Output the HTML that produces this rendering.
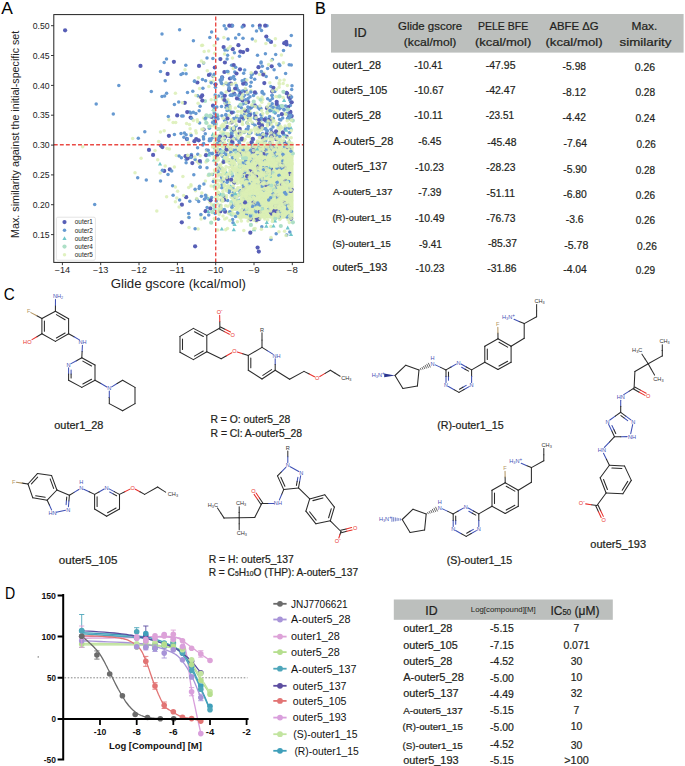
<!DOCTYPE html>
<html><head><meta charset="utf-8"><style>
html,body{margin:0;padding:0;background:#fff;}
body{width:685px;height:766px;overflow:hidden;}
svg{display:block;font-family:"Liberation Sans", sans-serif;}
.tb text{stroke:#231f20;stroke-width:0.22px;}
</style></head><body>
<svg width="685" height="766" viewBox="0 0 685 766">
<rect width="685" height="766" fill="#fff"/>
<defs><circle id="m1" r="2.1" fill="#575eb6"/><circle id="m2" r="1.75" fill="#6699d1"/><path id="m3" d="M0 -2.1L2.1 1.7L-2.1 1.7Z" fill="#70c6ca"/><circle id="m4" r="2.1" fill="#addfc6"/><circle id="m5" r="1.75" fill="#dbefb5" fill-opacity="0.85"/></defs>
<text x="1.2" y="14.0" font-size="17" textLength="11.6" lengthAdjust="spacingAndGlyphs">A</text>
<rect x="241" y="146.5" width="52.5" height="72" fill="#dbefb5"/>
<g>
<use href="#m1" x="289.3" y="116.2"/>
<use href="#m1" x="194.4" y="141.2"/>
<use href="#m1" x="216.1" y="137.1"/>
<use href="#m1" x="225.1" y="211.7"/>
<use href="#m1" x="266.3" y="36.6"/>
<use href="#m1" x="181.8" y="222.3"/>
<use href="#m1" x="225.4" y="136.5"/>
<use href="#m1" x="224.4" y="72.0"/>
<use href="#m1" x="280.3" y="168.3"/>
<use href="#m1" x="160.9" y="145.6"/>
<use href="#m1" x="245.4" y="83.2"/>
<use href="#m1" x="286.6" y="136.6"/>
<use href="#m1" x="291.2" y="218.8"/>
<use href="#m1" x="232.8" y="49.2"/>
<use href="#m2" x="227.6" y="200.6"/>
<use href="#m2" x="113.3" y="114.1"/>
<use href="#m2" x="269.0" y="145.8"/>
<use href="#m1" x="285.2" y="191.8"/>
<use href="#m2" x="289.8" y="188.1"/>
<use href="#m2" x="237.3" y="89.2"/>
<use href="#m1" x="226.8" y="105.4"/>
<use href="#m2" x="262.3" y="66.2"/>
<use href="#m1" x="239.4" y="120.9"/>
<use href="#m2" x="252.2" y="141.7"/>
<use href="#m2" x="189.6" y="112.1"/>
<use href="#m2" x="201.4" y="196.2"/>
<use href="#m2" x="289.8" y="232.0"/>
<use href="#m1" x="286.6" y="44.4"/>
<use href="#m2" x="243.2" y="96.9"/>
<use href="#m1" x="241.9" y="138.6"/>
<use href="#m1" x="223.6" y="47.1"/>
<use href="#m2" x="233.7" y="138.3"/>
<use href="#m2" x="213.1" y="76.4"/>
<use href="#m2" x="264.9" y="135.7"/>
<use href="#m2" x="252.4" y="74.2"/>
<use href="#m1" x="215.5" y="84.3"/>
<use href="#m2" x="225.9" y="28.7"/>
<use href="#m2" x="274.2" y="158.0"/>
<use href="#m2" x="231.7" y="204.8"/>
<use href="#m2" x="257.5" y="107.1"/>
<use href="#m2" x="228.9" y="140.6"/>
<use href="#m2" x="199.6" y="123.0"/>
<use href="#m2" x="238.5" y="134.7"/>
<use href="#m2" x="259.1" y="108.6"/>
<use href="#m2" x="228.5" y="160.1"/>
<use href="#m1" x="236.4" y="202.9"/>
<use href="#m2" x="215.1" y="136.2"/>
<use href="#m2" x="237.8" y="135.6"/>
<use href="#m2" x="245.7" y="103.5"/>
<use href="#m2" x="212.2" y="153.8"/>
<use href="#m2" x="291.3" y="64.9"/>
<use href="#m2" x="239.0" y="90.8"/>
<use href="#m2" x="251.2" y="77.4"/>
<use href="#m2" x="239.6" y="130.6"/>
<use href="#m1" x="258.5" y="67.2"/>
<use href="#m2" x="256.5" y="31.0"/>
<use href="#m2" x="231.2" y="25.7"/>
<use href="#m2" x="225.2" y="103.0"/>
<use href="#m1" x="234.1" y="93.6"/>
<use href="#m2" x="238.9" y="34.6"/>
<use href="#m2" x="218.9" y="167.7"/>
<use href="#m1" x="231.9" y="25.7"/>
<use href="#m2" x="216.3" y="164.6"/>
<use href="#m2" x="239.5" y="94.1"/>
<use href="#m2" x="235.1" y="94.7"/>
<use href="#m3" x="229.4" y="110.0"/>
<use href="#m2" x="279.0" y="123.8"/>
<use href="#m2" x="244.4" y="95.2"/>
<use href="#m2" x="272.0" y="172.9"/>
<use href="#m2" x="248.6" y="198.6"/>
<use href="#m2" x="280.6" y="215.4"/>
<use href="#m2" x="248.7" y="134.0"/>
<use href="#m2" x="207.2" y="116.0"/>
<use href="#m2" x="209.8" y="153.3"/>
<use href="#m1" x="248.2" y="102.1"/>
<use href="#m1" x="231.6" y="122.4"/>
<use href="#m2" x="236.0" y="205.6"/>
<use href="#m2" x="216.8" y="149.1"/>
<use href="#m2" x="267.8" y="149.9"/>
<use href="#m2" x="284.8" y="195.3"/>
<use href="#m2" x="290.7" y="102.1"/>
<use href="#m3" x="229.4" y="109.0"/>
<use href="#m1" x="169.8" y="169.4"/>
<use href="#m1" x="291.6" y="189.5"/>
<use href="#m2" x="265.8" y="118.1"/>
<use href="#m2" x="232.0" y="144.3"/>
<use href="#m2" x="244.7" y="70.1"/>
<use href="#m4" x="250.6" y="195.0"/>
<use href="#m2" x="285.4" y="128.1"/>
<use href="#m2" x="246.1" y="84.2"/>
<use href="#m2" x="241.0" y="190.4"/>
<use href="#m2" x="220.5" y="154.1"/>
<use href="#m2" x="266.7" y="119.2"/>
<use href="#m2" x="243.2" y="181.1"/>
<use href="#m1" x="192.3" y="163.1"/>
<use href="#m3" x="212.8" y="134.2"/>
<use href="#m2" x="221.6" y="177.4"/>
<use href="#m2" x="291.1" y="119.8"/>
<use href="#m2" x="277.3" y="201.2"/>
<use href="#m1" x="244.6" y="172.7"/>
<use href="#m4" x="209.8" y="116.4"/>
<use href="#m2" x="236.3" y="190.3"/>
<use href="#m2" x="250.4" y="154.3"/>
<use href="#m2" x="290.3" y="105.4"/>
<use href="#m1" x="286.4" y="92.8"/>
<use href="#m4" x="269.8" y="110.8"/>
<use href="#m2" x="228.6" y="136.3"/>
<use href="#m2" x="246.4" y="129.2"/>
<use href="#m2" x="260.0" y="109.2"/>
<use href="#m2" x="230.3" y="95.3"/>
<use href="#m2" x="277.6" y="189.3"/>
<use href="#m1" x="190.6" y="117.6"/>
<use href="#m2" x="281.8" y="204.5"/>
<use href="#m2" x="281.8" y="191.8"/>
<use href="#m2" x="254.3" y="161.4"/>
<use href="#m2" x="277.1" y="215.8"/>
<use href="#m4" x="215.5" y="100.0"/>
<use href="#m2" x="168.3" y="116.5"/>
<use href="#m2" x="240.4" y="204.1"/>
<use href="#m1" x="214.8" y="67.5"/>
<use href="#m2" x="214.8" y="136.1"/>
<use href="#m2" x="272.3" y="59.6"/>
<use href="#m1" x="255.3" y="116.0"/>
<use href="#m1" x="238.4" y="45.2"/>
<use href="#m1" x="249.7" y="113.7"/>
<use href="#m5" x="247.6" y="183.3"/>
<use href="#m4" x="267.4" y="112.1"/>
<use href="#m5" x="223.2" y="84.7"/>
<use href="#m5" x="224.0" y="156.6"/>
<use href="#m5" x="261.8" y="182.8"/>
<use href="#m5" x="199.1" y="97.0"/>
<use href="#m5" x="278.2" y="143.8"/>
<use href="#m5" x="258.9" y="202.1"/>
<use href="#m5" x="249.6" y="214.1"/>
<use href="#m2" x="276.1" y="162.0"/>
<use href="#m2" x="243.1" y="178.6"/>
<use href="#m5" x="226.7" y="217.9"/>
<use href="#m2" x="224.6" y="120.6"/>
<use href="#m2" x="287.9" y="118.4"/>
<use href="#m2" x="285.1" y="144.8"/>
<use href="#m5" x="264.4" y="210.2"/>
<use href="#m2" x="233.5" y="112.2"/>
<use href="#m5" x="243.5" y="192.8"/>
<use href="#m2" x="195.9" y="113.4"/>
<use href="#m2" x="255.9" y="93.3"/>
<use href="#m5" x="232.8" y="90.9"/>
<use href="#m5" x="252.0" y="104.8"/>
<use href="#m5" x="234.2" y="150.5"/>
<use href="#m5" x="231.7" y="211.6"/>
<use href="#m5" x="278.0" y="193.9"/>
<use href="#m5" x="261.7" y="202.0"/>
<use href="#m5" x="242.5" y="189.1"/>
<use href="#m2" x="186.1" y="73.8"/>
<use href="#m1" x="187.2" y="112.1"/>
<use href="#m5" x="186.6" y="123.6"/>
<use href="#m1" x="282.3" y="184.4"/>
<use href="#m5" x="225.7" y="205.8"/>
<use href="#m5" x="251.9" y="174.9"/>
<use href="#m3" x="291.0" y="234.3"/>
<use href="#m5" x="241.0" y="131.5"/>
<use href="#m1" x="240.9" y="92.9"/>
<use href="#m2" x="221.2" y="180.4"/>
<use href="#m5" x="226.0" y="153.9"/>
<use href="#m5" x="280.5" y="162.3"/>
<use href="#m1" x="211.8" y="116.9"/>
<use href="#m1" x="273.4" y="186.2"/>
<use href="#m2" x="242.4" y="211.9"/>
<use href="#m2" x="251.2" y="82.2"/>
<use href="#m5" x="273.3" y="203.4"/>
<use href="#m2" x="248.1" y="129.1"/>
<use href="#m4" x="264.3" y="141.7"/>
<use href="#m5" x="228.7" y="185.7"/>
<use href="#m5" x="245.8" y="155.6"/>
<use href="#m5" x="244.6" y="171.8"/>
<use href="#m5" x="255.5" y="208.4"/>
<use href="#m2" x="222.4" y="97.4"/>
<use href="#m1" x="276.3" y="139.2"/>
<use href="#m2" x="218.7" y="96.1"/>
<use href="#m2" x="215.2" y="94.9"/>
<use href="#m5" x="277.2" y="188.8"/>
<use href="#m5" x="253.1" y="217.7"/>
<use href="#m2" x="227.1" y="59.1"/>
<use href="#m5" x="279.0" y="83.1"/>
<use href="#m5" x="227.7" y="160.5"/>
<use href="#m5" x="283.2" y="188.9"/>
<use href="#m5" x="254.6" y="218.1"/>
<use href="#m5" x="229.2" y="140.9"/>
<use href="#m5" x="261.7" y="150.3"/>
<use href="#m5" x="282.3" y="198.7"/>
<use href="#m5" x="215.2" y="218.9"/>
<use href="#m2" x="225.5" y="152.9"/>
<use href="#m5" x="285.1" y="186.3"/>
<use href="#m1" x="236.3" y="200.7"/>
<use href="#m2" x="138.3" y="138.2"/>
<use href="#m5" x="283.9" y="193.6"/>
<use href="#m5" x="251.8" y="169.4"/>
<use href="#m2" x="118.8" y="85.4"/>
<use href="#m2" x="207.1" y="207.5"/>
<use href="#m2" x="261.0" y="63.0"/>
<use href="#m1" x="227.4" y="106.0"/>
<use href="#m5" x="254.9" y="158.4"/>
<use href="#m5" x="246.2" y="157.1"/>
<use href="#m5" x="264.6" y="200.0"/>
<use href="#m5" x="288.6" y="177.6"/>
<use href="#m1" x="288.7" y="96.9"/>
<use href="#m5" x="274.2" y="183.3"/>
<use href="#m5" x="280.1" y="128.3"/>
<use href="#m5" x="239.6" y="204.9"/>
<use href="#m5" x="284.8" y="143.1"/>
<use href="#m5" x="236.8" y="205.1"/>
<use href="#m5" x="283.5" y="143.2"/>
<use href="#m5" x="238.1" y="167.3"/>
<use href="#m4" x="206.4" y="115.3"/>
<use href="#m5" x="244.0" y="160.9"/>
<use href="#m5" x="254.3" y="169.7"/>
<use href="#m5" x="272.3" y="198.3"/>
<use href="#m2" x="216.8" y="107.1"/>
<use href="#m5" x="259.2" y="122.5"/>
<use href="#m5" x="290.7" y="203.4"/>
<use href="#m2" x="226.0" y="107.5"/>
<use href="#m5" x="280.5" y="188.5"/>
<use href="#m5" x="270.7" y="149.3"/>
<use href="#m2" x="217.9" y="171.1"/>
<use href="#m5" x="253.6" y="151.6"/>
<use href="#m2" x="278.9" y="201.5"/>
<use href="#m2" x="231.1" y="154.7"/>
<use href="#m5" x="188.7" y="187.5"/>
<use href="#m4" x="281.6" y="153.2"/>
<use href="#m5" x="232.4" y="209.3"/>
<use href="#m5" x="272.3" y="212.9"/>
<use href="#m2" x="209.3" y="140.7"/>
<use href="#m5" x="235.4" y="198.1"/>
<use href="#m5" x="280.4" y="194.0"/>
<use href="#m2" x="229.3" y="105.5"/>
<use href="#m2" x="191.7" y="118.6"/>
<use href="#m5" x="249.2" y="165.9"/>
<use href="#m5" x="225.4" y="169.6"/>
<use href="#m5" x="189.5" y="124.4"/>
<use href="#m1" x="288.1" y="107.1"/>
<use href="#m5" x="266.4" y="145.1"/>
<use href="#m5" x="249.1" y="211.2"/>
<use href="#m2" x="277.2" y="198.6"/>
<use href="#m5" x="244.1" y="184.6"/>
<use href="#m5" x="240.9" y="187.0"/>
<use href="#m5" x="240.4" y="194.7"/>
<use href="#m5" x="252.1" y="187.8"/>
<use href="#m5" x="253.0" y="179.1"/>
<use href="#m1" x="227.2" y="127.2"/>
<use href="#m2" x="229.3" y="106.4"/>
<use href="#m5" x="261.9" y="182.6"/>
<use href="#m3" x="291.1" y="128.1"/>
<use href="#m2" x="215.2" y="117.5"/>
<use href="#m2" x="230.5" y="172.7"/>
<use href="#m5" x="248.0" y="160.8"/>
<use href="#m5" x="214.1" y="146.7"/>
<use href="#m5" x="250.7" y="197.7"/>
<use href="#m2" x="232.3" y="132.6"/>
<use href="#m2" x="234.5" y="205.0"/>
<use href="#m5" x="182.9" y="176.6"/>
<use href="#m5" x="291.1" y="202.0"/>
<use href="#m5" x="220.1" y="180.6"/>
<use href="#m4" x="227.2" y="189.7"/>
<use href="#m5" x="288.0" y="152.7"/>
<use href="#m5" x="218.9" y="207.8"/>
<use href="#m1" x="203.6" y="129.5"/>
<use href="#m2" x="272.5" y="135.4"/>
<use href="#m5" x="277.6" y="189.0"/>
<use href="#m5" x="277.4" y="193.4"/>
<use href="#m5" x="279.7" y="171.7"/>
<use href="#m5" x="226.5" y="151.2"/>
<use href="#m2" x="249.8" y="161.3"/>
<use href="#m5" x="286.2" y="164.3"/>
<use href="#m2" x="260.8" y="108.2"/>
<use href="#m5" x="237.6" y="170.8"/>
<use href="#m5" x="291.2" y="137.8"/>
<use href="#m5" x="234.9" y="151.2"/>
<use href="#m2" x="252.6" y="180.9"/>
<use href="#m1" x="199.0" y="65.9"/>
<use href="#m5" x="132.7" y="138.6"/>
<use href="#m5" x="245.4" y="200.3"/>
<use href="#m5" x="227.9" y="146.7"/>
<use href="#m5" x="283.2" y="216.8"/>
<use href="#m5" x="214.0" y="179.2"/>
<use href="#m5" x="270.3" y="166.5"/>
<use href="#m5" x="252.5" y="205.7"/>
<use href="#m5" x="195.7" y="130.8"/>
<use href="#m5" x="214.5" y="169.9"/>
<use href="#m5" x="247.4" y="145.6"/>
<use href="#m5" x="267.4" y="187.5"/>
<use href="#m5" x="239.7" y="214.7"/>
<use href="#m5" x="242.6" y="121.0"/>
<use href="#m1" x="197.4" y="82.5"/>
<use href="#m2" x="270.6" y="152.3"/>
<use href="#m5" x="226.5" y="191.1"/>
<use href="#m1" x="184.8" y="102.8"/>
<use href="#m2" x="220.2" y="149.7"/>
<use href="#m5" x="198.4" y="77.8"/>
<use href="#m2" x="239.4" y="143.3"/>
<use href="#m5" x="236.7" y="203.4"/>
<use href="#m5" x="250.2" y="178.5"/>
<use href="#m5" x="288.0" y="164.5"/>
<use href="#m1" x="283.0" y="154.6"/>
<use href="#m5" x="197.2" y="161.6"/>
<use href="#m5" x="286.5" y="188.3"/>
<use href="#m5" x="288.9" y="209.2"/>
<use href="#m5" x="260.6" y="162.8"/>
<use href="#m5" x="268.0" y="212.7"/>
<use href="#m5" x="277.9" y="178.5"/>
<use href="#m5" x="232.1" y="167.3"/>
<use href="#m5" x="237.7" y="111.4"/>
<use href="#m5" x="288.0" y="179.9"/>
<use href="#m2" x="279.8" y="65.6"/>
<use href="#m2" x="263.9" y="93.9"/>
<use href="#m5" x="278.5" y="146.4"/>
<use href="#m5" x="267.9" y="146.1"/>
<use href="#m3" x="269.8" y="136.5"/>
<use href="#m5" x="255.1" y="149.2"/>
<use href="#m5" x="260.9" y="190.0"/>
<use href="#m4" x="231.6" y="130.3"/>
<use href="#m5" x="279.8" y="147.8"/>
<use href="#m5" x="268.7" y="176.8"/>
<use href="#m2" x="274.7" y="155.6"/>
<use href="#m5" x="263.9" y="173.8"/>
<use href="#m5" x="257.8" y="162.7"/>
<use href="#m1" x="286.2" y="41.9"/>
<use href="#m5" x="288.6" y="144.0"/>
<use href="#m2" x="279.0" y="64.3"/>
<use href="#m5" x="241.4" y="221.1"/>
<use href="#m5" x="203.4" y="136.8"/>
<use href="#m5" x="244.1" y="163.1"/>
<use href="#m5" x="233.2" y="145.5"/>
<use href="#m5" x="285.5" y="145.4"/>
<use href="#m5" x="241.5" y="166.3"/>
<use href="#m2" x="277.0" y="187.5"/>
<use href="#m5" x="287.8" y="165.0"/>
<use href="#m5" x="237.5" y="204.0"/>
<use href="#m5" x="288.7" y="170.6"/>
<use href="#m5" x="232.5" y="201.5"/>
<use href="#m5" x="251.8" y="147.6"/>
<use href="#m5" x="266.5" y="177.0"/>
<use href="#m5" x="219.5" y="165.3"/>
<use href="#m2" x="204.6" y="217.9"/>
<use href="#m5" x="249.4" y="109.8"/>
<use href="#m5" x="252.7" y="183.6"/>
<use href="#m2" x="260.9" y="120.6"/>
<use href="#m1" x="240.1" y="152.3"/>
<use href="#m2" x="245.0" y="110.7"/>
<use href="#m1" x="290.4" y="111.9"/>
<use href="#m5" x="158.7" y="141.6"/>
<use href="#m5" x="236.2" y="146.7"/>
<use href="#m5" x="270.8" y="165.8"/>
<use href="#m5" x="203.3" y="129.2"/>
<use href="#m2" x="232.1" y="135.5"/>
<use href="#m2" x="257.7" y="163.4"/>
<use href="#m5" x="228.7" y="213.1"/>
<use href="#m5" x="222.2" y="163.3"/>
<use href="#m2" x="227.2" y="145.0"/>
<use href="#m5" x="235.1" y="121.4"/>
<use href="#m5" x="195.5" y="190.7"/>
<use href="#m2" x="283.5" y="50.6"/>
<use href="#m5" x="285.2" y="213.5"/>
<use href="#m3" x="289.4" y="140.7"/>
<use href="#m5" x="233.7" y="182.8"/>
<use href="#m5" x="230.9" y="197.1"/>
<use href="#m5" x="253.8" y="160.1"/>
<use href="#m5" x="246.0" y="102.7"/>
<use href="#m5" x="215.2" y="162.1"/>
<use href="#m5" x="236.9" y="134.1"/>
<use href="#m4" x="248.5" y="161.3"/>
<use href="#m2" x="270.1" y="100.5"/>
<use href="#m5" x="260.2" y="197.3"/>
<use href="#m1" x="258.8" y="251.6"/>
<use href="#m5" x="273.4" y="215.7"/>
<use href="#m5" x="238.0" y="154.9"/>
<use href="#m4" x="213.6" y="120.8"/>
<use href="#m5" x="226.3" y="197.6"/>
<use href="#m2" x="271.3" y="110.5"/>
<use href="#m5" x="267.1" y="151.6"/>
<use href="#m1" x="266.7" y="133.8"/>
<use href="#m2" x="242.6" y="91.0"/>
<use href="#m5" x="245.6" y="154.1"/>
<use href="#m5" x="220.5" y="145.6"/>
<use href="#m5" x="218.8" y="152.2"/>
<use href="#m5" x="215.3" y="140.7"/>
<use href="#m2" x="257.7" y="149.6"/>
<use href="#m5" x="251.6" y="164.0"/>
<use href="#m5" x="215.6" y="197.4"/>
<use href="#m5" x="271.7" y="202.3"/>
<use href="#m5" x="233.3" y="68.5"/>
<use href="#m5" x="248.8" y="200.3"/>
<use href="#m5" x="221.3" y="170.0"/>
<use href="#m5" x="268.4" y="184.1"/>
<use href="#m5" x="227.9" y="155.7"/>
<use href="#m5" x="263.6" y="155.7"/>
<use href="#m2" x="213.3" y="181.5"/>
<use href="#m5" x="212.6" y="212.6"/>
<use href="#m5" x="217.2" y="136.6"/>
<use href="#m5" x="283.6" y="200.4"/>
<use href="#m5" x="235.1" y="200.9"/>
<use href="#m5" x="257.5" y="161.1"/>
<use href="#m5" x="241.0" y="214.1"/>
<use href="#m2" x="225.4" y="119.4"/>
<use href="#m5" x="193.4" y="120.4"/>
<use href="#m5" x="239.1" y="145.5"/>
<use href="#m2" x="241.5" y="179.1"/>
<use href="#m2" x="271.7" y="151.3"/>
<use href="#m5" x="253.4" y="170.0"/>
<use href="#m5" x="284.2" y="181.2"/>
<use href="#m2" x="137.7" y="177.7"/>
<use href="#m5" x="260.8" y="215.5"/>
<use href="#m5" x="260.4" y="201.1"/>
<use href="#m5" x="262.9" y="173.0"/>
<use href="#m4" x="217.3" y="145.4"/>
<use href="#m5" x="256.1" y="184.3"/>
<use href="#m5" x="218.3" y="158.3"/>
<use href="#m5" x="277.4" y="172.0"/>
<use href="#m5" x="215.6" y="135.9"/>
<use href="#m2" x="277.4" y="171.2"/>
<use href="#m5" x="189.0" y="227.4"/>
<use href="#m5" x="247.3" y="193.7"/>
<use href="#m2" x="210.4" y="199.7"/>
<use href="#m5" x="278.9" y="202.6"/>
<use href="#m2" x="233.0" y="143.0"/>
<use href="#m2" x="251.3" y="107.8"/>
<use href="#m5" x="242.2" y="204.1"/>
<use href="#m5" x="273.8" y="167.2"/>
<use href="#m5" x="223.9" y="173.7"/>
<use href="#m5" x="249.1" y="181.6"/>
<use href="#m5" x="243.1" y="165.0"/>
<use href="#m5" x="198.1" y="229.1"/>
<use href="#m5" x="277.6" y="190.1"/>
<use href="#m5" x="288.1" y="219.8"/>
<use href="#m5" x="250.0" y="172.0"/>
<use href="#m2" x="221.5" y="106.4"/>
<use href="#m5" x="238.5" y="207.4"/>
<use href="#m5" x="220.7" y="186.3"/>
<use href="#m1" x="258.3" y="152.8"/>
<use href="#m2" x="224.2" y="199.4"/>
<use href="#m5" x="256.3" y="181.0"/>
<use href="#m2" x="229.3" y="192.4"/>
<use href="#m5" x="233.5" y="197.8"/>
<use href="#m5" x="279.4" y="187.5"/>
<use href="#m5" x="289.3" y="179.4"/>
<use href="#m5" x="260.6" y="160.9"/>
<use href="#m5" x="274.5" y="165.0"/>
<use href="#m2" x="291.7" y="89.6"/>
<use href="#m5" x="271.8" y="161.3"/>
<use href="#m2" x="222.1" y="184.8"/>
<use href="#m5" x="282.4" y="160.0"/>
<use href="#m2" x="268.5" y="110.1"/>
<use href="#m5" x="267.4" y="154.2"/>
<use href="#m2" x="232.6" y="219.6"/>
<use href="#m5" x="222.0" y="210.1"/>
<use href="#m1" x="290.7" y="147.1"/>
<use href="#m5" x="256.1" y="187.2"/>
<use href="#m2" x="257.3" y="184.8"/>
<use href="#m4" x="281.3" y="106.0"/>
<use href="#m1" x="186.9" y="139.1"/>
<use href="#m5" x="276.6" y="148.0"/>
<use href="#m5" x="287.6" y="157.3"/>
<use href="#m5" x="240.6" y="155.9"/>
<use href="#m5" x="267.3" y="162.4"/>
<use href="#m5" x="258.2" y="184.5"/>
<use href="#m1" x="260.5" y="161.6"/>
<use href="#m2" x="239.5" y="56.2"/>
<use href="#m5" x="268.4" y="162.0"/>
<use href="#m5" x="237.8" y="187.8"/>
<use href="#m5" x="258.8" y="195.7"/>
<use href="#m5" x="273.9" y="166.1"/>
<use href="#m5" x="286.6" y="182.0"/>
<use href="#m2" x="244.9" y="79.6"/>
<use href="#m5" x="221.0" y="205.0"/>
<use href="#m2" x="244.9" y="90.6"/>
<use href="#m5" x="287.9" y="171.1"/>
<use href="#m2" x="192.8" y="91.3"/>
<use href="#m5" x="222.8" y="162.1"/>
<use href="#m5" x="246.0" y="149.3"/>
<use href="#m5" x="250.6" y="232.7"/>
<use href="#m5" x="285.5" y="204.1"/>
<use href="#m5" x="220.9" y="140.2"/>
<use href="#m5" x="270.7" y="206.1"/>
<use href="#m2" x="256.7" y="202.7"/>
<use href="#m5" x="182.4" y="102.8"/>
<use href="#m5" x="175.4" y="93.3"/>
<use href="#m5" x="275.0" y="106.6"/>
<use href="#m2" x="252.7" y="25.7"/>
<use href="#m5" x="280.1" y="179.9"/>
<use href="#m5" x="257.4" y="144.9"/>
<use href="#m5" x="284.7" y="179.5"/>
<use href="#m5" x="281.3" y="173.1"/>
<use href="#m5" x="205.4" y="180.9"/>
<use href="#m1" x="201.0" y="97.0"/>
<use href="#m5" x="217.8" y="204.1"/>
<use href="#m2" x="200.3" y="162.4"/>
<use href="#m1" x="254.9" y="92.4"/>
<use href="#m2" x="229.8" y="160.2"/>
<use href="#m5" x="287.2" y="186.8"/>
<use href="#m2" x="221.6" y="83.4"/>
<use href="#m3" x="274.2" y="148.5"/>
<use href="#m5" x="263.9" y="174.0"/>
<use href="#m5" x="268.0" y="152.3"/>
<use href="#m2" x="239.4" y="99.2"/>
<use href="#m5" x="264.0" y="153.2"/>
<use href="#m5" x="266.7" y="158.3"/>
<use href="#m3" x="160.0" y="163.8"/>
<use href="#m5" x="155.0" y="150.5"/>
<use href="#m1" x="264.3" y="83.1"/>
<use href="#m5" x="229.2" y="213.8"/>
<use href="#m5" x="248.3" y="197.8"/>
<use href="#m5" x="272.9" y="167.8"/>
<use href="#m1" x="248.9" y="118.8"/>
<use href="#m5" x="210.6" y="197.8"/>
<use href="#m5" x="270.2" y="179.3"/>
<use href="#m5" x="270.0" y="139.1"/>
<use href="#m5" x="274.8" y="45.4"/>
<use href="#m5" x="260.2" y="163.3"/>
<use href="#m5" x="248.4" y="124.3"/>
<use href="#m4" x="215.9" y="123.9"/>
<use href="#m2" x="195.1" y="228.8"/>
<use href="#m5" x="252.1" y="169.5"/>
<use href="#m5" x="227.4" y="148.5"/>
<use href="#m5" x="269.0" y="183.2"/>
<use href="#m1" x="210.4" y="208.4"/>
<use href="#m5" x="247.5" y="185.7"/>
<use href="#m5" x="229.8" y="220.4"/>
<use href="#m5" x="260.6" y="179.9"/>
<use href="#m5" x="246.9" y="180.6"/>
<use href="#m5" x="250.9" y="130.6"/>
<use href="#m5" x="243.7" y="184.2"/>
<use href="#m2" x="249.1" y="172.5"/>
<use href="#m5" x="232.2" y="146.3"/>
<use href="#m2" x="220.1" y="79.9"/>
<use href="#m5" x="282.5" y="174.9"/>
<use href="#m5" x="232.4" y="215.1"/>
<use href="#m1" x="216.7" y="116.4"/>
<use href="#m5" x="273.1" y="192.1"/>
<use href="#m5" x="277.7" y="158.8"/>
<use href="#m5" x="284.8" y="183.0"/>
<use href="#m5" x="270.9" y="161.5"/>
<use href="#m2" x="271.7" y="121.4"/>
<use href="#m2" x="190.9" y="113.1"/>
<use href="#m2" x="247.4" y="116.2"/>
<use href="#m5" x="201.1" y="218.9"/>
<use href="#m5" x="287.1" y="196.0"/>
<use href="#m5" x="255.9" y="205.6"/>
<use href="#m2" x="289.7" y="100.1"/>
<use href="#m4" x="210.5" y="115.7"/>
<use href="#m5" x="224.4" y="145.6"/>
<use href="#m1" x="217.6" y="151.7"/>
<use href="#m5" x="266.7" y="184.8"/>
<use href="#m2" x="189.8" y="201.2"/>
<use href="#m5" x="246.8" y="160.6"/>
<use href="#m5" x="236.6" y="208.2"/>
<use href="#m2" x="265.3" y="136.1"/>
<use href="#m5" x="291.5" y="186.3"/>
<use href="#m5" x="240.5" y="181.9"/>
<use href="#m1" x="237.0" y="98.4"/>
<use href="#m5" x="279.3" y="127.9"/>
<use href="#m5" x="291.9" y="156.3"/>
<use href="#m5" x="221.7" y="170.4"/>
<use href="#m2" x="257.8" y="153.7"/>
<use href="#m2" x="231.1" y="164.3"/>
<use href="#m1" x="222.1" y="77.3"/>
<use href="#m5" x="263.5" y="166.2"/>
<use href="#m5" x="230.4" y="106.4"/>
<use href="#m5" x="286.5" y="173.0"/>
<use href="#m1" x="237.5" y="195.4"/>
<use href="#m5" x="266.8" y="159.0"/>
<use href="#m5" x="263.9" y="163.6"/>
<use href="#m1" x="287.1" y="93.5"/>
<use href="#m5" x="220.3" y="165.1"/>
<use href="#m5" x="289.0" y="133.1"/>
<use href="#m2" x="274.2" y="134.1"/>
<use href="#m5" x="243.5" y="110.6"/>
<use href="#m5" x="259.9" y="125.0"/>
<use href="#m5" x="255.7" y="174.9"/>
<use href="#m2" x="233.1" y="192.7"/>
<use href="#m5" x="232.0" y="160.9"/>
<use href="#m5" x="274.8" y="162.3"/>
<use href="#m5" x="254.5" y="153.9"/>
<use href="#m2" x="267.6" y="98.7"/>
<use href="#m5" x="273.2" y="158.8"/>
<use href="#m5" x="272.5" y="201.3"/>
<use href="#m2" x="249.0" y="183.9"/>
<use href="#m5" x="239.9" y="160.4"/>
<use href="#m2" x="244.7" y="114.0"/>
<use href="#m2" x="207.0" y="167.8"/>
<use href="#m2" x="181.4" y="157.7"/>
<use href="#m2" x="231.3" y="172.3"/>
<use href="#m5" x="206.0" y="162.0"/>
<use href="#m5" x="277.8" y="185.1"/>
<use href="#m5" x="236.0" y="198.6"/>
<use href="#m5" x="242.3" y="123.7"/>
<use href="#m5" x="268.4" y="149.9"/>
<use href="#m5" x="289.7" y="159.4"/>
<use href="#m5" x="265.6" y="203.1"/>
<use href="#m5" x="264.5" y="138.5"/>
<use href="#m5" x="156.8" y="211.1"/>
<use href="#m5" x="279.1" y="87.2"/>
<use href="#m5" x="239.8" y="135.1"/>
<use href="#m5" x="278.5" y="201.3"/>
<use href="#m2" x="287.0" y="194.3"/>
<use href="#m2" x="234.8" y="127.1"/>
<use href="#m2" x="146.3" y="179.9"/>
<use href="#m2" x="214.8" y="107.7"/>
<use href="#m5" x="216.1" y="184.6"/>
<use href="#m2" x="186.1" y="159.4"/>
<use href="#m2" x="191.4" y="154.4"/>
<use href="#m5" x="250.1" y="210.4"/>
<use href="#m5" x="273.9" y="120.7"/>
<use href="#m5" x="291.1" y="209.8"/>
<use href="#m2" x="286.8" y="113.6"/>
<use href="#m2" x="286.7" y="235.0"/>
<use href="#m5" x="257.3" y="129.4"/>
<use href="#m2" x="207.0" y="58.0"/>
<use href="#m5" x="262.8" y="163.4"/>
<use href="#m2" x="197.6" y="147.8"/>
<use href="#m5" x="285.7" y="158.3"/>
<use href="#m5" x="243.8" y="230.4"/>
<use href="#m1" x="219.7" y="142.1"/>
<use href="#m2" x="193.8" y="174.7"/>
<use href="#m1" x="253.5" y="202.3"/>
<use href="#m5" x="283.6" y="168.3"/>
<use href="#m1" x="259.8" y="25.7"/>
<use href="#m5" x="281.7" y="175.4"/>
<use href="#m2" x="276.7" y="135.8"/>
<use href="#m1" x="234.4" y="182.6"/>
<use href="#m5" x="248.6" y="166.3"/>
<use href="#m5" x="260.7" y="165.6"/>
<use href="#m1" x="233.5" y="128.8"/>
<use href="#m5" x="231.8" y="170.3"/>
<use href="#m5" x="286.7" y="207.4"/>
<use href="#m5" x="239.8" y="206.3"/>
<use href="#m5" x="260.2" y="168.0"/>
<use href="#m5" x="230.3" y="181.9"/>
<use href="#m2" x="273.2" y="118.5"/>
<use href="#m5" x="261.5" y="148.3"/>
<use href="#m5" x="265.8" y="159.7"/>
<use href="#m5" x="279.7" y="219.5"/>
<use href="#m2" x="239.2" y="118.7"/>
<use href="#m5" x="254.5" y="201.5"/>
<use href="#m2" x="267.3" y="130.8"/>
<use href="#m1" x="230.0" y="78.5"/>
<use href="#m5" x="254.6" y="167.2"/>
<use href="#m5" x="285.1" y="152.1"/>
<use href="#m5" x="244.5" y="156.5"/>
<use href="#m5" x="269.3" y="153.6"/>
<use href="#m2" x="242.4" y="154.9"/>
<use href="#m5" x="282.8" y="166.7"/>
<use href="#m3" x="279.6" y="175.3"/>
<use href="#m5" x="280.2" y="157.4"/>
<use href="#m5" x="254.8" y="160.7"/>
<use href="#m5" x="264.3" y="137.1"/>
<use href="#m5" x="266.8" y="205.3"/>
<use href="#m5" x="274.7" y="208.8"/>
<use href="#m5" x="278.9" y="205.8"/>
<use href="#m5" x="283.4" y="62.8"/>
<use href="#m1" x="269.6" y="123.6"/>
<use href="#m5" x="288.0" y="207.6"/>
<use href="#m5" x="276.5" y="157.8"/>
<use href="#m4" x="212.2" y="211.9"/>
<use href="#m2" x="242.1" y="181.7"/>
<use href="#m2" x="232.7" y="175.9"/>
<use href="#m2" x="262.9" y="139.1"/>
<use href="#m1" x="269.8" y="211.3"/>
<use href="#m5" x="289.7" y="181.0"/>
<use href="#m2" x="241.8" y="210.0"/>
<use href="#m5" x="275.8" y="96.5"/>
<use href="#m5" x="227.1" y="189.0"/>
<use href="#m2" x="239.2" y="200.2"/>
<use href="#m2" x="244.8" y="150.5"/>
<use href="#m2" x="217.8" y="129.0"/>
<use href="#m5" x="260.9" y="178.5"/>
<use href="#m5" x="224.9" y="174.7"/>
<use href="#m5" x="220.1" y="143.9"/>
<use href="#m5" x="271.2" y="216.9"/>
<use href="#m5" x="290.8" y="169.0"/>
<use href="#m4" x="240.9" y="150.4"/>
<use href="#m5" x="262.2" y="146.6"/>
<use href="#m3" x="287.7" y="227.7"/>
<use href="#m2" x="253.5" y="95.6"/>
<use href="#m2" x="262.7" y="133.5"/>
<use href="#m5" x="276.6" y="211.0"/>
<use href="#m1" x="230.9" y="83.7"/>
<use href="#m5" x="203.5" y="118.0"/>
<use href="#m5" x="242.2" y="199.0"/>
<use href="#m2" x="278.5" y="137.4"/>
<use href="#m5" x="241.6" y="201.7"/>
<use href="#m2" x="181.7" y="115.9"/>
<use href="#m5" x="160.5" y="132.1"/>
<use href="#m5" x="269.3" y="154.2"/>
<use href="#m5" x="288.3" y="175.5"/>
<use href="#m5" x="250.8" y="206.3"/>
<use href="#m5" x="235.3" y="153.4"/>
<use href="#m5" x="217.8" y="180.3"/>
<use href="#m5" x="281.3" y="181.1"/>
<use href="#m5" x="251.6" y="177.8"/>
<use href="#m5" x="262.7" y="123.8"/>
<use href="#m5" x="267.7" y="177.7"/>
<use href="#m2" x="220.3" y="206.0"/>
<use href="#m5" x="271.6" y="166.2"/>
<use href="#m1" x="213.0" y="105.7"/>
<use href="#m1" x="257.4" y="203.9"/>
<use href="#m3" x="285.0" y="135.4"/>
<use href="#m2" x="261.4" y="149.0"/>
<use href="#m5" x="281.8" y="114.4"/>
<use href="#m5" x="289.2" y="161.3"/>
<use href="#m1" x="262.0" y="125.4"/>
<use href="#m5" x="258.7" y="196.8"/>
<use href="#m5" x="290.1" y="119.1"/>
<use href="#m1" x="224.1" y="196.6"/>
<use href="#m5" x="202.5" y="45.3"/>
<use href="#m5" x="229.5" y="123.2"/>
<use href="#m2" x="250.9" y="132.8"/>
<use href="#m2" x="209.5" y="139.0"/>
<use href="#m5" x="281.1" y="212.9"/>
<use href="#m5" x="275.9" y="176.5"/>
<use href="#m5" x="257.6" y="121.0"/>
<use href="#m5" x="253.8" y="166.4"/>
<use href="#m5" x="234.8" y="168.8"/>
<use href="#m5" x="261.7" y="172.7"/>
<use href="#m5" x="228.6" y="212.6"/>
<use href="#m2" x="224.4" y="209.5"/>
<use href="#m5" x="254.5" y="181.6"/>
<use href="#m5" x="239.1" y="201.7"/>
<use href="#m5" x="264.2" y="148.8"/>
<use href="#m5" x="190.9" y="184.7"/>
<use href="#m5" x="290.4" y="210.6"/>
<use href="#m2" x="197.6" y="95.8"/>
<use href="#m1" x="289.6" y="205.3"/>
<use href="#m5" x="238.6" y="194.1"/>
<use href="#m2" x="291.3" y="35.6"/>
<use href="#m5" x="254.6" y="156.0"/>
<use href="#m5" x="271.6" y="124.7"/>
<use href="#m4" x="239.7" y="194.3"/>
<use href="#m5" x="276.2" y="167.7"/>
<use href="#m5" x="288.0" y="177.9"/>
<use href="#m5" x="214.8" y="219.4"/>
<use href="#m5" x="245.2" y="205.5"/>
<use href="#m1" x="255.7" y="118.2"/>
<use href="#m5" x="263.2" y="182.4"/>
<use href="#m5" x="291.1" y="218.6"/>
<use href="#m5" x="242.9" y="190.0"/>
<use href="#m5" x="237.2" y="169.5"/>
<use href="#m5" x="288.6" y="216.5"/>
<use href="#m5" x="241.2" y="198.0"/>
<use href="#m5" x="257.7" y="210.4"/>
<use href="#m5" x="244.5" y="169.2"/>
<use href="#m5" x="223.6" y="194.0"/>
<use href="#m4" x="214.4" y="186.6"/>
<use href="#m5" x="233.8" y="163.9"/>
<use href="#m1" x="290.1" y="96.4"/>
<use href="#m5" x="256.4" y="213.4"/>
<use href="#m5" x="245.4" y="199.5"/>
<use href="#m5" x="275.6" y="216.9"/>
<use href="#m5" x="269.3" y="187.1"/>
<use href="#m5" x="266.4" y="178.6"/>
<use href="#m5" x="250.8" y="174.9"/>
<use href="#m5" x="250.6" y="207.0"/>
<use href="#m5" x="282.9" y="184.8"/>
<use href="#m2" x="227.3" y="50.0"/>
<use href="#m5" x="280.0" y="181.3"/>
<use href="#m2" x="236.1" y="160.0"/>
<use href="#m5" x="284.0" y="141.6"/>
<use href="#m5" x="251.2" y="165.1"/>
<use href="#m5" x="224.1" y="183.6"/>
<use href="#m5" x="265.3" y="212.0"/>
<use href="#m2" x="174.4" y="104.5"/>
<use href="#m5" x="270.3" y="145.0"/>
<use href="#m5" x="287.1" y="198.7"/>
<use href="#m2" x="258.0" y="184.3"/>
<use href="#m5" x="286.8" y="207.0"/>
<use href="#m5" x="272.0" y="165.5"/>
<use href="#m5" x="284.4" y="150.8"/>
<use href="#m5" x="247.4" y="173.2"/>
<use href="#m2" x="288.8" y="128.0"/>
<use href="#m2" x="223.4" y="186.1"/>
<use href="#m5" x="260.2" y="167.2"/>
<use href="#m2" x="289.7" y="132.4"/>
<use href="#m2" x="265.6" y="121.0"/>
<use href="#m5" x="270.4" y="133.8"/>
<use href="#m5" x="235.3" y="118.9"/>
<use href="#m5" x="239.1" y="173.0"/>
<use href="#m5" x="271.0" y="169.0"/>
<use href="#m5" x="252.9" y="161.9"/>
<use href="#m2" x="256.2" y="174.1"/>
<use href="#m2" x="250.4" y="86.3"/>
<use href="#m5" x="276.4" y="153.0"/>
<use href="#m5" x="177.6" y="191.2"/>
<use href="#m5" x="278.5" y="202.5"/>
<use href="#m5" x="270.5" y="140.3"/>
<use href="#m5" x="241.7" y="167.1"/>
<use href="#m5" x="240.5" y="215.0"/>
<use href="#m2" x="198.7" y="201.4"/>
<use href="#m2" x="291.4" y="211.5"/>
<use href="#m5" x="271.4" y="60.6"/>
<use href="#m5" x="263.2" y="168.4"/>
<use href="#m5" x="267.9" y="178.3"/>
<use href="#m5" x="248.4" y="188.6"/>
<use href="#m2" x="252.7" y="123.4"/>
<use href="#m5" x="265.8" y="152.8"/>
<use href="#m2" x="267.6" y="39.8"/>
<use href="#m5" x="230.6" y="173.3"/>
<use href="#m5" x="283.2" y="170.0"/>
<use href="#m2" x="232.7" y="165.0"/>
<use href="#m5" x="221.6" y="174.5"/>
<use href="#m1" x="254.7" y="105.4"/>
<use href="#m5" x="262.5" y="170.5"/>
<use href="#m5" x="253.9" y="215.8"/>
<use href="#m5" x="283.9" y="194.1"/>
<use href="#m5" x="243.2" y="111.0"/>
<use href="#m5" x="263.7" y="177.8"/>
<use href="#m5" x="238.7" y="163.1"/>
<use href="#m1" x="291.7" y="116.1"/>
<use href="#m1" x="238.2" y="151.8"/>
<use href="#m5" x="221.9" y="127.0"/>
<use href="#m2" x="229.8" y="211.7"/>
<use href="#m5" x="265.2" y="150.9"/>
<use href="#m2" x="165.2" y="80.7"/>
<use href="#m5" x="259.4" y="185.7"/>
<use href="#m5" x="244.1" y="177.0"/>
<use href="#m5" x="290.3" y="197.8"/>
<use href="#m5" x="201.4" y="60.9"/>
<use href="#m2" x="221.9" y="115.8"/>
<use href="#m5" x="263.2" y="197.4"/>
<use href="#m5" x="249.7" y="178.8"/>
<use href="#m5" x="214.2" y="45.5"/>
<use href="#m5" x="248.2" y="218.3"/>
<use href="#m5" x="243.5" y="163.7"/>
<use href="#m1" x="289.6" y="173.9"/>
<use href="#m5" x="269.7" y="143.6"/>
<use href="#m4" x="269.1" y="122.5"/>
<use href="#m5" x="226.8" y="145.4"/>
<use href="#m5" x="214.3" y="158.6"/>
<use href="#m2" x="246.9" y="122.7"/>
<use href="#m2" x="272.2" y="103.7"/>
<use href="#m2" x="217.4" y="143.5"/>
<use href="#m4" x="292.8" y="120.6"/>
<use href="#m5" x="262.4" y="154.6"/>
<use href="#m2" x="283.6" y="149.5"/>
<use href="#m2" x="285.6" y="73.6"/>
<use href="#m5" x="257.2" y="158.5"/>
<use href="#m5" x="165.2" y="166.0"/>
<use href="#m2" x="231.1" y="134.2"/>
<use href="#m2" x="284.5" y="141.4"/>
<use href="#m5" x="169.4" y="149.0"/>
<use href="#m2" x="171.7" y="170.9"/>
<use href="#m5" x="204.2" y="51.6"/>
<use href="#m5" x="166.6" y="196.8"/>
<use href="#m5" x="283.3" y="192.2"/>
<use href="#m5" x="283.4" y="191.3"/>
<use href="#m2" x="261.8" y="226.8"/>
<use href="#m2" x="243.5" y="119.1"/>
<use href="#m4" x="279.3" y="142.9"/>
<use href="#m5" x="237.2" y="169.5"/>
<use href="#m5" x="216.0" y="101.9"/>
<use href="#m5" x="285.1" y="169.4"/>
<use href="#m5" x="256.6" y="152.5"/>
<use href="#m5" x="272.1" y="150.0"/>
<use href="#m5" x="261.3" y="171.1"/>
<use href="#m5" x="279.6" y="147.5"/>
<use href="#m5" x="259.9" y="105.9"/>
<use href="#m5" x="274.9" y="211.8"/>
<use href="#m2" x="215.1" y="148.5"/>
<use href="#m5" x="263.3" y="181.0"/>
<use href="#m5" x="255.4" y="156.1"/>
<use href="#m2" x="172.6" y="185.7"/>
<use href="#m5" x="267.9" y="171.0"/>
<use href="#m5" x="210.0" y="202.2"/>
<use href="#m5" x="264.4" y="200.4"/>
<use href="#m5" x="247.6" y="193.6"/>
<use href="#m2" x="286.1" y="193.1"/>
<use href="#m2" x="248.3" y="126.6"/>
<use href="#m5" x="246.4" y="158.2"/>
<use href="#m5" x="241.5" y="113.7"/>
<use href="#m2" x="232.6" y="25.7"/>
<use href="#m2" x="262.2" y="143.1"/>
<use href="#m5" x="281.4" y="54.9"/>
<use href="#m1" x="277.5" y="195.2"/>
<use href="#m5" x="264.1" y="73.2"/>
<use href="#m1" x="242.1" y="117.3"/>
<use href="#m5" x="218.2" y="173.3"/>
<use href="#m2" x="202.8" y="145.0"/>
<use href="#m2" x="231.3" y="133.3"/>
<use href="#m5" x="264.9" y="145.9"/>
<use href="#m2" x="227.6" y="55.3"/>
<use href="#m5" x="257.3" y="202.3"/>
<use href="#m5" x="240.3" y="191.6"/>
<use href="#m5" x="225.8" y="197.9"/>
<use href="#m2" x="290.6" y="116.0"/>
<use href="#m2" x="271.0" y="239.4"/>
<use href="#m5" x="278.0" y="166.4"/>
<use href="#m5" x="272.5" y="183.9"/>
<use href="#m5" x="282.9" y="152.8"/>
<use href="#m5" x="176.3" y="155.5"/>
<use href="#m2" x="262.2" y="129.1"/>
<use href="#m5" x="247.9" y="169.1"/>
<use href="#m2" x="270.1" y="148.8"/>
<use href="#m5" x="291.6" y="164.6"/>
<use href="#m5" x="239.5" y="162.2"/>
<use href="#m5" x="267.9" y="183.4"/>
<use href="#m5" x="235.4" y="83.2"/>
<use href="#m5" x="254.4" y="172.7"/>
<use href="#m5" x="244.1" y="146.7"/>
<use href="#m2" x="203.9" y="184.0"/>
<use href="#m5" x="253.1" y="149.5"/>
<use href="#m2" x="257.4" y="149.6"/>
<use href="#m5" x="283.3" y="216.4"/>
<use href="#m2" x="270.9" y="146.6"/>
<use href="#m5" x="245.4" y="170.5"/>
<use href="#m5" x="242.3" y="198.9"/>
<use href="#m5" x="221.2" y="200.7"/>
<use href="#m5" x="272.3" y="198.6"/>
<use href="#m5" x="242.8" y="157.1"/>
<use href="#m2" x="226.3" y="122.5"/>
<use href="#m5" x="222.4" y="99.1"/>
<use href="#m5" x="236.4" y="206.0"/>
<use href="#m1" x="249.3" y="108.4"/>
<use href="#m2" x="238.8" y="95.6"/>
<use href="#m5" x="288.1" y="192.4"/>
<use href="#m5" x="272.0" y="147.1"/>
<use href="#m5" x="236.9" y="170.9"/>
<use href="#m5" x="240.3" y="167.3"/>
<use href="#m2" x="262.7" y="169.6"/>
<use href="#m5" x="258.1" y="145.1"/>
<use href="#m5" x="257.7" y="133.3"/>
<use href="#m5" x="284.1" y="204.0"/>
<use href="#m5" x="230.6" y="213.7"/>
<use href="#m5" x="288.5" y="158.3"/>
<use href="#m2" x="261.5" y="30.5"/>
<use href="#m2" x="233.0" y="150.0"/>
<use href="#m5" x="279.9" y="179.6"/>
<use href="#m2" x="238.2" y="173.4"/>
<use href="#m5" x="218.8" y="135.5"/>
<use href="#m5" x="235.1" y="120.1"/>
<use href="#m2" x="285.3" y="129.3"/>
<use href="#m5" x="264.2" y="169.2"/>
<use href="#m5" x="287.1" y="208.0"/>
<use href="#m1" x="284.2" y="43.2"/>
<use href="#m5" x="251.0" y="189.8"/>
<use href="#m5" x="289.7" y="150.9"/>
<use href="#m5" x="235.3" y="130.9"/>
<use href="#m5" x="284.3" y="171.0"/>
<use href="#m5" x="248.4" y="188.0"/>
<use href="#m5" x="279.5" y="170.4"/>
<use href="#m5" x="211.7" y="204.7"/>
<use href="#m5" x="276.8" y="138.8"/>
<use href="#m5" x="232.4" y="164.5"/>
<use href="#m5" x="244.6" y="159.0"/>
<use href="#m2" x="239.0" y="106.2"/>
<use href="#m5" x="241.8" y="182.4"/>
<use href="#m5" x="287.5" y="143.0"/>
<use href="#m5" x="271.6" y="158.0"/>
<use href="#m5" x="255.7" y="133.8"/>
<use href="#m2" x="236.3" y="125.6"/>
<use href="#m5" x="254.5" y="185.2"/>
<use href="#m5" x="265.0" y="214.7"/>
<use href="#m5" x="248.9" y="173.8"/>
<use href="#m5" x="278.7" y="198.9"/>
<use href="#m5" x="199.6" y="88.4"/>
<use href="#m5" x="288.5" y="213.0"/>
<use href="#m5" x="287.2" y="189.8"/>
<use href="#m5" x="230.3" y="46.6"/>
<use href="#m5" x="273.2" y="173.4"/>
<use href="#m5" x="215.6" y="181.1"/>
<use href="#m2" x="214.2" y="113.0"/>
<use href="#m5" x="287.5" y="175.0"/>
<use href="#m5" x="241.5" y="194.5"/>
<use href="#m5" x="246.2" y="131.6"/>
<use href="#m5" x="257.8" y="213.6"/>
<use href="#m5" x="254.2" y="188.2"/>
<use href="#m5" x="236.3" y="124.6"/>
<use href="#m5" x="276.6" y="124.8"/>
<use href="#m2" x="183.1" y="115.9"/>
<use href="#m1" x="247.2" y="153.1"/>
<use href="#m3" x="251.8" y="198.8"/>
<use href="#m1" x="250.4" y="171.1"/>
<use href="#m2" x="276.6" y="77.7"/>
<use href="#m5" x="251.8" y="146.7"/>
<use href="#m5" x="242.7" y="140.4"/>
<use href="#m5" x="283.1" y="205.3"/>
<use href="#m5" x="273.8" y="166.6"/>
<use href="#m1" x="242.5" y="100.5"/>
<use href="#m5" x="235.0" y="190.8"/>
<use href="#m5" x="227.8" y="99.8"/>
<use href="#m5" x="240.9" y="176.2"/>
<use href="#m5" x="283.3" y="187.5"/>
<use href="#m2" x="166.5" y="58.9"/>
<use href="#m5" x="250.9" y="117.5"/>
<use href="#m2" x="255.2" y="210.4"/>
<use href="#m5" x="267.4" y="125.9"/>
<use href="#m5" x="252.8" y="157.6"/>
<use href="#m2" x="244.1" y="132.4"/>
<use href="#m4" x="267.1" y="176.1"/>
<use href="#m2" x="292.0" y="85.8"/>
<use href="#m5" x="272.7" y="197.6"/>
<use href="#m5" x="232.4" y="194.7"/>
<use href="#m5" x="289.6" y="95.9"/>
<use href="#m5" x="252.7" y="156.2"/>
<use href="#m5" x="240.9" y="212.5"/>
<use href="#m5" x="244.3" y="147.9"/>
<use href="#m5" x="225.4" y="102.9"/>
<use href="#m2" x="274.8" y="91.4"/>
<use href="#m1" x="266.1" y="149.7"/>
<use href="#m5" x="252.4" y="172.3"/>
<use href="#m5" x="247.2" y="184.8"/>
<use href="#m5" x="279.9" y="204.1"/>
<use href="#m2" x="203.6" y="63.1"/>
<use href="#m1" x="287.2" y="147.2"/>
<use href="#m1" x="162.4" y="147.1"/>
<use href="#m5" x="291.7" y="163.1"/>
<use href="#m5" x="264.8" y="157.2"/>
<use href="#m2" x="231.3" y="95.3"/>
<use href="#m2" x="244.7" y="90.9"/>
<use href="#m2" x="250.4" y="114.3"/>
<use href="#m5" x="280.7" y="180.4"/>
<use href="#m5" x="261.5" y="191.2"/>
<use href="#m5" x="242.2" y="179.7"/>
<use href="#m5" x="249.5" y="210.7"/>
<use href="#m3" x="213.8" y="159.9"/>
<use href="#m2" x="236.8" y="87.5"/>
<use href="#m5" x="247.5" y="162.5"/>
<use href="#m1" x="257.6" y="247.6"/>
<use href="#m2" x="218.0" y="118.8"/>
<use href="#m2" x="168.0" y="174.6"/>
<use href="#m5" x="238.7" y="135.8"/>
<use href="#m2" x="206.5" y="149.9"/>
<use href="#m5" x="233.6" y="186.6"/>
<use href="#m2" x="228.1" y="85.0"/>
<use href="#m1" x="283.8" y="202.3"/>
<use href="#m2" x="254.6" y="118.3"/>
<use href="#m5" x="258.4" y="150.6"/>
<use href="#m5" x="242.5" y="180.8"/>
<use href="#m5" x="253.4" y="147.6"/>
<use href="#m5" x="245.6" y="216.7"/>
<use href="#m5" x="276.5" y="180.6"/>
<use href="#m5" x="278.0" y="207.5"/>
<use href="#m5" x="219.9" y="195.1"/>
<use href="#m5" x="270.7" y="201.1"/>
<use href="#m5" x="233.0" y="139.0"/>
<use href="#m5" x="261.1" y="136.0"/>
<use href="#m5" x="273.1" y="139.6"/>
<use href="#m1" x="276.7" y="101.8"/>
<use href="#m5" x="231.6" y="174.1"/>
<use href="#m5" x="237.3" y="159.7"/>
<use href="#m5" x="259.4" y="152.1"/>
<use href="#m5" x="248.9" y="178.3"/>
<use href="#m5" x="255.9" y="212.6"/>
<use href="#m2" x="255.0" y="125.2"/>
<use href="#m1" x="255.8" y="72.6"/>
<use href="#m5" x="266.8" y="213.9"/>
<use href="#m5" x="216.2" y="161.3"/>
<use href="#m5" x="271.6" y="158.3"/>
<use href="#m2" x="248.0" y="94.0"/>
<use href="#m5" x="290.4" y="190.4"/>
<use href="#m5" x="258.4" y="151.7"/>
<use href="#m1" x="220.4" y="59.1"/>
<use href="#m5" x="281.6" y="194.1"/>
<use href="#m5" x="245.4" y="188.3"/>
<use href="#m2" x="184.4" y="133.1"/>
<use href="#m4" x="231.6" y="214.5"/>
<use href="#m1" x="220.2" y="136.5"/>
<use href="#m5" x="278.0" y="186.6"/>
<use href="#m5" x="237.6" y="213.7"/>
<use href="#m5" x="280.8" y="203.0"/>
<use href="#m4" x="273.4" y="195.8"/>
<use href="#m5" x="283.8" y="182.5"/>
<use href="#m5" x="248.8" y="153.6"/>
<use href="#m2" x="251.1" y="214.4"/>
<use href="#m5" x="221.0" y="200.1"/>
<use href="#m5" x="289.3" y="126.0"/>
<use href="#m5" x="263.8" y="168.6"/>
<use href="#m4" x="214.7" y="209.1"/>
<use href="#m1" x="259.2" y="181.4"/>
<use href="#m5" x="214.0" y="136.4"/>
<use href="#m5" x="222.6" y="194.6"/>
<use href="#m2" x="242.8" y="163.0"/>
<use href="#m5" x="250.7" y="173.7"/>
<use href="#m4" x="231.3" y="202.1"/>
<use href="#m1" x="251.9" y="205.8"/>
<use href="#m3" x="231.0" y="172.3"/>
<use href="#m5" x="272.0" y="185.9"/>
<use href="#m5" x="239.9" y="178.7"/>
<use href="#m5" x="265.8" y="145.5"/>
<use href="#m5" x="259.3" y="161.3"/>
<use href="#m5" x="287.3" y="199.5"/>
<use href="#m5" x="273.5" y="204.9"/>
<use href="#m5" x="283.6" y="195.4"/>
<use href="#m5" x="225.6" y="133.2"/>
<use href="#m5" x="226.5" y="195.6"/>
<use href="#m5" x="288.1" y="163.6"/>
<use href="#m5" x="283.0" y="149.9"/>
<use href="#m5" x="82.7" y="146.8"/>
<use href="#m5" x="272.5" y="190.7"/>
<use href="#m5" x="236.6" y="149.4"/>
<use href="#m5" x="262.8" y="155.0"/>
<use href="#m2" x="200.1" y="167.1"/>
<use href="#m1" x="245.6" y="91.0"/>
<use href="#m5" x="277.5" y="164.2"/>
<use href="#m4" x="205.3" y="119.1"/>
<use href="#m5" x="265.5" y="182.2"/>
<use href="#m5" x="279.2" y="205.6"/>
<use href="#m5" x="268.9" y="211.0"/>
<use href="#m5" x="254.0" y="151.6"/>
<use href="#m5" x="288.2" y="154.7"/>
<use href="#m5" x="279.4" y="178.2"/>
<use href="#m5" x="259.3" y="163.9"/>
<use href="#m2" x="224.2" y="25.7"/>
<use href="#m5" x="236.3" y="135.2"/>
<use href="#m2" x="285.6" y="105.9"/>
<use href="#m3" x="275.0" y="220.7"/>
<use href="#m5" x="246.0" y="112.9"/>
<use href="#m5" x="235.8" y="172.7"/>
<use href="#m3" x="270.2" y="176.0"/>
<use href="#m5" x="254.3" y="151.4"/>
<use href="#m4" x="265.7" y="139.9"/>
<use href="#m5" x="282.0" y="159.7"/>
<use href="#m2" x="254.3" y="113.4"/>
<use href="#m5" x="254.8" y="169.6"/>
<use href="#m1" x="254.0" y="197.1"/>
<use href="#m5" x="256.5" y="187.0"/>
<use href="#m5" x="168.9" y="119.7"/>
<use href="#m5" x="259.3" y="142.0"/>
<use href="#m4" x="287.9" y="145.3"/>
<use href="#m5" x="246.1" y="163.1"/>
<use href="#m2" x="196.7" y="199.3"/>
<use href="#m5" x="203.4" y="137.4"/>
<use href="#m2" x="231.3" y="95.1"/>
<use href="#m5" x="248.5" y="187.7"/>
<use href="#m5" x="278.4" y="125.9"/>
<use href="#m2" x="232.7" y="188.2"/>
<use href="#m5" x="222.1" y="175.3"/>
<use href="#m5" x="214.7" y="53.3"/>
<use href="#m2" x="231.6" y="65.2"/>
<use href="#m5" x="255.1" y="228.6"/>
<use href="#m5" x="254.1" y="182.0"/>
<use href="#m5" x="261.4" y="129.5"/>
<use href="#m2" x="234.6" y="79.2"/>
<use href="#m3" x="218.3" y="143.8"/>
<use href="#m5" x="271.7" y="208.0"/>
<use href="#m5" x="281.7" y="141.5"/>
<use href="#m5" x="263.0" y="160.0"/>
<use href="#m2" x="193.4" y="40.7"/>
<use href="#m5" x="231.8" y="207.7"/>
<use href="#m2" x="264.5" y="160.7"/>
<use href="#m5" x="248.5" y="178.6"/>
<use href="#m5" x="262.7" y="99.5"/>
<use href="#m2" x="277.7" y="184.2"/>
<use href="#m2" x="185.8" y="65.3"/>
<use href="#m2" x="290.5" y="114.3"/>
<use href="#m5" x="237.6" y="195.2"/>
<use href="#m5" x="231.3" y="194.2"/>
<use href="#m2" x="209.8" y="37.4"/>
<use href="#m5" x="288.1" y="164.3"/>
<use href="#m2" x="287.6" y="118.3"/>
<use href="#m5" x="252.9" y="167.3"/>
<use href="#m3" x="233.8" y="229.5"/>
<use href="#m5" x="262.9" y="197.1"/>
<use href="#m5" x="245.3" y="189.7"/>
<use href="#m5" x="290.4" y="191.5"/>
<use href="#m2" x="221.9" y="200.1"/>
<use href="#m5" x="282.7" y="146.8"/>
<use href="#m1" x="273.1" y="152.7"/>
<use href="#m5" x="241.3" y="171.3"/>
<use href="#m5" x="273.4" y="194.0"/>
<use href="#m2" x="227.5" y="180.7"/>
<use href="#m5" x="259.3" y="168.6"/>
<use href="#m5" x="272.0" y="152.8"/>
<use href="#m5" x="227.8" y="206.2"/>
<use href="#m2" x="203.4" y="136.7"/>
<use href="#m2" x="257.5" y="143.0"/>
<use href="#m2" x="229.7" y="190.6"/>
<use href="#m5" x="263.9" y="202.9"/>
<use href="#m5" x="239.3" y="147.6"/>
<use href="#m5" x="270.5" y="152.3"/>
<use href="#m5" x="285.5" y="213.3"/>
<use href="#m5" x="257.3" y="180.1"/>
<use href="#m2" x="278.5" y="125.2"/>
<use href="#m5" x="268.3" y="110.5"/>
<use href="#m5" x="226.5" y="118.4"/>
<use href="#m5" x="253.1" y="156.9"/>
<use href="#m2" x="241.4" y="107.8"/>
<use href="#m5" x="261.8" y="186.3"/>
<use href="#m1" x="229.0" y="90.2"/>
<use href="#m5" x="271.5" y="156.8"/>
<use href="#m5" x="261.1" y="215.8"/>
<use href="#m5" x="267.5" y="180.9"/>
<use href="#m2" x="219.3" y="137.9"/>
<use href="#m2" x="261.4" y="71.4"/>
<use href="#m2" x="237.4" y="213.1"/>
<use href="#m2" x="183.9" y="137.2"/>
<use href="#m1" x="273.0" y="151.7"/>
<use href="#m5" x="266.8" y="172.2"/>
<use href="#m5" x="285.4" y="151.1"/>
<use href="#m5" x="268.2" y="214.3"/>
<use href="#m4" x="250.9" y="224.9"/>
<use href="#m5" x="219.7" y="187.3"/>
<use href="#m2" x="285.4" y="180.0"/>
<use href="#m5" x="243.6" y="154.3"/>
<use href="#m1" x="239.6" y="133.0"/>
<use href="#m2" x="181.0" y="74.6"/>
<use href="#m5" x="216.2" y="149.5"/>
<use href="#m5" x="266.8" y="197.9"/>
<use href="#m5" x="224.5" y="185.6"/>
<use href="#m2" x="209.4" y="128.2"/>
<use href="#m5" x="288.5" y="142.6"/>
<use href="#m5" x="276.9" y="133.3"/>
<use href="#m5" x="285.1" y="159.0"/>
<use href="#m2" x="287.0" y="205.5"/>
<use href="#m5" x="260.2" y="121.5"/>
<use href="#m5" x="262.6" y="144.7"/>
<use href="#m5" x="259.0" y="194.5"/>
<use href="#m5" x="288.5" y="109.6"/>
<use href="#m5" x="272.4" y="159.9"/>
<use href="#m5" x="160.2" y="173.1"/>
<use href="#m5" x="229.0" y="102.6"/>
<use href="#m5" x="280.6" y="126.3"/>
<use href="#m1" x="202.2" y="95.4"/>
<use href="#m5" x="261.4" y="161.8"/>
<use href="#m5" x="240.1" y="150.4"/>
<use href="#m4" x="215.3" y="156.9"/>
<use href="#m5" x="273.5" y="120.5"/>
<use href="#m5" x="267.8" y="189.8"/>
<use href="#m5" x="266.1" y="173.5"/>
<use href="#m5" x="279.6" y="155.0"/>
<use href="#m5" x="243.0" y="178.8"/>
<use href="#m2" x="217.7" y="193.7"/>
<use href="#m1" x="250.3" y="232.7"/>
<use href="#m3" x="284.1" y="100.2"/>
<use href="#m1" x="235.2" y="88.5"/>
<use href="#m1" x="243.7" y="25.7"/>
<use href="#m5" x="269.3" y="201.4"/>
<use href="#m2" x="239.9" y="165.0"/>
<use href="#m5" x="270.5" y="157.3"/>
<use href="#m3" x="253.9" y="229.5"/>
<use href="#m5" x="283.8" y="216.3"/>
<use href="#m1" x="266.9" y="107.9"/>
<use href="#m5" x="273.3" y="167.7"/>
<use href="#m5" x="289.5" y="118.7"/>
<use href="#m2" x="262.2" y="91.5"/>
<use href="#m5" x="283.4" y="168.3"/>
<use href="#m5" x="246.4" y="160.5"/>
<use href="#m5" x="238.5" y="165.7"/>
<use href="#m5" x="229.8" y="127.5"/>
<use href="#m5" x="284.6" y="231.3"/>
<use href="#m2" x="270.6" y="106.0"/>
<use href="#m2" x="267.0" y="25.7"/>
<use href="#m2" x="222.3" y="93.9"/>
<use href="#m5" x="279.5" y="84.2"/>
<use href="#m5" x="281.6" y="154.0"/>
<use href="#m2" x="229.0" y="88.6"/>
<use href="#m5" x="250.3" y="174.9"/>
<use href="#m5" x="237.4" y="183.6"/>
<use href="#m2" x="235.3" y="150.1"/>
<use href="#m5" x="277.9" y="146.9"/>
<use href="#m5" x="279.1" y="200.2"/>
<use href="#m2" x="289.2" y="64.8"/>
<use href="#m5" x="268.6" y="64.4"/>
<use href="#m5" x="287.9" y="157.3"/>
<use href="#m5" x="232.8" y="185.9"/>
<use href="#m5" x="272.6" y="213.7"/>
<use href="#m5" x="287.1" y="163.2"/>
<use href="#m5" x="261.8" y="102.3"/>
<use href="#m5" x="214.2" y="157.1"/>
<use href="#m5" x="231.3" y="141.9"/>
<use href="#m2" x="266.2" y="76.4"/>
<use href="#m5" x="214.9" y="172.3"/>
<use href="#m4" x="280.8" y="226.0"/>
<use href="#m5" x="240.2" y="162.9"/>
<use href="#m5" x="254.6" y="156.8"/>
<use href="#m5" x="283.6" y="189.2"/>
<use href="#m5" x="255.3" y="169.2"/>
<use href="#m4" x="272.2" y="108.4"/>
<use href="#m5" x="221.0" y="206.1"/>
<use href="#m5" x="231.6" y="160.5"/>
<use href="#m5" x="216.9" y="200.1"/>
<use href="#m5" x="272.1" y="164.6"/>
<use href="#m2" x="276.9" y="108.0"/>
<use href="#m5" x="255.4" y="206.8"/>
<use href="#m5" x="289.0" y="142.0"/>
<use href="#m5" x="263.8" y="204.5"/>
<use href="#m2" x="197.8" y="154.3"/>
<use href="#m2" x="251.9" y="161.1"/>
<use href="#m5" x="291.0" y="204.1"/>
<use href="#m2" x="239.8" y="190.9"/>
<use href="#m5" x="211.1" y="174.5"/>
<use href="#m5" x="278.9" y="191.1"/>
<use href="#m5" x="265.6" y="180.3"/>
<use href="#m5" x="221.3" y="208.0"/>
<use href="#m2" x="187.4" y="139.1"/>
<use href="#m2" x="255.3" y="150.5"/>
<use href="#m4" x="205.0" y="101.0"/>
<use href="#m5" x="223.1" y="126.9"/>
<use href="#m2" x="195.1" y="189.3"/>
<use href="#m5" x="258.4" y="174.0"/>
<use href="#m5" x="252.4" y="162.3"/>
<use href="#m5" x="265.2" y="169.1"/>
<use href="#m5" x="273.3" y="186.3"/>
<use href="#m1" x="181.9" y="204.7"/>
<use href="#m5" x="280.5" y="155.1"/>
<use href="#m2" x="263.4" y="190.3"/>
<use href="#m5" x="249.0" y="212.3"/>
<use href="#m5" x="207.3" y="70.7"/>
<use href="#m5" x="232.5" y="58.0"/>
<use href="#m5" x="251.0" y="199.4"/>
<use href="#m5" x="261.3" y="144.2"/>
<use href="#m5" x="237.4" y="181.1"/>
<use href="#m5" x="247.3" y="149.8"/>
<use href="#m5" x="233.3" y="162.6"/>
<use href="#m5" x="252.3" y="146.6"/>
<use href="#m5" x="279.8" y="156.2"/>
<use href="#m2" x="243.0" y="103.9"/>
<use href="#m5" x="263.9" y="148.8"/>
<use href="#m5" x="217.9" y="176.0"/>
<use href="#m5" x="284.5" y="155.9"/>
<use href="#m5" x="254.6" y="163.2"/>
<use href="#m5" x="270.6" y="188.0"/>
<use href="#m1" x="224.1" y="199.9"/>
<use href="#m5" x="285.1" y="164.9"/>
<use href="#m5" x="227.5" y="228.6"/>
<use href="#m2" x="289.7" y="115.2"/>
<use href="#m5" x="265.0" y="200.2"/>
<use href="#m5" x="277.8" y="195.6"/>
<use href="#m2" x="242.2" y="27.0"/>
<use href="#m5" x="268.5" y="197.9"/>
<use href="#m5" x="288.7" y="196.1"/>
<use href="#m1" x="263.6" y="154.2"/>
<use href="#m1" x="275.6" y="206.1"/>
<use href="#m1" x="265.2" y="25.7"/>
<use href="#m2" x="283.5" y="134.3"/>
<use href="#m2" x="268.1" y="122.9"/>
<use href="#m5" x="263.1" y="164.1"/>
<use href="#m3" x="213.4" y="109.3"/>
<use href="#m2" x="199.1" y="188.5"/>
<use href="#m5" x="226.1" y="92.1"/>
<use href="#m5" x="278.3" y="184.0"/>
<use href="#m5" x="257.2" y="212.8"/>
<use href="#m2" x="236.5" y="139.0"/>
<use href="#m5" x="266.0" y="173.7"/>
<use href="#m5" x="253.8" y="229.1"/>
<use href="#m2" x="210.2" y="74.1"/>
<use href="#m5" x="239.6" y="168.2"/>
<use href="#m5" x="218.9" y="173.6"/>
<use href="#m5" x="274.2" y="159.8"/>
<use href="#m5" x="226.7" y="157.2"/>
<use href="#m5" x="284.7" y="146.2"/>
<use href="#m5" x="175.4" y="201.8"/>
<use href="#m5" x="255.1" y="195.8"/>
<use href="#m5" x="263.0" y="174.4"/>
<use href="#m5" x="236.6" y="189.7"/>
<use href="#m2" x="221.0" y="82.1"/>
<use href="#m5" x="249.6" y="203.0"/>
<use href="#m5" x="269.7" y="172.3"/>
<use href="#m1" x="291.7" y="102.3"/>
<use href="#m4" x="235.8" y="152.7"/>
<use href="#m5" x="273.6" y="201.9"/>
<use href="#m5" x="234.8" y="163.0"/>
<use href="#m2" x="272.1" y="95.2"/>
<use href="#m5" x="268.3" y="160.7"/>
<use href="#m5" x="244.4" y="175.4"/>
<use href="#m2" x="221.9" y="77.2"/>
<use href="#m5" x="267.7" y="206.3"/>
<use href="#m5" x="246.3" y="209.9"/>
<use href="#m5" x="233.0" y="213.5"/>
<use href="#m5" x="219.7" y="209.5"/>
<use href="#m5" x="229.9" y="170.6"/>
<use href="#m2" x="246.1" y="163.6"/>
<use href="#m4" x="248.2" y="204.2"/>
<use href="#m1" x="243.1" y="52.1"/>
<use href="#m5" x="227.8" y="134.6"/>
<use href="#m2" x="251.4" y="74.5"/>
<use href="#m5" x="276.2" y="136.8"/>
<use href="#m5" x="252.9" y="209.0"/>
<use href="#m5" x="236.5" y="197.3"/>
<use href="#m5" x="246.8" y="149.1"/>
<use href="#m5" x="221.0" y="168.6"/>
<use href="#m5" x="210.4" y="81.6"/>
<use href="#m5" x="291.3" y="205.3"/>
<use href="#m5" x="235.3" y="108.1"/>
<use href="#m2" x="256.7" y="171.2"/>
<use href="#m2" x="274.3" y="192.2"/>
<use href="#m5" x="229.9" y="140.6"/>
<use href="#m5" x="233.6" y="157.4"/>
<use href="#m2" x="166.6" y="93.3"/>
<use href="#m5" x="269.4" y="145.1"/>
<use href="#m5" x="237.3" y="179.0"/>
<use href="#m5" x="285.0" y="196.5"/>
<use href="#m5" x="272.0" y="208.9"/>
<use href="#m5" x="235.2" y="164.6"/>
<use href="#m1" x="215.0" y="121.6"/>
<use href="#m2" x="144.8" y="131.7"/>
<use href="#m2" x="272.3" y="189.0"/>
<use href="#m5" x="252.2" y="151.2"/>
<use href="#m5" x="164.2" y="130.8"/>
<use href="#m5" x="239.6" y="167.7"/>
<use href="#m5" x="230.5" y="141.0"/>
<use href="#m5" x="276.0" y="194.3"/>
<use href="#m5" x="240.5" y="201.4"/>
<use href="#m5" x="236.5" y="209.4"/>
<use href="#m5" x="280.6" y="148.9"/>
<use href="#m5" x="241.8" y="165.2"/>
<use href="#m5" x="238.7" y="160.8"/>
<use href="#m5" x="227.5" y="154.6"/>
<use href="#m2" x="241.2" y="115.9"/>
<use href="#m5" x="266.6" y="179.5"/>
<use href="#m5" x="254.6" y="179.6"/>
<use href="#m5" x="264.8" y="219.1"/>
<use href="#m5" x="198.1" y="103.3"/>
<use href="#m5" x="280.9" y="161.9"/>
<use href="#m2" x="228.6" y="108.8"/>
<use href="#m1" x="233.8" y="129.8"/>
<use href="#m5" x="237.6" y="154.3"/>
<use href="#m1" x="290.2" y="97.9"/>
<use href="#m5" x="286.9" y="176.8"/>
<use href="#m2" x="246.6" y="214.1"/>
<use href="#m2" x="216.2" y="201.0"/>
<use href="#m5" x="269.7" y="187.3"/>
<use href="#m4" x="264.3" y="168.3"/>
<use href="#m2" x="202.5" y="79.6"/>
<use href="#m2" x="288.9" y="215.9"/>
<use href="#m5" x="262.2" y="116.1"/>
<use href="#m5" x="283.7" y="137.2"/>
<use href="#m1" x="229.3" y="25.7"/>
<use href="#m5" x="262.5" y="188.7"/>
<use href="#m2" x="245.6" y="89.5"/>
<use href="#m2" x="257.3" y="134.6"/>
<use href="#m5" x="270.6" y="201.7"/>
<use href="#m5" x="200.8" y="215.5"/>
<use href="#m5" x="250.4" y="119.8"/>
<use href="#m5" x="246.8" y="80.0"/>
<use href="#m5" x="218.8" y="209.7"/>
<use href="#m5" x="218.5" y="152.2"/>
<use href="#m5" x="287.2" y="120.8"/>
<use href="#m5" x="268.5" y="216.2"/>
<use href="#m4" x="253.7" y="101.7"/>
<use href="#m1" x="191.3" y="156.4"/>
<use href="#m5" x="264.0" y="210.0"/>
<use href="#m2" x="265.0" y="128.7"/>
<use href="#m5" x="246.4" y="210.6"/>
<use href="#m5" x="268.2" y="199.6"/>
<use href="#m5" x="234.8" y="209.3"/>
<use href="#m5" x="285.2" y="145.2"/>
<use href="#m5" x="261.4" y="229.2"/>
<use href="#m5" x="245.0" y="147.9"/>
<use href="#m5" x="221.1" y="126.0"/>
<use href="#m5" x="281.5" y="198.3"/>
<use href="#m5" x="267.8" y="219.9"/>
<use href="#m5" x="279.3" y="180.1"/>
<use href="#m5" x="258.9" y="175.7"/>
<use href="#m5" x="257.6" y="152.8"/>
<use href="#m5" x="263.1" y="184.3"/>
<use href="#m2" x="252.6" y="145.7"/>
<use href="#m5" x="282.6" y="216.4"/>
<use href="#m1" x="65.1" y="30.3"/>
<use href="#m5" x="255.2" y="195.5"/>
<use href="#m2" x="210.7" y="140.6"/>
<use href="#m1" x="279.9" y="203.4"/>
<use href="#m5" x="283.2" y="83.4"/>
<use href="#m5" x="262.4" y="142.5"/>
<use href="#m2" x="262.1" y="92.8"/>
<use href="#m5" x="240.7" y="134.2"/>
<use href="#m5" x="245.2" y="116.6"/>
<use href="#m5" x="250.9" y="154.8"/>
<use href="#m5" x="254.0" y="164.5"/>
<use href="#m5" x="227.8" y="159.5"/>
<use href="#m5" x="247.9" y="177.7"/>
<use href="#m1" x="254.0" y="173.7"/>
<use href="#m5" x="289.1" y="180.8"/>
<use href="#m5" x="245.8" y="181.8"/>
<use href="#m5" x="233.0" y="155.4"/>
<use href="#m2" x="199.2" y="110.7"/>
<use href="#m5" x="223.2" y="172.9"/>
<use href="#m5" x="250.0" y="192.6"/>
<use href="#m5" x="277.3" y="208.7"/>
<use href="#m5" x="280.6" y="201.6"/>
<use href="#m2" x="226.5" y="101.9"/>
<use href="#m5" x="244.1" y="175.3"/>
<use href="#m1" x="244.7" y="211.6"/>
<use href="#m5" x="278.3" y="207.6"/>
<use href="#m4" x="222.9" y="133.9"/>
<use href="#m1" x="285.4" y="181.0"/>
<use href="#m2" x="265.4" y="53.7"/>
<use href="#m2" x="223.0" y="181.3"/>
<use href="#m2" x="278.4" y="106.0"/>
<use href="#m5" x="254.3" y="128.6"/>
<use href="#m5" x="251.9" y="179.8"/>
<use href="#m2" x="179.6" y="200.0"/>
<use href="#m2" x="151.3" y="91.5"/>
<use href="#m5" x="285.8" y="177.9"/>
<use href="#m2" x="253.7" y="158.9"/>
<use href="#m2" x="284.6" y="146.6"/>
<use href="#m5" x="282.2" y="128.1"/>
<use href="#m5" x="246.3" y="177.1"/>
<use href="#m5" x="280.4" y="157.5"/>
<use href="#m2" x="243.7" y="73.2"/>
<use href="#m5" x="249.6" y="132.7"/>
<use href="#m1" x="282.8" y="132.4"/>
<use href="#m5" x="243.0" y="170.5"/>
<use href="#m5" x="241.7" y="210.9"/>
<use href="#m2" x="218.7" y="138.8"/>
<use href="#m5" x="253.1" y="190.9"/>
<use href="#m5" x="274.5" y="199.1"/>
<use href="#m5" x="265.3" y="140.7"/>
<use href="#m5" x="220.6" y="196.1"/>
<use href="#m5" x="261.1" y="138.2"/>
<use href="#m5" x="275.3" y="209.3"/>
<use href="#m5" x="269.3" y="199.9"/>
<use href="#m2" x="276.2" y="233.8"/>
<use href="#m5" x="242.8" y="131.9"/>
<use href="#m5" x="270.1" y="144.4"/>
<use href="#m5" x="286.4" y="198.0"/>
<use href="#m5" x="206.6" y="195.6"/>
<use href="#m4" x="287.7" y="109.7"/>
<use href="#m2" x="194.5" y="81.1"/>
<use href="#m5" x="276.2" y="163.4"/>
<use href="#m5" x="288.3" y="183.0"/>
<use href="#m5" x="272.0" y="133.5"/>
<use href="#m5" x="252.7" y="213.2"/>
<use href="#m5" x="246.4" y="207.5"/>
<use href="#m5" x="275.3" y="191.8"/>
<use href="#m5" x="281.0" y="161.7"/>
<use href="#m5" x="255.2" y="174.9"/>
<use href="#m4" x="274.0" y="157.2"/>
<use href="#m5" x="252.9" y="175.3"/>
<use href="#m2" x="276.0" y="148.7"/>
<use href="#m5" x="250.0" y="159.3"/>
<use href="#m5" x="249.3" y="157.3"/>
<use href="#m5" x="261.2" y="188.8"/>
<use href="#m5" x="214.0" y="76.6"/>
<use href="#m1" x="269.9" y="143.4"/>
<use href="#m5" x="173.1" y="122.5"/>
<use href="#m5" x="187.5" y="155.2"/>
<use href="#m5" x="225.0" y="150.3"/>
<use href="#m5" x="288.3" y="193.2"/>
<use href="#m2" x="191.0" y="157.6"/>
<use href="#m5" x="265.9" y="43.5"/>
<use href="#m2" x="178.7" y="102.1"/>
<use href="#m5" x="258.7" y="174.7"/>
<use href="#m5" x="266.8" y="207.4"/>
<use href="#m5" x="273.9" y="167.4"/>
<use href="#m1" x="271.0" y="41.9"/>
<use href="#m2" x="215.2" y="113.9"/>
<use href="#m5" x="260.7" y="164.8"/>
<use href="#m2" x="270.9" y="86.4"/>
<use href="#m5" x="274.6" y="163.6"/>
<use href="#m5" x="246.6" y="159.7"/>
<use href="#m1" x="153.1" y="154.9"/>
<use href="#m5" x="239.5" y="172.9"/>
<use href="#m5" x="268.4" y="177.2"/>
<use href="#m2" x="252.0" y="106.6"/>
<use href="#m5" x="238.2" y="187.9"/>
<use href="#m5" x="247.7" y="163.6"/>
<use href="#m5" x="256.5" y="221.7"/>
<use href="#m1" x="262.2" y="137.1"/>
<use href="#m1" x="285.1" y="144.2"/>
<use href="#m5" x="217.7" y="230.0"/>
<use href="#m2" x="268.6" y="209.5"/>
<use href="#m5" x="291.3" y="130.6"/>
<use href="#m2" x="228.1" y="39.0"/>
<use href="#m5" x="236.8" y="174.1"/>
<use href="#m2" x="174.4" y="134.5"/>
<use href="#m5" x="280.1" y="153.5"/>
<use href="#m5" x="254.8" y="190.2"/>
<use href="#m2" x="279.8" y="211.8"/>
<use href="#m5" x="238.4" y="176.4"/>
<use href="#m5" x="228.4" y="72.9"/>
<use href="#m5" x="246.8" y="186.8"/>
<use href="#m5" x="224.4" y="142.1"/>
<use href="#m2" x="259.7" y="27.9"/>
<use href="#m5" x="284.5" y="164.0"/>
<use href="#m5" x="216.8" y="193.6"/>
<use href="#m5" x="236.0" y="174.8"/>
<use href="#m2" x="229.1" y="87.8"/>
<use href="#m5" x="278.9" y="214.9"/>
<use href="#m5" x="279.0" y="194.7"/>
<use href="#m5" x="273.7" y="218.2"/>
<use href="#m5" x="266.9" y="184.7"/>
<use href="#m4" x="243.1" y="157.9"/>
<use href="#m2" x="222.1" y="79.4"/>
<use href="#m5" x="278.7" y="215.5"/>
<use href="#m5" x="286.7" y="155.8"/>
<use href="#m2" x="186.1" y="134.8"/>
<use href="#m2" x="271.0" y="129.2"/>
<use href="#m5" x="281.6" y="145.1"/>
<use href="#m2" x="214.6" y="124.6"/>
<use href="#m5" x="237.7" y="216.5"/>
<use href="#m2" x="262.0" y="186.3"/>
<use href="#m5" x="218.3" y="146.1"/>
<use href="#m5" x="289.7" y="155.6"/>
<use href="#m2" x="226.0" y="154.6"/>
<use href="#m2" x="242.5" y="147.1"/>
<use href="#m2" x="281.5" y="168.3"/>
<use href="#m5" x="271.6" y="209.4"/>
<use href="#m5" x="233.8" y="209.2"/>
<use href="#m1" x="259.0" y="123.5"/>
<use href="#m4" x="292.8" y="153.5"/>
<use href="#m5" x="218.0" y="184.1"/>
<use href="#m5" x="281.0" y="191.5"/>
<use href="#m1" x="276.5" y="211.3"/>
<use href="#m5" x="200.2" y="155.7"/>
<use href="#m5" x="254.6" y="156.4"/>
<use href="#m2" x="179.1" y="156.0"/>
<use href="#m3" x="220.8" y="194.3"/>
<use href="#m2" x="219.9" y="174.5"/>
<use href="#m5" x="233.4" y="200.1"/>
<use href="#m5" x="284.8" y="113.7"/>
<use href="#m2" x="203.6" y="138.9"/>
<use href="#m2" x="272.9" y="146.7"/>
<use href="#m5" x="251.8" y="150.5"/>
<use href="#m5" x="251.1" y="167.8"/>
<use href="#m1" x="266.1" y="147.8"/>
<use href="#m5" x="228.1" y="159.2"/>
<use href="#m5" x="250.4" y="206.3"/>
<use href="#m5" x="245.8" y="117.8"/>
<use href="#m5" x="288.4" y="207.0"/>
<use href="#m5" x="262.7" y="175.3"/>
<use href="#m5" x="264.4" y="168.4"/>
<use href="#m5" x="252.9" y="168.6"/>
<use href="#m5" x="244.1" y="205.1"/>
<use href="#m5" x="249.8" y="194.4"/>
<use href="#m5" x="240.8" y="191.8"/>
<use href="#m5" x="258.4" y="181.9"/>
<use href="#m5" x="276.5" y="182.2"/>
<use href="#m5" x="261.1" y="194.0"/>
<use href="#m1" x="202.3" y="100.6"/>
<use href="#m1" x="216.7" y="151.1"/>
<use href="#m5" x="218.3" y="199.1"/>
<use href="#m2" x="160.5" y="71.5"/>
<use href="#m5" x="281.2" y="192.3"/>
<use href="#m5" x="280.3" y="218.5"/>
<use href="#m5" x="285.9" y="199.6"/>
<use href="#m4" x="240.0" y="166.4"/>
<use href="#m5" x="248.5" y="153.9"/>
<use href="#m5" x="276.1" y="172.9"/>
<use href="#m5" x="287.7" y="199.1"/>
<use href="#m2" x="194.5" y="81.3"/>
<use href="#m2" x="278.4" y="165.2"/>
<use href="#m5" x="260.9" y="151.1"/>
<use href="#m2" x="211.7" y="197.5"/>
<use href="#m2" x="235.7" y="67.2"/>
<use href="#m5" x="230.1" y="187.9"/>
<use href="#m5" x="289.0" y="184.8"/>
<use href="#m2" x="279.3" y="108.9"/>
<use href="#m5" x="272.0" y="147.6"/>
<use href="#m5" x="225.9" y="172.1"/>
<use href="#m2" x="227.1" y="71.4"/>
<use href="#m1" x="284.8" y="167.8"/>
<use href="#m5" x="213.2" y="81.1"/>
<use href="#m5" x="260.7" y="149.4"/>
<use href="#m5" x="234.3" y="161.5"/>
<use href="#m5" x="233.2" y="168.7"/>
<use href="#m5" x="218.1" y="159.9"/>
<use href="#m5" x="247.0" y="181.4"/>
<use href="#m5" x="268.9" y="109.4"/>
<use href="#m1" x="272.2" y="91.4"/>
<use href="#m5" x="283.3" y="206.1"/>
<use href="#m1" x="240.4" y="51.6"/>
<use href="#m5" x="249.3" y="117.2"/>
<use href="#m5" x="267.9" y="204.7"/>
<use href="#m2" x="268.5" y="184.0"/>
<use href="#m1" x="205.6" y="211.2"/>
<use href="#m1" x="263.2" y="74.6"/>
<use href="#m5" x="262.0" y="193.0"/>
<use href="#m5" x="288.0" y="212.7"/>
<use href="#m1" x="276.7" y="104.0"/>
<use href="#m2" x="246.9" y="180.0"/>
<use href="#m2" x="222.5" y="156.2"/>
<use href="#m5" x="217.5" y="171.5"/>
<use href="#m5" x="279.0" y="193.4"/>
<use href="#m5" x="249.7" y="203.6"/>
<use href="#m2" x="247.9" y="106.9"/>
<use href="#m5" x="272.1" y="139.5"/>
<use href="#m4" x="237.8" y="201.0"/>
<use href="#m1" x="259.0" y="119.8"/>
<use href="#m5" x="245.4" y="88.4"/>
<use href="#m5" x="264.7" y="148.0"/>
<use href="#m5" x="289.1" y="124.6"/>
<use href="#m5" x="287.8" y="200.4"/>
<use href="#m5" x="272.7" y="142.7"/>
<use href="#m5" x="278.6" y="175.4"/>
<use href="#m5" x="289.4" y="222.6"/>
<use href="#m5" x="258.0" y="183.4"/>
<use href="#m5" x="270.4" y="215.2"/>
<use href="#m5" x="256.0" y="214.7"/>
<use href="#m5" x="232.3" y="121.9"/>
<use href="#m5" x="218.9" y="174.0"/>
<use href="#m2" x="212.9" y="58.6"/>
<use href="#m5" x="267.3" y="113.5"/>
<use href="#m2" x="224.6" y="138.7"/>
<use href="#m5" x="267.7" y="216.4"/>
<use href="#m2" x="291.6" y="96.9"/>
<use href="#m5" x="282.6" y="191.0"/>
<use href="#m5" x="251.3" y="139.0"/>
<use href="#m1" x="259.0" y="128.0"/>
<use href="#m1" x="220.3" y="211.4"/>
<use href="#m5" x="211.3" y="126.1"/>
<use href="#m2" x="221.5" y="169.0"/>
<use href="#m5" x="265.9" y="203.9"/>
<use href="#m2" x="233.7" y="118.4"/>
<use href="#m5" x="243.3" y="151.1"/>
<use href="#m2" x="267.2" y="154.7"/>
<use href="#m2" x="262.6" y="181.0"/>
<use href="#m5" x="267.2" y="150.5"/>
<use href="#m5" x="277.0" y="171.6"/>
<use href="#m5" x="260.3" y="192.1"/>
<use href="#m2" x="233.0" y="222.8"/>
<use href="#m5" x="245.0" y="139.2"/>
<use href="#m5" x="267.0" y="200.4"/>
<use href="#m5" x="245.7" y="151.8"/>
<use href="#m3" x="226.6" y="173.1"/>
<use href="#m5" x="185.0" y="69.7"/>
<use href="#m2" x="233.7" y="76.4"/>
<use href="#m4" x="214.0" y="110.3"/>
<use href="#m5" x="247.4" y="159.6"/>
<use href="#m5" x="256.2" y="158.5"/>
<use href="#m2" x="234.1" y="128.8"/>
<use href="#m5" x="269.8" y="119.6"/>
<use href="#m5" x="290.7" y="151.9"/>
<use href="#m5" x="277.2" y="153.5"/>
<use href="#m5" x="279.0" y="139.4"/>
<use href="#m2" x="248.8" y="175.5"/>
<use href="#m5" x="259.6" y="198.9"/>
<use href="#m5" x="214.4" y="218.5"/>
<use href="#m5" x="175.7" y="122.5"/>
<use href="#m5" x="284.8" y="214.0"/>
<use href="#m5" x="291.6" y="200.5"/>
<use href="#m5" x="246.8" y="210.3"/>
<use href="#m5" x="290.4" y="187.3"/>
<use href="#m2" x="267.6" y="68.4"/>
<use href="#m5" x="289.3" y="201.9"/>
<use href="#m2" x="284.1" y="110.1"/>
<use href="#m5" x="285.2" y="161.4"/>
<use href="#m5" x="248.9" y="176.1"/>
<use href="#m2" x="226.0" y="115.2"/>
<use href="#m1" x="276.1" y="131.3"/>
<use href="#m5" x="237.1" y="175.3"/>
<use href="#m3" x="223.8" y="158.5"/>
<use href="#m5" x="283.7" y="211.8"/>
<use href="#m5" x="290.9" y="167.2"/>
<use href="#m2" x="260.6" y="151.7"/>
<use href="#m1" x="280.2" y="163.3"/>
<use href="#m5" x="275.6" y="160.0"/>
<use href="#m2" x="283.3" y="165.1"/>
<use href="#m4" x="260.5" y="99.6"/>
<use href="#m5" x="243.1" y="154.9"/>
<use href="#m5" x="208.8" y="86.5"/>
<use href="#m5" x="277.1" y="142.2"/>
<use href="#m5" x="219.2" y="214.6"/>
<use href="#m2" x="266.7" y="182.6"/>
<use href="#m5" x="257.4" y="180.6"/>
<use href="#m2" x="234.8" y="72.0"/>
<use href="#m5" x="291.6" y="184.8"/>
<use href="#m5" x="256.5" y="185.9"/>
<use href="#m5" x="259.6" y="195.0"/>
<use href="#m2" x="272.0" y="95.6"/>
<use href="#m5" x="273.0" y="121.7"/>
<use href="#m2" x="278.4" y="115.8"/>
<use href="#m5" x="267.8" y="178.4"/>
<use href="#m5" x="252.8" y="186.8"/>
<use href="#m1" x="250.8" y="219.3"/>
<use href="#m5" x="282.4" y="188.0"/>
<use href="#m5" x="258.8" y="213.4"/>
<use href="#m2" x="264.2" y="183.8"/>
<use href="#m1" x="275.2" y="134.8"/>
<use href="#m5" x="221.1" y="174.4"/>
<use href="#m5" x="280.9" y="152.2"/>
<use href="#m5" x="257.8" y="129.1"/>
<use href="#m5" x="238.9" y="175.0"/>
<use href="#m5" x="225.7" y="229.8"/>
<use href="#m5" x="283.3" y="150.1"/>
<use href="#m1" x="244.2" y="188.5"/>
<use href="#m5" x="260.6" y="195.3"/>
<use href="#m5" x="257.9" y="162.5"/>
<use href="#m2" x="205.3" y="133.7"/>
<use href="#m5" x="214.9" y="146.8"/>
<use href="#m5" x="262.2" y="207.1"/>
<use href="#m2" x="278.9" y="175.2"/>
<use href="#m5" x="242.2" y="196.4"/>
<use href="#m2" x="287.3" y="208.7"/>
<use href="#m5" x="242.7" y="189.8"/>
<use href="#m2" x="218.0" y="171.7"/>
<use href="#m5" x="277.9" y="171.8"/>
<use href="#m5" x="285.1" y="126.1"/>
<use href="#m5" x="288.4" y="162.6"/>
<use href="#m5" x="291.5" y="207.8"/>
<use href="#m1" x="271.0" y="169.0"/>
<use href="#m2" x="245.7" y="99.8"/>
<use href="#m5" x="256.9" y="205.7"/>
<use href="#m5" x="258.9" y="186.2"/>
<use href="#m2" x="248.8" y="114.9"/>
<use href="#m2" x="212.4" y="153.3"/>
<use href="#m5" x="188.6" y="217.3"/>
<use href="#m5" x="284.2" y="183.9"/>
<use href="#m5" x="275.6" y="166.8"/>
<use href="#m5" x="254.8" y="197.8"/>
<use href="#m5" x="283.4" y="176.0"/>
<use href="#m1" x="177.2" y="115.4"/>
<use href="#m5" x="256.2" y="204.1"/>
<use href="#m5" x="237.9" y="195.3"/>
<use href="#m5" x="260.8" y="175.5"/>
<use href="#m2" x="263.7" y="167.6"/>
<use href="#m3" x="286.3" y="130.1"/>
<use href="#m5" x="222.4" y="195.2"/>
<use href="#m1" x="140.5" y="65.9"/>
<use href="#m5" x="243.4" y="202.1"/>
<use href="#m5" x="241.3" y="176.8"/>
<use href="#m5" x="260.5" y="172.9"/>
<use href="#m5" x="252.4" y="203.9"/>
<use href="#m5" x="282.0" y="186.8"/>
<use href="#m5" x="262.5" y="146.5"/>
<use href="#m5" x="232.8" y="179.9"/>
<use href="#m2" x="202.9" y="88.3"/>
<use href="#m5" x="255.9" y="158.7"/>
<use href="#m5" x="270.8" y="158.8"/>
<use href="#m5" x="227.9" y="133.5"/>
<use href="#m2" x="252.5" y="206.2"/>
<use href="#m5" x="266.5" y="193.2"/>
<use href="#m5" x="267.3" y="124.3"/>
<use href="#m1" x="230.8" y="136.6"/>
<use href="#m5" x="258.9" y="166.8"/>
<use href="#m5" x="278.0" y="128.0"/>
<use href="#m1" x="224.8" y="95.8"/>
<use href="#m2" x="215.4" y="87.2"/>
<use href="#m2" x="280.0" y="150.9"/>
<use href="#m2" x="220.8" y="153.8"/>
<use href="#m5" x="245.3" y="148.8"/>
<use href="#m5" x="233.9" y="154.2"/>
<use href="#m2" x="266.8" y="130.9"/>
<use href="#m2" x="272.4" y="98.5"/>
<use href="#m5" x="262.1" y="214.5"/>
<use href="#m5" x="235.6" y="194.8"/>
<use href="#m2" x="265.3" y="141.3"/>
<use href="#m5" x="257.8" y="220.1"/>
<use href="#m5" x="273.8" y="170.4"/>
<use href="#m5" x="222.4" y="138.7"/>
<use href="#m2" x="261.0" y="114.7"/>
<use href="#m2" x="234.4" y="197.1"/>
<use href="#m5" x="244.0" y="140.8"/>
<use href="#m5" x="230.4" y="204.2"/>
<use href="#m1" x="226.5" y="147.5"/>
<use href="#m4" x="231.6" y="173.5"/>
<use href="#m5" x="254.4" y="187.7"/>
<use href="#m5" x="256.4" y="215.6"/>
<use href="#m5" x="232.5" y="159.5"/>
<use href="#m5" x="266.9" y="183.8"/>
<use href="#m2" x="285.9" y="204.2"/>
<use href="#m5" x="259.1" y="207.9"/>
<use href="#m1" x="261.6" y="126.3"/>
<use href="#m5" x="260.0" y="177.8"/>
<use href="#m5" x="257.6" y="141.1"/>
<use href="#m5" x="274.8" y="169.7"/>
<use href="#m2" x="211.2" y="82.7"/>
<use href="#m5" x="190.6" y="134.0"/>
<use href="#m5" x="240.0" y="180.1"/>
<use href="#m5" x="191.0" y="186.1"/>
<use href="#m3" x="208.5" y="198.6"/>
<use href="#m2" x="224.9" y="50.1"/>
<use href="#m5" x="245.4" y="185.9"/>
<use href="#m2" x="241.1" y="147.5"/>
<use href="#m5" x="240.1" y="166.1"/>
<use href="#m5" x="228.5" y="174.2"/>
<use href="#m5" x="244.2" y="200.9"/>
<use href="#m5" x="245.3" y="190.7"/>
<use href="#m2" x="251.3" y="153.1"/>
<use href="#m5" x="225.0" y="143.7"/>
<use href="#m5" x="287.2" y="202.5"/>
<use href="#m5" x="255.8" y="163.6"/>
<use href="#m5" x="276.8" y="200.9"/>
<use href="#m5" x="235.6" y="178.9"/>
<use href="#m5" x="277.9" y="212.0"/>
<use href="#m5" x="271.6" y="152.2"/>
<use href="#m5" x="249.7" y="132.2"/>
<use href="#m2" x="249.3" y="109.3"/>
<use href="#m2" x="274.1" y="69.8"/>
<use href="#m1" x="186.2" y="197.2"/>
<use href="#m2" x="279.6" y="119.5"/>
<use href="#m5" x="245.3" y="192.7"/>
<use href="#m2" x="232.3" y="128.6"/>
<use href="#m5" x="283.5" y="153.7"/>
<use href="#m5" x="228.3" y="177.0"/>
<use href="#m4" x="272.9" y="134.8"/>
<use href="#m5" x="256.7" y="150.0"/>
<use href="#m5" x="239.4" y="129.4"/>
<use href="#m5" x="240.0" y="166.3"/>
<use href="#m5" x="221.8" y="167.4"/>
<use href="#m1" x="259.7" y="211.9"/>
<use href="#m2" x="232.4" y="195.4"/>
<use href="#m5" x="265.1" y="161.4"/>
<use href="#m5" x="290.5" y="157.2"/>
<use href="#m5" x="244.3" y="199.4"/>
<use href="#m5" x="256.1" y="170.7"/>
<use href="#m5" x="251.3" y="167.1"/>
<use href="#m5" x="279.6" y="205.8"/>
<use href="#m5" x="207.1" y="123.2"/>
<use href="#m5" x="254.2" y="197.1"/>
<use href="#m5" x="289.3" y="163.6"/>
<use href="#m5" x="290.2" y="201.6"/>
<use href="#m5" x="226.1" y="166.4"/>
<use href="#m2" x="280.8" y="107.8"/>
<use href="#m2" x="222.6" y="143.5"/>
<use href="#m1" x="281.8" y="114.2"/>
<use href="#m2" x="288.4" y="143.4"/>
<use href="#m1" x="258.9" y="219.1"/>
<use href="#m5" x="246.5" y="166.6"/>
<use href="#m5" x="238.0" y="137.9"/>
<use href="#m5" x="270.2" y="213.5"/>
<use href="#m1" x="231.8" y="112.6"/>
<use href="#m5" x="135.0" y="172.7"/>
<use href="#m5" x="276.2" y="192.0"/>
<use href="#m2" x="269.2" y="40.3"/>
<use href="#m5" x="291.9" y="163.8"/>
<use href="#m5" x="237.2" y="206.2"/>
<use href="#m5" x="269.8" y="82.8"/>
<use href="#m2" x="227.1" y="110.6"/>
<use href="#m5" x="262.0" y="96.9"/>
<use href="#m5" x="175.4" y="187.0"/>
<use href="#m5" x="247.3" y="192.4"/>
<use href="#m5" x="242.9" y="213.6"/>
<use href="#m5" x="215.8" y="126.9"/>
<use href="#m2" x="215.2" y="213.6"/>
<use href="#m5" x="260.4" y="180.5"/>
<use href="#m5" x="267.9" y="216.3"/>
<use href="#m1" x="275.9" y="149.2"/>
<use href="#m2" x="283.9" y="109.2"/>
<use href="#m5" x="276.2" y="200.3"/>
<use href="#m5" x="266.2" y="172.6"/>
<use href="#m5" x="270.9" y="226.5"/>
<use href="#m2" x="193.3" y="112.2"/>
<use href="#m1" x="258.2" y="166.9"/>
<use href="#m5" x="216.8" y="139.6"/>
<use href="#m5" x="268.8" y="173.3"/>
<use href="#m2" x="200.1" y="106.3"/>
<use href="#m5" x="218.4" y="192.6"/>
<use href="#m5" x="242.1" y="180.8"/>
<use href="#m5" x="277.4" y="156.6"/>
<use href="#m1" x="256.3" y="219.9"/>
<use href="#m5" x="214.8" y="151.1"/>
<use href="#m5" x="234.8" y="204.3"/>
<use href="#m5" x="282.5" y="197.7"/>
<use href="#m5" x="248.7" y="153.7"/>
<use href="#m1" x="223.6" y="162.0"/>
<use href="#m1" x="247.3" y="49.9"/>
<use href="#m2" x="221.2" y="92.9"/>
<use href="#m5" x="261.5" y="193.9"/>
<use href="#m5" x="280.9" y="159.9"/>
<use href="#m2" x="258.2" y="172.2"/>
<use href="#m5" x="222.3" y="198.8"/>
<use href="#m5" x="255.8" y="181.6"/>
<use href="#m5" x="281.4" y="209.0"/>
<use href="#m2" x="245.7" y="161.1"/>
<use href="#m5" x="214.8" y="126.6"/>
<use href="#m5" x="234.6" y="200.8"/>
<use href="#m2" x="266.7" y="149.0"/>
<use href="#m5" x="265.8" y="213.7"/>
<use href="#m5" x="275.3" y="181.5"/>
<use href="#m5" x="261.3" y="154.7"/>
<use href="#m5" x="289.0" y="147.6"/>
<use href="#m5" x="277.6" y="161.9"/>
<use href="#m5" x="198.9" y="163.3"/>
<use href="#m5" x="258.3" y="132.4"/>
<use href="#m5" x="246.6" y="149.6"/>
<use href="#m5" x="224.1" y="189.1"/>
<use href="#m1" x="173.9" y="61.8"/>
<use href="#m5" x="277.7" y="96.7"/>
<use href="#m2" x="278.9" y="216.9"/>
<use href="#m5" x="271.9" y="209.0"/>
<use href="#m5" x="285.4" y="176.1"/>
<use href="#m5" x="291.9" y="147.4"/>
<use href="#m2" x="265.7" y="128.8"/>
<use href="#m1" x="187.6" y="158.4"/>
<use href="#m2" x="245.5" y="209.5"/>
<use href="#m1" x="230.2" y="149.7"/>
<use href="#m2" x="284.9" y="204.2"/>
<use href="#m1" x="269.8" y="119.0"/>
<use href="#m2" x="227.1" y="182.3"/>
<use href="#m2" x="195.1" y="159.6"/>
<use href="#m5" x="197.2" y="119.8"/>
<use href="#m5" x="265.7" y="165.9"/>
<use href="#m5" x="206.7" y="151.0"/>
<use href="#m5" x="268.1" y="163.5"/>
<use href="#m5" x="259.5" y="74.6"/>
<use href="#m5" x="224.2" y="184.7"/>
<use href="#m5" x="284.8" y="160.9"/>
<use href="#m2" x="252.3" y="38.9"/>
<use href="#m5" x="249.0" y="115.1"/>
<use href="#m2" x="289.3" y="191.0"/>
<use href="#m2" x="273.5" y="149.6"/>
<use href="#m2" x="253.4" y="139.6"/>
<use href="#m5" x="223.0" y="215.9"/>
<use href="#m5" x="244.6" y="146.1"/>
<use href="#m5" x="255.9" y="150.5"/>
<use href="#m5" x="256.4" y="157.4"/>
<use href="#m5" x="260.1" y="136.4"/>
<use href="#m5" x="267.2" y="189.6"/>
<use href="#m5" x="236.4" y="207.9"/>
<use href="#m5" x="224.7" y="219.0"/>
<use href="#m5" x="236.5" y="180.6"/>
<use href="#m5" x="247.7" y="157.5"/>
<use href="#m5" x="257.0" y="151.3"/>
<use href="#m5" x="279.8" y="130.3"/>
<use href="#m5" x="231.1" y="163.1"/>
<use href="#m5" x="238.4" y="169.9"/>
<use href="#m5" x="229.4" y="163.2"/>
<use href="#m2" x="243.5" y="185.6"/>
<use href="#m5" x="225.6" y="122.4"/>
<use href="#m5" x="244.2" y="188.9"/>
<use href="#m5" x="287.9" y="162.1"/>
<use href="#m5" x="212.6" y="147.1"/>
<use href="#m5" x="269.7" y="157.1"/>
<use href="#m5" x="267.4" y="137.8"/>
<use href="#m5" x="251.8" y="193.3"/>
<use href="#m5" x="242.2" y="197.0"/>
<use href="#m5" x="259.7" y="156.1"/>
<use href="#m4" x="222.9" y="195.1"/>
<use href="#m5" x="233.4" y="170.9"/>
<use href="#m5" x="278.9" y="206.4"/>
<use href="#m2" x="200.9" y="214.4"/>
<use href="#m1" x="265.7" y="184.8"/>
<use href="#m2" x="236.4" y="116.9"/>
<use href="#m5" x="245.0" y="183.9"/>
<use href="#m5" x="268.2" y="121.0"/>
<use href="#m5" x="247.4" y="174.6"/>
<use href="#m5" x="248.1" y="151.7"/>
<use href="#m5" x="257.7" y="198.5"/>
<use href="#m2" x="205.5" y="195.3"/>
<use href="#m4" x="247.2" y="209.3"/>
<use href="#m1" x="217.0" y="155.6"/>
<use href="#m2" x="186.1" y="162.7"/>
<use href="#m2" x="189.0" y="217.6"/>
<use href="#m5" x="246.7" y="190.7"/>
<use href="#m5" x="273.0" y="178.5"/>
<use href="#m5" x="278.9" y="231.7"/>
<use href="#m5" x="269.6" y="205.0"/>
<use href="#m5" x="272.3" y="152.2"/>
<use href="#m5" x="253.8" y="220.3"/>
<use href="#m5" x="251.0" y="166.5"/>
<use href="#m5" x="252.7" y="166.7"/>
<use href="#m5" x="271.6" y="137.1"/>
<use href="#m5" x="237.1" y="115.5"/>
<use href="#m5" x="252.2" y="174.0"/>
<use href="#m5" x="261.6" y="192.1"/>
<use href="#m4" x="274.1" y="173.1"/>
<use href="#m5" x="223.3" y="130.8"/>
<use href="#m5" x="257.9" y="97.8"/>
<use href="#m1" x="243.2" y="83.7"/>
<use href="#m2" x="287.1" y="216.9"/>
<use href="#m5" x="232.2" y="198.3"/>
<use href="#m1" x="268.2" y="171.5"/>
<use href="#m2" x="211.6" y="31.9"/>
<use href="#m5" x="260.6" y="144.7"/>
<use href="#m5" x="263.5" y="168.4"/>
<use href="#m5" x="261.6" y="170.8"/>
<use href="#m5" x="255.3" y="190.4"/>
<use href="#m5" x="291.0" y="205.1"/>
<use href="#m5" x="253.3" y="148.2"/>
<use href="#m5" x="269.5" y="143.3"/>
<use href="#m3" x="266.8" y="222.3"/>
<use href="#m1" x="290.9" y="191.0"/>
<use href="#m5" x="236.1" y="156.1"/>
<use href="#m5" x="229.9" y="172.8"/>
<use href="#m2" x="254.7" y="79.3"/>
<use href="#m5" x="261.6" y="110.4"/>
<use href="#m5" x="289.7" y="143.0"/>
<use href="#m5" x="280.2" y="155.1"/>
<use href="#m5" x="230.1" y="150.5"/>
<use href="#m5" x="268.5" y="189.7"/>
<use href="#m5" x="273.3" y="149.6"/>
<use href="#m5" x="279.8" y="150.4"/>
<use href="#m5" x="260.3" y="162.1"/>
<use href="#m5" x="262.5" y="145.3"/>
<use href="#m2" x="222.2" y="209.6"/>
<use href="#m5" x="194.9" y="156.9"/>
<use href="#m5" x="246.2" y="187.9"/>
<use href="#m2" x="259.8" y="135.1"/>
<use href="#m5" x="237.6" y="157.3"/>
<use href="#m5" x="227.4" y="147.5"/>
<use href="#m2" x="262.4" y="208.9"/>
<use href="#m5" x="264.5" y="216.8"/>
<use href="#m5" x="259.8" y="130.6"/>
<use href="#m1" x="273.7" y="210.9"/>
<use href="#m5" x="284.9" y="174.2"/>
<use href="#m5" x="208.7" y="51.1"/>
<use href="#m5" x="255.8" y="213.6"/>
<use href="#m2" x="259.8" y="204.9"/>
<use href="#m1" x="245.3" y="110.6"/>
<use href="#m5" x="263.8" y="216.6"/>
<use href="#m5" x="278.4" y="216.9"/>
<use href="#m5" x="231.6" y="119.8"/>
<use href="#m5" x="279.9" y="152.1"/>
<use href="#m5" x="241.5" y="214.2"/>
<use href="#m2" x="280.8" y="119.9"/>
<use href="#m5" x="273.6" y="187.2"/>
<use href="#m2" x="228.5" y="83.9"/>
<use href="#m1" x="271.7" y="66.3"/>
<use href="#m5" x="231.7" y="149.1"/>
<use href="#m5" x="235.4" y="213.9"/>
<use href="#m5" x="281.6" y="202.2"/>
<use href="#m4" x="246.0" y="158.0"/>
<use href="#m5" x="279.6" y="164.1"/>
<use href="#m3" x="230.4" y="143.3"/>
<use href="#m1" x="249.7" y="115.0"/>
<use href="#m1" x="224.4" y="100.0"/>
<use href="#m5" x="245.7" y="166.8"/>
<use href="#m5" x="220.8" y="143.0"/>
<use href="#m5" x="263.2" y="164.0"/>
<use href="#m5" x="257.7" y="197.2"/>
<use href="#m5" x="273.7" y="150.6"/>
<use href="#m2" x="290.9" y="151.3"/>
<use href="#m5" x="280.6" y="149.9"/>
<use href="#m4" x="283.4" y="91.8"/>
<use href="#m5" x="221.9" y="170.3"/>
<use href="#m5" x="291.5" y="174.8"/>
<use href="#m5" x="247.1" y="136.2"/>
<use href="#m2" x="208.2" y="150.2"/>
<use href="#m2" x="248.7" y="115.4"/>
<use href="#m5" x="287.9" y="201.2"/>
<use href="#m2" x="164.2" y="62.6"/>
<use href="#m5" x="256.1" y="117.7"/>
<use href="#m5" x="268.8" y="171.6"/>
<use href="#m5" x="260.9" y="211.2"/>
<use href="#m2" x="253.9" y="196.4"/>
<use href="#m1" x="252.8" y="138.8"/>
<use href="#m5" x="272.4" y="189.2"/>
<use href="#m2" x="262.1" y="178.4"/>
<use href="#m5" x="280.5" y="188.3"/>
<use href="#m3" x="217.9" y="114.7"/>
<use href="#m2" x="282.7" y="118.0"/>
<use href="#m5" x="285.0" y="215.6"/>
<use href="#m5" x="245.6" y="197.1"/>
<use href="#m2" x="248.2" y="98.6"/>
<use href="#m5" x="242.9" y="202.4"/>
<use href="#m5" x="268.9" y="161.1"/>
<use href="#m5" x="281.8" y="160.0"/>
<use href="#m3" x="270.1" y="167.1"/>
<use href="#m2" x="179.6" y="29.8"/>
<use href="#m5" x="268.4" y="155.9"/>
<use href="#m2" x="243.6" y="199.2"/>
<use href="#m2" x="208.7" y="214.9"/>
<use href="#m5" x="263.0" y="201.4"/>
<use href="#m5" x="246.5" y="198.7"/>
<use href="#m2" x="223.5" y="152.2"/>
<use href="#m5" x="277.8" y="111.0"/>
<use href="#m5" x="244.2" y="198.4"/>
<use href="#m5" x="268.7" y="181.0"/>
<use href="#m1" x="231.1" y="179.7"/>
<use href="#m5" x="256.6" y="144.0"/>
<use href="#m5" x="260.2" y="218.5"/>
<use href="#m5" x="277.9" y="201.8"/>
<use href="#m5" x="223.9" y="144.0"/>
<use href="#m5" x="255.0" y="199.3"/>
<use href="#m5" x="288.1" y="138.1"/>
<use href="#m5" x="251.5" y="188.9"/>
<use href="#m5" x="231.9" y="166.8"/>
<use href="#m2" x="242.3" y="176.3"/>
<use href="#m5" x="245.8" y="216.6"/>
<use href="#m5" x="248.9" y="154.7"/>
<use href="#m2" x="187.5" y="92.4"/>
<use href="#m2" x="250.5" y="150.2"/>
<use href="#m5" x="268.9" y="172.9"/>
<use href="#m5" x="227.5" y="177.9"/>
<use href="#m5" x="251.1" y="72.7"/>
<use href="#m4" x="214.2" y="205.4"/>
<use href="#m5" x="215.8" y="171.2"/>
<use href="#m5" x="287.3" y="185.0"/>
<use href="#m1" x="256.1" y="176.4"/>
<use href="#m2" x="205.6" y="80.8"/>
<use href="#m2" x="272.7" y="194.6"/>
<use href="#m2" x="227.9" y="71.4"/>
<use href="#m5" x="276.5" y="205.9"/>
<use href="#m2" x="261.1" y="62.1"/>
<use href="#m5" x="242.7" y="124.5"/>
<use href="#m1" x="273.4" y="87.8"/>
<use href="#m5" x="221.4" y="181.9"/>
<use href="#m5" x="196.3" y="133.1"/>
<use href="#m5" x="245.7" y="182.5"/>
<use href="#m5" x="190.1" y="128.7"/>
<use href="#m1" x="195.1" y="246.3"/>
<use href="#m2" x="277.1" y="134.8"/>
<use href="#m5" x="255.0" y="163.8"/>
<use href="#m5" x="245.0" y="206.0"/>
<use href="#m1" x="198.7" y="140.3"/>
<use href="#m5" x="279.8" y="171.5"/>
<use href="#m5" x="285.1" y="168.9"/>
<use href="#m2" x="205.4" y="118.3"/>
<use href="#m5" x="214.7" y="158.1"/>
<use href="#m5" x="275.0" y="206.0"/>
<use href="#m2" x="266.4" y="181.5"/>
<use href="#m5" x="269.1" y="195.8"/>
<use href="#m5" x="267.1" y="169.0"/>
<use href="#m5" x="281.4" y="210.9"/>
<use href="#m5" x="271.5" y="208.7"/>
<use href="#m5" x="254.5" y="146.2"/>
<use href="#m5" x="239.1" y="155.1"/>
<use href="#m2" x="256.1" y="205.3"/>
<use href="#m2" x="277.1" y="182.2"/>
<use href="#m5" x="224.5" y="54.0"/>
<use href="#m5" x="231.8" y="84.2"/>
<use href="#m5" x="222.0" y="146.2"/>
<use href="#m5" x="242.0" y="146.5"/>
<use href="#m2" x="212.5" y="174.5"/>
<use href="#m5" x="263.4" y="140.1"/>
<use href="#m5" x="234.4" y="181.8"/>
<use href="#m5" x="260.8" y="173.8"/>
<use href="#m5" x="242.0" y="199.2"/>
<use href="#m5" x="266.4" y="171.2"/>
<use href="#m5" x="256.2" y="185.7"/>
<use href="#m5" x="256.1" y="210.4"/>
<use href="#m5" x="242.0" y="150.8"/>
<use href="#m5" x="283.5" y="170.2"/>
<use href="#m5" x="224.4" y="138.0"/>
<use href="#m5" x="284.5" y="184.8"/>
<use href="#m5" x="241.5" y="209.7"/>
<use href="#m5" x="281.4" y="204.5"/>
<use href="#m5" x="272.4" y="215.2"/>
<use href="#m4" x="251.4" y="215.8"/>
<use href="#m5" x="235.0" y="196.4"/>
<use href="#m5" x="274.2" y="135.7"/>
<use href="#m5" x="227.1" y="108.8"/>
<use href="#m2" x="290.2" y="45.6"/>
<use href="#m5" x="257.3" y="148.8"/>
<use href="#m5" x="250.9" y="90.6"/>
<use href="#m2" x="256.1" y="211.7"/>
<use href="#m4" x="219.2" y="129.0"/>
<use href="#m2" x="277.8" y="156.9"/>
<use href="#m5" x="286.8" y="146.7"/>
<use href="#m5" x="269.7" y="151.6"/>
<use href="#m2" x="226.2" y="83.4"/>
<use href="#m5" x="254.3" y="160.1"/>
<use href="#m2" x="204.5" y="199.2"/>
<use href="#m5" x="183.6" y="195.5"/>
<use href="#m5" x="287.6" y="191.1"/>
<use href="#m5" x="240.5" y="218.3"/>
<use href="#m5" x="157.7" y="159.7"/>
<use href="#m5" x="244.4" y="109.0"/>
<use href="#m5" x="283.1" y="97.6"/>
<use href="#m5" x="228.2" y="48.6"/>
<use href="#m1" x="210.6" y="200.3"/>
<use href="#m5" x="222.9" y="124.3"/>
<use href="#m2" x="242.2" y="80.8"/>
<use href="#m5" x="241.5" y="176.0"/>
<use href="#m5" x="268.0" y="159.4"/>
<use href="#m5" x="277.9" y="167.5"/>
<use href="#m5" x="289.4" y="124.2"/>
<use href="#m5" x="282.6" y="204.6"/>
<use href="#m5" x="275.0" y="109.9"/>
<use href="#m2" x="250.9" y="92.1"/>
<use href="#m5" x="238.9" y="155.5"/>
<use href="#m5" x="256.0" y="191.4"/>
<use href="#m5" x="258.7" y="181.7"/>
<use href="#m5" x="272.3" y="221.6"/>
<use href="#m2" x="261.1" y="179.8"/>
<use href="#m3" x="234.6" y="224.2"/>
<use href="#m5" x="271.1" y="187.1"/>
<use href="#m1" x="164.2" y="170.9"/>
<use href="#m5" x="261.1" y="141.8"/>
<use href="#m5" x="275.6" y="173.9"/>
<use href="#m5" x="275.4" y="38.8"/>
<use href="#m5" x="253.7" y="159.9"/>
<use href="#m5" x="271.2" y="190.8"/>
<use href="#m5" x="253.9" y="163.1"/>
<use href="#m5" x="290.9" y="213.9"/>
<use href="#m1" x="290.2" y="112.9"/>
<use href="#m5" x="246.0" y="204.6"/>
<use href="#m5" x="201.7" y="45.5"/>
<use href="#m5" x="260.1" y="165.3"/>
<use href="#m4" x="262.0" y="209.0"/>
<use href="#m5" x="235.9" y="202.6"/>
<use href="#m5" x="249.0" y="153.2"/>
<use href="#m5" x="232.6" y="156.4"/>
<use href="#m5" x="223.9" y="37.6"/>
<use href="#m5" x="263.2" y="196.4"/>
<use href="#m5" x="228.4" y="135.4"/>
<use href="#m5" x="201.8" y="129.3"/>
<use href="#m5" x="220.9" y="132.3"/>
<use href="#m5" x="258.7" y="193.4"/>
<use href="#m5" x="272.4" y="185.8"/>
<use href="#m5" x="256.7" y="178.7"/>
<use href="#m5" x="279.9" y="171.4"/>
<use href="#m5" x="231.1" y="151.8"/>
<use href="#m5" x="269.7" y="191.8"/>
<use href="#m5" x="257.3" y="193.5"/>
<use href="#m5" x="222.8" y="191.4"/>
<use href="#m2" x="221.7" y="187.7"/>
<use href="#m5" x="260.4" y="214.0"/>
<use href="#m5" x="280.1" y="160.8"/>
<use href="#m5" x="246.4" y="205.5"/>
<use href="#m2" x="217.7" y="38.9"/>
<use href="#m5" x="249.8" y="204.9"/>
<use href="#m1" x="241.5" y="139.4"/>
<use href="#m2" x="275.7" y="54.6"/>
<use href="#m5" x="228.9" y="154.6"/>
<use href="#m1" x="185.6" y="156.2"/>
<use href="#m5" x="228.8" y="167.5"/>
<use href="#m5" x="229.8" y="144.9"/>
<use href="#m2" x="230.8" y="152.4"/>
<use href="#m1" x="232.2" y="141.4"/>
<use href="#m5" x="248.4" y="188.5"/>
<use href="#m5" x="218.2" y="158.0"/>
<use href="#m2" x="258.4" y="147.5"/>
<use href="#m5" x="229.2" y="175.8"/>
<use href="#m5" x="247.5" y="153.5"/>
<use href="#m5" x="214.6" y="133.9"/>
<use href="#m5" x="246.5" y="181.5"/>
<use href="#m5" x="224.6" y="157.6"/>
<use href="#m5" x="275.8" y="169.9"/>
<use href="#m5" x="262.1" y="179.1"/>
<use href="#m1" x="168.9" y="135.8"/>
<use href="#m5" x="283.7" y="154.9"/>
<use href="#m5" x="288.8" y="142.3"/>
<use href="#m1" x="236.5" y="73.5"/>
<use href="#m2" x="273.1" y="107.3"/>
<use href="#m5" x="287.1" y="189.7"/>
<use href="#m2" x="199.5" y="186.3"/>
<use href="#m5" x="284.7" y="149.3"/>
<use href="#m5" x="286.4" y="176.2"/>
<use href="#m5" x="269.5" y="155.5"/>
<use href="#m2" x="227.5" y="177.0"/>
<use href="#m5" x="249.7" y="111.3"/>
<use href="#m2" x="231.4" y="77.9"/>
<use href="#m5" x="252.4" y="158.1"/>
<use href="#m5" x="239.8" y="176.6"/>
<use href="#m5" x="234.9" y="191.7"/>
<use href="#m2" x="162.4" y="170.3"/>
<use href="#m1" x="226.5" y="149.6"/>
<use href="#m2" x="96.2" y="103.9"/>
<use href="#m5" x="272.9" y="154.4"/>
<use href="#m5" x="255.8" y="173.2"/>
<use href="#m5" x="270.7" y="195.6"/>
<use href="#m5" x="278.9" y="133.5"/>
<use href="#m5" x="276.0" y="171.2"/>
<use href="#m5" x="274.8" y="207.7"/>
<use href="#m5" x="269.7" y="170.4"/>
<use href="#m5" x="277.6" y="138.1"/>
<use href="#m5" x="241.6" y="97.3"/>
<use href="#m5" x="272.5" y="219.9"/>
<use href="#m2" x="244.8" y="171.8"/>
<use href="#m2" x="269.9" y="110.4"/>
<use href="#m5" x="141.1" y="158.2"/>
<use href="#m5" x="240.3" y="148.0"/>
<use href="#m5" x="250.4" y="218.5"/>
<use href="#m5" x="211.7" y="174.2"/>
<use href="#m2" x="266.7" y="172.7"/>
<use href="#m2" x="273.0" y="127.1"/>
<use href="#m5" x="249.1" y="198.2"/>
<use href="#m5" x="288.6" y="205.7"/>
<use href="#m2" x="237.8" y="213.1"/>
<use href="#m2" x="270.6" y="197.8"/>
<use href="#m1" x="271.1" y="213.6"/>
<use href="#m2" x="261.4" y="117.9"/>
<use href="#m5" x="287.4" y="182.8"/>
<use href="#m5" x="238.2" y="201.8"/>
<use href="#m5" x="261.9" y="195.6"/>
<use href="#m5" x="266.8" y="178.5"/>
<use href="#m5" x="248.3" y="120.6"/>
<use href="#m5" x="253.3" y="196.8"/>
<use href="#m5" x="264.0" y="214.7"/>
<use href="#m5" x="256.9" y="207.2"/>
<use href="#m5" x="216.5" y="188.9"/>
<use href="#m5" x="243.0" y="182.1"/>
<use href="#m4" x="209.2" y="126.5"/>
<use href="#m5" x="225.1" y="158.2"/>
<use href="#m1" x="206.0" y="155.2"/>
<use href="#m5" x="255.1" y="198.3"/>
<use href="#m1" x="227.2" y="178.9"/>
<use href="#m4" x="292.9" y="222.3"/>
<use href="#m2" x="275.2" y="113.1"/>
<use href="#m1" x="167.6" y="73.9"/>
<use href="#m5" x="280.7" y="177.7"/>
<use href="#m5" x="231.8" y="161.3"/>
<use href="#m1" x="149.0" y="149.9"/>
<use href="#m5" x="226.6" y="161.6"/>
<use href="#m1" x="264.5" y="119.6"/>
<use href="#m1" x="233.7" y="65.0"/>
<use href="#m5" x="223.1" y="147.3"/>
<use href="#m5" x="272.7" y="91.1"/>
<use href="#m5" x="290.3" y="184.5"/>
<use href="#m5" x="290.1" y="201.9"/>
<use href="#m2" x="268.7" y="200.1"/>
<use href="#m5" x="280.1" y="190.0"/>
<use href="#m2" x="218.4" y="219.3"/>
<use href="#m2" x="206.1" y="197.5"/>
<use href="#m5" x="283.6" y="140.6"/>
<use href="#m5" x="266.4" y="173.6"/>
<use href="#m3" x="230.7" y="186.3"/>
<use href="#m2" x="203.6" y="143.5"/>
<use href="#m1" x="245.0" y="202.4"/>
<use href="#m2" x="243.1" y="150.1"/>
<use href="#m5" x="290.2" y="190.1"/>
<use href="#m2" x="94.7" y="204.6"/>
<use href="#m5" x="268.8" y="204.3"/>
<use href="#m2" x="253.4" y="106.1"/>
<use href="#m5" x="226.7" y="157.9"/>
<use href="#m5" x="249.1" y="136.6"/>
<use href="#m5" x="271.7" y="118.0"/>
<use href="#m5" x="233.4" y="158.3"/>
<use href="#m2" x="200.1" y="167.2"/>
<use href="#m5" x="291.3" y="146.2"/>
<use href="#m1" x="227.5" y="118.4"/>
<use href="#m2" x="214.7" y="107.4"/>
<use href="#m2" x="288.7" y="181.4"/>
<use href="#m5" x="281.0" y="165.6"/>
<use href="#m1" x="271.6" y="136.2"/>
<use href="#m5" x="260.5" y="153.6"/>
<use href="#m2" x="243.0" y="38.3"/>
<use href="#m1" x="253.4" y="151.5"/>
<use href="#m5" x="289.3" y="207.8"/>
<use href="#m5" x="217.3" y="196.2"/>
<use href="#m5" x="277.3" y="214.5"/>
<use href="#m5" x="252.0" y="105.3"/>
<use href="#m2" x="265.0" y="181.5"/>
<use href="#m5" x="280.5" y="161.7"/>
<use href="#m1" x="199.9" y="161.0"/>
<use href="#m2" x="282.9" y="154.2"/>
<use href="#m5" x="248.5" y="173.3"/>
<use href="#m2" x="231.9" y="207.2"/>
<use href="#m2" x="277.2" y="168.2"/>
<use href="#m5" x="276.9" y="216.8"/>
<use href="#m5" x="276.5" y="123.2"/>
<use href="#m5" x="256.4" y="189.8"/>
<use href="#m5" x="259.4" y="137.7"/>
<use href="#m1" x="208.9" y="75.0"/>
<use href="#m5" x="232.4" y="167.2"/>
<use href="#m2" x="266.0" y="135.9"/>
<use href="#m3" x="266.3" y="226.0"/>
<use href="#m5" x="277.5" y="158.4"/>
<use href="#m5" x="240.0" y="171.8"/>
<use href="#m5" x="270.2" y="208.4"/>
<use href="#m5" x="284.6" y="187.7"/>
<use href="#m2" x="289.5" y="118.1"/>
<use href="#m5" x="235.3" y="170.4"/>
<use href="#m5" x="276.5" y="89.5"/>
<use href="#m5" x="280.8" y="190.7"/>
<use href="#m2" x="188.7" y="213.6"/>
<use href="#m5" x="232.2" y="164.1"/>
<use href="#m5" x="259.6" y="197.4"/>
<use href="#m2" x="235.5" y="216.4"/>
<use href="#m2" x="253.0" y="145.0"/>
<use href="#m5" x="188.6" y="143.0"/>
<use href="#m5" x="273.5" y="158.2"/>
<use href="#m5" x="287.4" y="85.5"/>
<use href="#m1" x="224.9" y="62.5"/>
<use href="#m2" x="234.4" y="52.7"/>
<use href="#m5" x="290.5" y="210.7"/>
<use href="#m1" x="251.5" y="142.4"/>
<use href="#m2" x="250.4" y="215.9"/>
<use href="#m2" x="218.2" y="139.8"/>
<use href="#m1" x="271.7" y="132.3"/>
<use href="#m5" x="266.1" y="145.7"/>
<use href="#m3" x="221.8" y="228.9"/>
<use href="#m2" x="235.6" y="38.0"/>
<use href="#m5" x="247.8" y="143.2"/>
<use href="#m5" x="224.4" y="186.2"/>
<use href="#m5" x="174.4" y="167.1"/>
<use href="#m5" x="291.7" y="146.0"/>
<use href="#m5" x="284.1" y="79.9"/>
<use href="#m5" x="256.2" y="146.8"/>
<use href="#m1" x="196.2" y="139.0"/>
<use href="#m2" x="285.9" y="193.9"/>
<use href="#m2" x="232.2" y="95.6"/>
<use href="#m5" x="280.4" y="203.1"/>
<use href="#m5" x="265.1" y="163.6"/>
<use href="#m5" x="284.1" y="165.3"/>
<use href="#m5" x="283.7" y="160.9"/>
<use href="#m5" x="279.8" y="80.2"/>
<use href="#m5" x="233.4" y="127.6"/>
<use href="#m5" x="261.8" y="199.6"/>
<use href="#m5" x="226.9" y="174.6"/>
<use href="#m5" x="285.9" y="189.2"/>
<use href="#m5" x="242.0" y="98.7"/>
<use href="#m5" x="264.9" y="162.4"/>
<use href="#m5" x="211.1" y="186.0"/>
<use href="#m5" x="267.0" y="210.8"/>
<use href="#m1" x="239.7" y="128.9"/>
<use href="#m2" x="250.0" y="96.7"/>
<use href="#m5" x="251.6" y="199.3"/>
<use href="#m5" x="241.0" y="173.8"/>
<use href="#m5" x="223.3" y="168.7"/>
<use href="#m5" x="253.5" y="146.0"/>
<use href="#m5" x="224.3" y="125.7"/>
<use href="#m1" x="253.5" y="147.5"/>
<use href="#m5" x="244.4" y="132.1"/>
<use href="#m5" x="291.8" y="143.3"/>
<use href="#m2" x="225.8" y="114.5"/>
<use href="#m2" x="214.2" y="74.2"/>
<use href="#m5" x="230.3" y="187.6"/>
<use href="#m3" x="235.3" y="193.6"/>
<use href="#m5" x="227.7" y="146.6"/>
<use href="#m5" x="291.3" y="120.2"/>
<use href="#m5" x="240.8" y="111.5"/>
<use href="#m5" x="276.8" y="165.2"/>
<use href="#m5" x="285.8" y="114.2"/>
<use href="#m2" x="248.2" y="111.6"/>
<use href="#m5" x="196.7" y="198.4"/>
<use href="#m5" x="280.5" y="165.1"/>
<use href="#m5" x="214.6" y="143.2"/>
<use href="#m2" x="282.8" y="161.0"/>
<use href="#m2" x="266.6" y="167.8"/>
<use href="#m5" x="284.6" y="162.2"/>
<use href="#m5" x="278.6" y="200.3"/>
<use href="#m2" x="279.9" y="136.5"/>
<use href="#m2" x="162.0" y="96.5"/>
<use href="#m5" x="291.5" y="160.3"/>
<use href="#m2" x="162.0" y="34.0"/>
<use href="#m5" x="235.3" y="177.3"/>
<use href="#m1" x="240.0" y="69.3"/>
<use href="#m5" x="239.3" y="131.1"/>
<use href="#m4" x="207.4" y="160.3"/>
<use href="#m5" x="291.3" y="190.0"/>
<use href="#m2" x="173.1" y="195.3"/>
<use href="#m5" x="260.3" y="161.1"/>
<use href="#m1" x="247.1" y="176.2"/>
<use href="#m5" x="241.3" y="147.2"/>
<use href="#m2" x="284.5" y="192.7"/>
<use href="#m5" x="242.1" y="147.7"/>
<use href="#m5" x="226.7" y="177.6"/>
<use href="#m5" x="271.3" y="166.3"/>
<use href="#m5" x="252.7" y="180.1"/>
<use href="#m2" x="281.9" y="167.7"/>
<use href="#m5" x="223.4" y="178.0"/>
<use href="#m5" x="257.7" y="173.3"/>
<use href="#m5" x="223.2" y="118.2"/>
<use href="#m5" x="237.4" y="221.8"/>
<use href="#m2" x="274.8" y="151.9"/>
<use href="#m5" x="241.6" y="182.7"/>
<use href="#m2" x="164.6" y="96.1"/>
<use href="#m5" x="259.3" y="208.5"/>
<use href="#m5" x="264.2" y="184.0"/>
<use href="#m5" x="276.8" y="166.2"/>
<use href="#m5" x="232.3" y="189.7"/>
<use href="#m5" x="239.7" y="148.3"/>
<use href="#m2" x="253.4" y="158.1"/>
<use href="#m5" x="222.7" y="171.3"/>
<use href="#m5" x="259.4" y="150.3"/>
<use href="#m2" x="239.0" y="141.3"/>
<use href="#m5" x="268.7" y="215.4"/>
<use href="#m4" x="206.2" y="122.8"/>
<use href="#m2" x="160.5" y="181.0"/>
<use href="#m5" x="247.0" y="123.1"/>
<use href="#m2" x="224.7" y="129.4"/>
<use href="#m5" x="229.7" y="148.4"/>
<use href="#m5" x="282.0" y="194.4"/>
<use href="#m2" x="232.4" y="157.8"/>
<use href="#m2" x="269.6" y="116.4"/>
<use href="#m5" x="237.8" y="158.9"/>
<use href="#m2" x="236.4" y="85.6"/>
<use href="#m5" x="247.9" y="155.0"/>
<use href="#m5" x="255.3" y="106.8"/>
<use href="#m2" x="257.5" y="55.2"/>
<use href="#m5" x="278.1" y="202.7"/>
<use href="#m5" x="260.2" y="200.5"/>
<use href="#m2" x="212.6" y="122.6"/>
<use href="#m5" x="265.9" y="195.7"/>
<use href="#m2" x="182.8" y="73.5"/>
<use href="#m5" x="279.4" y="156.6"/>
<use href="#m5" x="282.2" y="215.3"/>
<use href="#m5" x="216.1" y="180.2"/>
<use href="#m2" x="263.4" y="169.8"/>
<use href="#m2" x="257.8" y="203.0"/>
<use href="#m5" x="271.6" y="184.2"/>
<use href="#m5" x="273.6" y="201.5"/>
<use href="#m5" x="231.7" y="154.5"/>
<use href="#m5" x="187.7" y="155.4"/>
<use href="#m5" x="243.8" y="212.8"/>
<use href="#m5" x="235.5" y="166.8"/>
<use href="#m2" x="181.0" y="133.6"/>
<use href="#m2" x="290.5" y="115.3"/>
<use href="#m5" x="249.1" y="206.2"/>
<use href="#m5" x="222.6" y="200.2"/>
<use href="#m5" x="287.3" y="182.5"/>
<use href="#m5" x="273.7" y="162.1"/>
<use href="#m5" x="289.6" y="216.2"/>
<use href="#m2" x="191.2" y="135.4"/>
<use href="#m5" x="176.8" y="198.1"/>
<use href="#m5" x="222.7" y="201.3"/>
<use href="#m2" x="236.8" y="145.5"/>
<use href="#m5" x="289.4" y="164.9"/>
<use href="#m5" x="266.4" y="168.5"/>
<use href="#m5" x="268.9" y="104.0"/>
<use href="#m5" x="237.0" y="189.9"/>
<use href="#m5" x="259.1" y="148.1"/>
<use href="#m3" x="209.0" y="154.7"/>
<use href="#m5" x="254.3" y="157.1"/>
<use href="#m5" x="273.0" y="165.8"/>
<use href="#m4" x="211.2" y="222.7"/>
<use href="#m5" x="231.2" y="166.7"/>
<use href="#m5" x="261.8" y="171.9"/>
<use href="#m5" x="262.3" y="199.8"/>
<use href="#m5" x="255.2" y="176.7"/>
<use href="#m5" x="283.4" y="178.6"/>
<use href="#m5" x="226.7" y="186.3"/>
<use href="#m5" x="264.2" y="189.8"/>
<use href="#m5" x="239.7" y="146.3"/>
<use href="#m2" x="211.9" y="138.3"/>
<use href="#m5" x="288.9" y="154.1"/>
<use href="#m5" x="255.1" y="130.9"/>
<use href="#m5" x="275.4" y="205.1"/>
<use href="#m4" x="287.1" y="182.1"/>
<use href="#m5" x="276.6" y="149.5"/>
<use href="#m4" x="271.3" y="185.5"/>
<use href="#m5" x="271.0" y="237.6"/>
<use href="#m5" x="251.3" y="192.5"/>
<use href="#m5" x="290.2" y="199.8"/>
<use href="#m5" x="268.0" y="211.1"/>
<use href="#m5" x="257.5" y="141.8"/>
<use href="#m5" x="261.2" y="145.0"/>
<use href="#m5" x="214.9" y="97.3"/>
<use href="#m5" x="250.1" y="186.0"/>
<use href="#m5" x="197.6" y="121.7"/>
<use href="#m5" x="286.6" y="189.0"/>
<use href="#m5" x="264.7" y="211.7"/>
<use href="#m5" x="277.6" y="191.3"/>
<use href="#m5" x="286.0" y="235.6"/>
<use href="#m5" x="271.1" y="132.8"/>
<use href="#m5" x="261.7" y="204.1"/>
<use href="#m4" x="282.2" y="106.2"/>
<use href="#m5" x="229.3" y="115.3"/>
<use href="#m5" x="262.3" y="149.3"/>
<use href="#m5" x="268.1" y="157.4"/>
<use href="#m5" x="245.3" y="170.2"/>
<use href="#m5" x="247.4" y="212.3"/>
<use href="#m5" x="284.4" y="206.8"/>
<use href="#m5" x="288.9" y="169.1"/>
<use href="#m5" x="252.2" y="210.4"/>
<use href="#m5" x="214.9" y="189.0"/>
<use href="#m5" x="249.2" y="176.9"/>
<use href="#m3" x="274.0" y="111.6"/>
<use href="#m5" x="179.1" y="207.0"/>
<use href="#m5" x="291.5" y="204.0"/>
<use href="#m5" x="267.9" y="195.1"/>
<use href="#m3" x="208.3" y="211.3"/>
<use href="#m4" x="274.1" y="190.2"/>
<use href="#m4" x="216.2" y="97.0"/>
<use href="#m5" x="211.2" y="99.7"/>
<use href="#m5" x="250.4" y="212.7"/>
<use href="#m5" x="238.5" y="175.6"/>
<use href="#m5" x="201.8" y="192.9"/>
<use href="#m5" x="289.3" y="125.4"/>
<use href="#m5" x="279.2" y="170.2"/>
<use href="#m5" x="285.2" y="203.3"/>
<use href="#m5" x="275.3" y="202.5"/>
<use href="#m5" x="290.4" y="198.4"/>
<use href="#m5" x="287.3" y="182.5"/>
<use href="#m5" x="260.6" y="168.2"/>
<use href="#m5" x="260.8" y="173.7"/>
<use href="#m5" x="238.0" y="202.7"/>
<use href="#m5" x="290.3" y="202.5"/>
<use href="#m5" x="256.8" y="113.1"/>
<use href="#m5" x="252.1" y="122.2"/>
<use href="#m5" x="253.4" y="150.8"/>
<use href="#m5" x="282.3" y="183.6"/>
<use href="#m5" x="250.2" y="120.2"/>
<use href="#m5" x="257.4" y="215.5"/>
<use href="#m5" x="246.8" y="162.7"/>
<use href="#m5" x="286.3" y="167.6"/>
<use href="#m5" x="242.3" y="152.7"/>
<use href="#m5" x="208.2" y="175.4"/>
<use href="#m4" x="275.4" y="218.4"/>
<use href="#m5" x="267.6" y="172.1"/>
<use href="#m5" x="247.1" y="149.2"/>
<use href="#m5" x="289.8" y="184.9"/>
<use href="#m5" x="288.2" y="161.0"/>
<use href="#m5" x="273.7" y="174.9"/>
<use href="#m5" x="289.9" y="144.3"/>
<use href="#m5" x="234.5" y="200.5"/>
<use href="#m5" x="263.3" y="156.5"/>
<use href="#m5" x="230.0" y="159.8"/>
<use href="#m5" x="217.9" y="212.1"/>
<use href="#m5" x="219.2" y="186.2"/>
<use href="#m5" x="235.0" y="157.2"/>
<use href="#m5" x="218.1" y="192.0"/>
<use href="#m3" x="273.5" y="225.8"/>
<use href="#m5" x="222.5" y="199.6"/>
<use href="#m5" x="242.7" y="94.8"/>
<use href="#m5" x="284.5" y="144.7"/>
<use href="#m5" x="242.4" y="200.2"/>
<use href="#m5" x="284.7" y="151.5"/>
<use href="#m5" x="270.8" y="139.6"/>
<use href="#m4" x="209.1" y="174.7"/>
<use href="#m5" x="270.6" y="163.5"/>
<use href="#m3" x="257.1" y="148.7"/>
<use href="#m5" x="255.4" y="147.2"/>
<use href="#m5" x="233.7" y="139.1"/>
<use href="#m5" x="276.1" y="162.9"/>
<use href="#m5" x="275.5" y="179.5"/>
<use href="#m5" x="266.6" y="183.5"/>
<use href="#m5" x="245.1" y="194.2"/>
<use href="#m5" x="269.7" y="175.6"/>
<use href="#m4" x="240.5" y="104.6"/>
<use href="#m5" x="254.0" y="176.6"/>
<use href="#m5" x="248.2" y="171.7"/>
<use href="#m5" x="244.8" y="154.2"/>
<use href="#m5" x="263.2" y="183.0"/>
<use href="#m5" x="264.1" y="182.1"/>
<use href="#m5" x="253.6" y="197.3"/>
<use href="#m5" x="235.2" y="132.2"/>
<use href="#m5" x="238.5" y="160.4"/>
<use href="#m5" x="253.3" y="157.1"/>
<use href="#m5" x="217.2" y="146.9"/>
<use href="#m5" x="241.0" y="183.3"/>
<use href="#m5" x="284.0" y="208.3"/>
<use href="#m5" x="253.0" y="146.8"/>
<use href="#m5" x="260.9" y="153.0"/>
<use href="#m5" x="268.6" y="182.3"/>
<use href="#m5" x="262.7" y="113.4"/>
<use href="#m5" x="289.1" y="155.8"/>
<use href="#m5" x="250.3" y="193.8"/>
<use href="#m5" x="283.5" y="175.2"/>
<use href="#m4" x="222.0" y="151.3"/>
<use href="#m5" x="279.2" y="206.1"/>
<use href="#m5" x="219.8" y="209.8"/>
<use href="#m5" x="267.1" y="106.8"/>
<use href="#m5" x="246.2" y="208.3"/>
<use href="#m5" x="239.2" y="150.2"/>
<use href="#m5" x="270.6" y="211.1"/>
<use href="#m5" x="248.6" y="189.5"/>
<use href="#m5" x="240.5" y="146.6"/>
<use href="#m5" x="275.5" y="145.0"/>
<use href="#m5" x="216.8" y="188.6"/>
<use href="#m5" x="265.4" y="139.1"/>
<use href="#m5" x="226.0" y="82.8"/>
<use href="#m5" x="235.1" y="146.9"/>
<use href="#m5" x="263.0" y="184.0"/>
<use href="#m5" x="217.5" y="150.2"/>
<use href="#m5" x="248.0" y="148.6"/>
<use href="#m5" x="249.6" y="209.4"/>
<use href="#m5" x="203.6" y="62.6"/>
<use href="#m5" x="254.6" y="193.3"/>
<use href="#m5" x="254.1" y="159.8"/>
<use href="#m5" x="278.9" y="204.0"/>
<use href="#m5" x="255.5" y="41.1"/>
<use href="#m5" x="252.4" y="155.2"/>
<use href="#m5" x="195.8" y="95.6"/>
<use href="#m5" x="260.9" y="164.3"/>
<use href="#m5" x="276.1" y="215.6"/>
<use href="#m5" x="254.7" y="171.9"/>
<use href="#m4" x="279.5" y="96.3"/>
<use href="#m5" x="266.9" y="147.1"/>
<use href="#m5" x="255.6" y="171.3"/>
<use href="#m5" x="273.6" y="214.1"/>
<use href="#m5" x="269.9" y="182.2"/>
<use href="#m5" x="263.2" y="211.8"/>
<use href="#m5" x="230.4" y="108.5"/>
<use href="#m5" x="277.7" y="158.2"/>
<use href="#m5" x="258.0" y="180.1"/>
<use href="#m5" x="274.4" y="164.6"/>
<use href="#m5" x="278.5" y="171.7"/>
<use href="#m5" x="216.3" y="128.8"/>
<use href="#m5" x="247.2" y="92.5"/>
<use href="#m5" x="245.2" y="184.7"/>
<use href="#m5" x="261.3" y="177.1"/>
<use href="#m5" x="242.7" y="171.6"/>
<use href="#m5" x="277.6" y="150.5"/>
<use href="#m5" x="269.0" y="149.1"/>
<use href="#m5" x="233.6" y="128.7"/>
<use href="#m5" x="248.9" y="136.3"/>
<use href="#m5" x="273.9" y="195.0"/>
<use href="#m5" x="248.3" y="162.5"/>
<use href="#m5" x="280.6" y="139.3"/>
<use href="#m5" x="272.3" y="179.6"/>
<use href="#m5" x="269.8" y="204.8"/>
<use href="#m5" x="273.7" y="150.7"/>
<use href="#m5" x="282.2" y="166.3"/>
<use href="#m5" x="285.2" y="160.2"/>
<use href="#m5" x="167.0" y="148.6"/>
<use href="#m5" x="286.0" y="162.5"/>
<use href="#m5" x="247.1" y="154.3"/>
<use href="#m5" x="277.6" y="159.9"/>
<use href="#m5" x="215.7" y="148.9"/>
<use href="#m5" x="219.5" y="174.6"/>
<use href="#m5" x="278.6" y="187.6"/>
<use href="#m5" x="223.4" y="179.3"/>
<use href="#m5" x="278.7" y="214.2"/>
<use href="#m5" x="221.2" y="208.4"/>
<use href="#m5" x="264.5" y="164.2"/>
<use href="#m5" x="257.7" y="167.8"/>
<use href="#m5" x="256.6" y="152.5"/>
<use href="#m5" x="263.4" y="134.3"/>
<use href="#m5" x="253.9" y="144.8"/>
<use href="#m5" x="286.8" y="172.9"/>
<use href="#m5" x="263.4" y="158.3"/>
<use href="#m5" x="270.1" y="157.0"/>
<use href="#m5" x="260.5" y="167.3"/>
<use href="#m5" x="290.8" y="159.5"/>
<use href="#m5" x="239.5" y="210.2"/>
<use href="#m5" x="256.6" y="208.4"/>
<use href="#m5" x="283.2" y="200.6"/>
<use href="#m5" x="271.4" y="137.0"/>
<use href="#m5" x="262.1" y="128.1"/>
<use href="#m5" x="258.8" y="172.7"/>
<use href="#m5" x="217.4" y="168.1"/>
<use href="#m5" x="284.3" y="182.1"/>
<use href="#m5" x="251.4" y="130.3"/>
<use href="#m5" x="248.0" y="221.0"/>
<use href="#m5" x="269.0" y="170.7"/>
<use href="#m5" x="239.8" y="201.2"/>
<use href="#m5" x="256.3" y="127.5"/>
<use href="#m5" x="227.9" y="186.0"/>
<use href="#m5" x="259.6" y="159.6"/>
<use href="#m5" x="268.8" y="163.6"/>
<use href="#m5" x="245.1" y="211.9"/>
<use href="#m5" x="276.0" y="146.6"/>
<use href="#m5" x="274.7" y="190.8"/>
<use href="#m5" x="276.3" y="171.5"/>
<use href="#m5" x="239.7" y="217.0"/>
<use href="#m5" x="271.4" y="165.1"/>
<use href="#m5" x="265.4" y="143.1"/>
<use href="#m5" x="275.5" y="149.1"/>
<use href="#m5" x="250.3" y="167.6"/>
<use href="#m5" x="238.4" y="153.6"/>
<use href="#m5" x="221.5" y="155.0"/>
<use href="#m5" x="269.2" y="159.9"/>
<use href="#m5" x="264.3" y="216.5"/>
<use href="#m5" x="265.1" y="143.7"/>
</g>
<line x1="215.7" y1="262.4" x2="215.7" y2="14.6" stroke="#ea4a45" stroke-width="1.4" stroke-dasharray="3.9 2.15"/>
<line x1="53.8" y1="144.7" x2="303.6" y2="144.7" stroke="#ea4a45" stroke-width="1.4" stroke-dasharray="3.9 2.15"/>
<rect x="53.8" y="14.6" width="249.8" height="247.8" fill="none" stroke="#222" stroke-width="1"/>
<line x1="51" y1="25.7" x2="53.8" y2="25.7" stroke="#222" stroke-width="0.9"/>
<text x="49.6" y="28.8" font-size="8.5" text-anchor="end" fill="#222" textLength="16.8" lengthAdjust="spacingAndGlyphs">0.50</text>
<line x1="51" y1="55.5" x2="53.8" y2="55.5" stroke="#222" stroke-width="0.9"/>
<text x="49.6" y="58.6" font-size="8.5" text-anchor="end" fill="#222" textLength="16.8" lengthAdjust="spacingAndGlyphs">0.45</text>
<line x1="51" y1="85.4" x2="53.8" y2="85.4" stroke="#222" stroke-width="0.9"/>
<text x="49.6" y="88.5" font-size="8.5" text-anchor="end" fill="#222" textLength="16.8" lengthAdjust="spacingAndGlyphs">0.40</text>
<line x1="51" y1="115.2" x2="53.8" y2="115.2" stroke="#222" stroke-width="0.9"/>
<text x="49.6" y="118.3" font-size="8.5" text-anchor="end" fill="#222" textLength="16.8" lengthAdjust="spacingAndGlyphs">0.35</text>
<line x1="51" y1="145.1" x2="53.8" y2="145.1" stroke="#222" stroke-width="0.9"/>
<text x="49.6" y="148.2" font-size="8.5" text-anchor="end" fill="#222" textLength="16.8" lengthAdjust="spacingAndGlyphs">0.30</text>
<line x1="51" y1="174.9" x2="53.8" y2="174.9" stroke="#222" stroke-width="0.9"/>
<text x="49.6" y="178.0" font-size="8.5" text-anchor="end" fill="#222" textLength="16.8" lengthAdjust="spacingAndGlyphs">0.25</text>
<line x1="51" y1="204.7" x2="53.8" y2="204.7" stroke="#222" stroke-width="0.9"/>
<text x="49.6" y="207.8" font-size="8.5" text-anchor="end" fill="#222" textLength="16.8" lengthAdjust="spacingAndGlyphs">0.20</text>
<line x1="51" y1="234.6" x2="53.8" y2="234.6" stroke="#222" stroke-width="0.9"/>
<text x="49.6" y="237.7" font-size="8.5" text-anchor="end" fill="#222" textLength="16.8" lengthAdjust="spacingAndGlyphs">0.15</text>
<line x1="62.4" y1="262.4" x2="62.4" y2="265.2" stroke="#222" stroke-width="0.9"/>
<text x="62.4" y="272.6" font-size="8.5" text-anchor="middle" fill="#222" textLength="15.5" lengthAdjust="spacingAndGlyphs">−14</text>
<line x1="100.7" y1="262.4" x2="100.7" y2="265.2" stroke="#222" stroke-width="0.9"/>
<text x="100.7" y="272.6" font-size="8.5" text-anchor="middle" fill="#222" textLength="15.5" lengthAdjust="spacingAndGlyphs">−13</text>
<line x1="139.0" y1="262.4" x2="139.0" y2="265.2" stroke="#222" stroke-width="0.9"/>
<text x="139.0" y="272.6" font-size="8.5" text-anchor="middle" fill="#222" textLength="15.5" lengthAdjust="spacingAndGlyphs">−12</text>
<line x1="177.4" y1="262.4" x2="177.4" y2="265.2" stroke="#222" stroke-width="0.9"/>
<text x="177.4" y="272.6" font-size="8.5" text-anchor="middle" fill="#222" textLength="15.5" lengthAdjust="spacingAndGlyphs">−11</text>
<line x1="215.7" y1="262.4" x2="215.7" y2="265.2" stroke="#222" stroke-width="0.9"/>
<text x="215.7" y="272.6" font-size="8.5" text-anchor="middle" fill="#222" textLength="15.5" lengthAdjust="spacingAndGlyphs">−10</text>
<line x1="254.0" y1="262.4" x2="254.0" y2="265.2" stroke="#222" stroke-width="0.9"/>
<text x="254.0" y="272.6" font-size="8.5" text-anchor="middle" fill="#222" textLength="11.0" lengthAdjust="spacingAndGlyphs">−9</text>
<line x1="292.3" y1="262.4" x2="292.3" y2="265.2" stroke="#222" stroke-width="0.9"/>
<text x="292.3" y="272.6" font-size="8.5" text-anchor="middle" fill="#222" textLength="11.0" lengthAdjust="spacingAndGlyphs">−8</text>
<text x="110.7" y="288.4" font-size="12.9" fill="#222" textLength="135.3" lengthAdjust="spacingAndGlyphs">Glide gscore (kcal/mol)</text>
<text x="0.0" y="0.0" font-size="11.3" fill="#222" textLength="207.2" lengthAdjust="spacingAndGlyphs" transform="translate(19,237.9) rotate(-90)">Max. similarity against the initial-specific set</text>
<rect x="56.4" y="217.2" width="39" height="43" rx="1.5" fill="#fff" fill-opacity="0.85" stroke="#ddd" stroke-width="0.8"/>
<use href="#m1" x="64.5" y="222.1"/>
<text x="74.8" y="224.4" font-size="6.6" fill="#222" textLength="18.1" lengthAdjust="spacingAndGlyphs">outer1</text>
<use href="#m2" x="64.5" y="230.2"/>
<text x="74.8" y="232.5" font-size="6.6" fill="#222" textLength="18.1" lengthAdjust="spacingAndGlyphs">outer2</text>
<use href="#m3" x="64.5" y="238.4"/>
<text x="74.8" y="240.7" font-size="6.6" fill="#222" textLength="18.1" lengthAdjust="spacingAndGlyphs">outer3</text>
<use href="#m4" x="64.5" y="246.6"/>
<text x="74.8" y="248.9" font-size="6.6" fill="#222" textLength="18.1" lengthAdjust="spacingAndGlyphs">outer4</text>
<use href="#m5" x="64.5" y="254.8"/>
<text x="74.8" y="257.1" font-size="6.6" fill="#222" textLength="18.1" lengthAdjust="spacingAndGlyphs">outer5</text>
<g class="tb"><text x="315.0" y="14.0" font-size="17" textLength="10.8" lengthAdjust="spacingAndGlyphs">B</text>
<rect x="331" y="14" width="352.6" height="38.6" fill="#bcbfbd"/>
<text x="353.9" y="37.1" font-size="12.6" fill="#231f20" textLength="12.6" lengthAdjust="spacingAndGlyphs">ID</text>
<text x="398.0" y="30.3" font-size="11.6" fill="#231f20" textLength="64.2" lengthAdjust="spacingAndGlyphs">Glide gscore</text>
<text x="403.8" y="46.2" font-size="11.6" fill="#231f20" textLength="52.6" lengthAdjust="spacingAndGlyphs">(kcal/mol)</text>
<text x="478.0" y="30.3" font-size="11.6" fill="#231f20" textLength="50.2" lengthAdjust="spacingAndGlyphs">PELE BFE</text>
<text x="474.9" y="46.2" font-size="11.6" fill="#231f20" textLength="56.4" lengthAdjust="spacingAndGlyphs">(kcal/mol)</text>
<text x="549.4" y="30.3" font-size="11.6" fill="#231f20" textLength="49.2" lengthAdjust="spacingAndGlyphs">ABFE ΔG</text>
<text x="545.4" y="46.2" font-size="11.6" fill="#231f20" textLength="57.2" lengthAdjust="spacingAndGlyphs">(kcal/mol)</text>
<text x="631.5" y="30.3" font-size="11.6" fill="#231f20" textLength="25.9" lengthAdjust="spacingAndGlyphs">Max.</text>
<text x="619.6" y="46.2" font-size="11.6" fill="#231f20" textLength="51.9" lengthAdjust="spacingAndGlyphs">similarity</text>
<text x="332.4" y="68.7" font-size="11.3" fill="#231f20" textLength="48.6" lengthAdjust="spacingAndGlyphs">outer1_28</text>
<text x="414.3" y="68.7" font-size="11.3" fill="#231f20" textLength="28.4" lengthAdjust="spacingAndGlyphs">-10.41</text>
<text x="485.7" y="69.1" font-size="11.3" fill="#231f20" textLength="29.8" lengthAdjust="spacingAndGlyphs">-47.95</text>
<text x="562.6" y="70.0" font-size="11.3" fill="#231f20" textLength="23.5" lengthAdjust="spacingAndGlyphs">-5.98</text>
<text x="634.8" y="70.7" font-size="11.3" fill="#231f20" textLength="20.4" lengthAdjust="spacingAndGlyphs">0.26</text>
<text x="332.4" y="93.9" font-size="11.3" fill="#231f20" textLength="54.9" lengthAdjust="spacingAndGlyphs">outer5_105</text>
<text x="414.3" y="93.9" font-size="11.3" fill="#231f20" textLength="29.5" lengthAdjust="spacingAndGlyphs">-10.67</text>
<text x="485.7" y="94.2" font-size="11.3" fill="#231f20" textLength="29.8" lengthAdjust="spacingAndGlyphs">-42.47</text>
<text x="562.6" y="95.8" font-size="11.3" fill="#231f20" textLength="23.4" lengthAdjust="spacingAndGlyphs">-8.12</text>
<text x="635.4" y="95.8" font-size="11.3" fill="#231f20" textLength="19.8" lengthAdjust="spacingAndGlyphs">0.28</text>
<text x="332.4" y="118.8" font-size="11.3" fill="#231f20" textLength="48.6" lengthAdjust="spacingAndGlyphs">outer5_28</text>
<text x="414.3" y="119.4" font-size="11.3" fill="#231f20" textLength="28.4" lengthAdjust="spacingAndGlyphs">-10.11</text>
<text x="485.7" y="119.3" font-size="11.3" fill="#231f20" textLength="28.3" lengthAdjust="spacingAndGlyphs">-23.51</text>
<text x="562.6" y="120.9" font-size="11.3" fill="#231f20" textLength="23.4" lengthAdjust="spacingAndGlyphs">-4.42</text>
<text x="635.4" y="121.9" font-size="11.3" fill="#231f20" textLength="19.8" lengthAdjust="spacingAndGlyphs">0.24</text>
<text x="332.9" y="145.1" font-size="11.3" fill="#231f20" textLength="60.4" lengthAdjust="spacingAndGlyphs">A-outer5_28</text>
<text x="418.3" y="145.0" font-size="11.3" fill="#231f20" textLength="23.1" lengthAdjust="spacingAndGlyphs">-6.45</text>
<text x="487.3" y="146.0" font-size="11.3" fill="#231f20" textLength="29.2" lengthAdjust="spacingAndGlyphs">-45.48</text>
<text x="563.5" y="146.7" font-size="11.3" fill="#231f20" textLength="23.5" lengthAdjust="spacingAndGlyphs">-7.64</text>
<text x="636.4" y="148.2" font-size="11.3" fill="#231f20" textLength="19.4" lengthAdjust="spacingAndGlyphs">0.26</text>
<text x="332.4" y="169.7" font-size="11.3" fill="#231f20" textLength="54.9" lengthAdjust="spacingAndGlyphs">outer5_137</text>
<text x="415.1" y="171.0" font-size="11.3" fill="#231f20" textLength="28.9" lengthAdjust="spacingAndGlyphs">-10.23</text>
<text x="486.3" y="171.3" font-size="11.3" fill="#231f20" textLength="29.2" lengthAdjust="spacingAndGlyphs">-28.23</text>
<text x="563.2" y="172.6" font-size="11.3" fill="#231f20" textLength="23.6" lengthAdjust="spacingAndGlyphs">-5.90</text>
<text x="635.7" y="173.5" font-size="11.3" fill="#231f20" textLength="19.5" lengthAdjust="spacingAndGlyphs">0.28</text>
<text x="332.9" y="195.2" font-size="9.7" fill="#231f20" textLength="59.6" lengthAdjust="spacingAndGlyphs">A-outer5_137</text>
<text x="418.3" y="196.0" font-size="11.3" fill="#231f20" textLength="23.1" lengthAdjust="spacingAndGlyphs">-7.39</text>
<text x="486.6" y="196.5" font-size="11.3" fill="#231f20" textLength="28.3" lengthAdjust="spacingAndGlyphs">-51.11</text>
<text x="563.2" y="197.7" font-size="11.3" fill="#231f20" textLength="23.6" lengthAdjust="spacingAndGlyphs">-6.80</text>
<text x="635.7" y="198.6" font-size="11.3" fill="#231f20" textLength="19.5" lengthAdjust="spacingAndGlyphs">0.26</text>
<text x="332.4" y="221.0" font-size="9.3" fill="#231f20" textLength="58.8" lengthAdjust="spacingAndGlyphs">(R)-outer1_15</text>
<text x="415.0" y="221.5" font-size="11.3" fill="#231f20" textLength="29.6" lengthAdjust="spacingAndGlyphs">-10.49</text>
<text x="486.3" y="221.6" font-size="11.3" fill="#231f20" textLength="29.2" lengthAdjust="spacingAndGlyphs">-76.73</text>
<text x="565.7" y="222.8" font-size="11.3" fill="#231f20" textLength="17.9" lengthAdjust="spacingAndGlyphs">-3.6</text>
<text x="635.7" y="223.8" font-size="11.3" fill="#231f20" textLength="19.5" lengthAdjust="spacingAndGlyphs">0.26</text>
<text x="332.4" y="246.7" font-size="9.3" fill="#231f20" textLength="58.3" lengthAdjust="spacingAndGlyphs">(S)-outer1_15</text>
<text x="419.0" y="247.7" font-size="11.3" fill="#231f20" textLength="22.9" lengthAdjust="spacingAndGlyphs">-9.41</text>
<text x="487.9" y="247.3" font-size="11.3" fill="#231f20" textLength="29.1" lengthAdjust="spacingAndGlyphs">-85.37</text>
<text x="564.2" y="248.9" font-size="11.3" fill="#231f20" textLength="24.1" lengthAdjust="spacingAndGlyphs">-5.78</text>
<text x="637.0" y="249.8" font-size="11.3" fill="#231f20" textLength="19.8" lengthAdjust="spacingAndGlyphs">0.26</text>
<text x="332.4" y="270.9" font-size="11.3" fill="#231f20" textLength="54.9" lengthAdjust="spacingAndGlyphs">outer5_193</text>
<text x="415.6" y="272.2" font-size="11.3" fill="#231f20" textLength="28.9" lengthAdjust="spacingAndGlyphs">-10.23</text>
<text x="487.3" y="272.4" font-size="11.3" fill="#231f20" textLength="29.2" lengthAdjust="spacingAndGlyphs">-31.86</text>
<text x="563.2" y="273.0" font-size="11.3" fill="#231f20" textLength="23.6" lengthAdjust="spacingAndGlyphs">-4.04</text>
<text x="635.7" y="274.0" font-size="11.3" fill="#231f20" textLength="19.5" lengthAdjust="spacingAndGlyphs">0.29</text></g>
<text x="3.7" y="300.4" font-size="16.5" textLength="11.0" lengthAdjust="spacingAndGlyphs">C</text>
<line x1="55.40" y1="311.20" x2="68.60" y2="318.80" stroke="#2b2b2b" stroke-width="1.05" stroke-linecap="round"/>
<line x1="56.40" y1="314.66" x2="65.11" y2="319.67" stroke="#2b2b2b" stroke-width="1.05" stroke-linecap="round"/>
<line x1="68.60" y1="318.80" x2="68.60" y2="333.80" stroke="#2b2b2b" stroke-width="1.05" stroke-linecap="round"/>
<line x1="68.60" y1="333.80" x2="55.40" y2="341.40" stroke="#2b2b2b" stroke-width="1.05" stroke-linecap="round"/>
<line x1="65.11" y1="332.93" x2="56.40" y2="337.94" stroke="#2b2b2b" stroke-width="1.05" stroke-linecap="round"/>
<line x1="55.40" y1="341.40" x2="41.90" y2="333.80" stroke="#2b2b2b" stroke-width="1.05" stroke-linecap="round"/>
<line x1="41.90" y1="333.80" x2="41.90" y2="318.50" stroke="#2b2b2b" stroke-width="1.05" stroke-linecap="round"/>
<line x1="44.40" y1="331.20" x2="44.40" y2="321.10" stroke="#2b2b2b" stroke-width="1.05" stroke-linecap="round"/>
<line x1="41.90" y1="318.50" x2="55.40" y2="311.20" stroke="#2b2b2b" stroke-width="1.05" stroke-linecap="round"/>
<line x1="55.40" y1="311.20" x2="55.44" y2="305.30" stroke="#2b2b2b" stroke-width="1.05" stroke-linecap="round"/>
<line x1="55.44" y1="305.30" x2="55.48" y2="299.40" stroke="#3f51b5" stroke-width="1.05" stroke-linecap="round"/>
<text x="58.0" y="298.4" font-size="5.6" text-anchor="middle" fill="#3f51b5">NH<tspan font-size="3.8" dy="1">2</tspan></text>
<line x1="41.90" y1="318.50" x2="36.40" y2="315.56" stroke="#2b2b2b" stroke-width="1.05" stroke-linecap="round"/>
<line x1="36.40" y1="315.56" x2="30.89" y2="312.62" stroke="#b39562" stroke-width="1.05" stroke-linecap="round"/>
<text x="28.6" y="313.4" font-size="5.6" text-anchor="middle" fill="#b39562">F</text>
<line x1="41.90" y1="333.80" x2="36.93" y2="336.69" stroke="#2b2b2b" stroke-width="1.05" stroke-linecap="round"/>
<line x1="36.93" y1="336.69" x2="31.96" y2="339.59" stroke="#e8302c" stroke-width="1.05" stroke-linecap="round"/>
<text x="27.3" y="343.6" font-size="5.6" text-anchor="middle" fill="#e8302c">HO</text>
<line x1="68.60" y1="333.80" x2="74.03" y2="336.82" stroke="#2b2b2b" stroke-width="1.05" stroke-linecap="round"/>
<line x1="74.03" y1="336.82" x2="79.46" y2="339.85" stroke="#3f51b5" stroke-width="1.05" stroke-linecap="round"/>
<text x="82.6" y="343.6" font-size="5.6" text-anchor="middle" fill="#3f51b5">NH</text>
<line x1="82.42" y1="345.20" x2="82.11" y2="351.45" stroke="#3f51b5" stroke-width="1.05" stroke-linecap="round"/>
<line x1="82.11" y1="351.45" x2="81.80" y2="357.70" stroke="#2b2b2b" stroke-width="1.05" stroke-linecap="round"/>
<line x1="81.80" y1="357.70" x2="76.43" y2="360.67" stroke="#2b2b2b" stroke-width="1.05" stroke-linecap="round"/>
<line x1="76.43" y1="360.67" x2="71.05" y2="363.64" stroke="#3f51b5" stroke-width="1.05" stroke-linecap="round"/>
<line x1="68.60" y1="367.80" x2="68.60" y2="374.00" stroke="#3f51b5" stroke-width="1.05" stroke-linecap="round"/>
<line x1="68.60" y1="374.00" x2="68.60" y2="380.20" stroke="#2b2b2b" stroke-width="1.05" stroke-linecap="round"/>
<line x1="71.10" y1="369.91" x2="71.10" y2="374.00" stroke="#3f51b5" stroke-width="1.05" stroke-linecap="round"/>
<line x1="71.10" y1="374.00" x2="71.10" y2="378.09" stroke="#2b2b2b" stroke-width="1.05" stroke-linecap="round"/>
<line x1="68.60" y1="380.20" x2="81.80" y2="387.40" stroke="#2b2b2b" stroke-width="1.05" stroke-linecap="round"/>
<line x1="81.80" y1="387.40" x2="95.00" y2="380.20" stroke="#2b2b2b" stroke-width="1.05" stroke-linecap="round"/>
<line x1="82.85" y1="383.98" x2="91.56" y2="379.23" stroke="#2b2b2b" stroke-width="1.05" stroke-linecap="round"/>
<line x1="95.00" y1="380.20" x2="95.00" y2="365.00" stroke="#2b2b2b" stroke-width="1.05" stroke-linecap="round"/>
<line x1="95.00" y1="365.00" x2="81.80" y2="357.70" stroke="#2b2b2b" stroke-width="1.05" stroke-linecap="round"/>
<line x1="91.55" y1="365.95" x2="82.83" y2="361.13" stroke="#2b2b2b" stroke-width="1.05" stroke-linecap="round"/>
<text x="68.6" y="367.0" font-size="5.6" text-anchor="middle" fill="#3f51b5">N</text>
<line x1="95.00" y1="380.20" x2="100.93" y2="383.56" stroke="#2b2b2b" stroke-width="1.05" stroke-linecap="round"/>
<line x1="100.93" y1="383.56" x2="106.86" y2="386.92" stroke="#3f51b5" stroke-width="1.05" stroke-linecap="round"/>
<line x1="111.69" y1="386.84" x2="117.15" y2="383.52" stroke="#3f51b5" stroke-width="1.05" stroke-linecap="round"/>
<line x1="117.15" y1="383.52" x2="122.60" y2="380.20" stroke="#2b2b2b" stroke-width="1.05" stroke-linecap="round"/>
<line x1="122.60" y1="380.20" x2="135.00" y2="387.40" stroke="#2b2b2b" stroke-width="1.05" stroke-linecap="round"/>
<line x1="135.00" y1="387.40" x2="135.00" y2="403.60" stroke="#2b2b2b" stroke-width="1.05" stroke-linecap="round"/>
<line x1="135.00" y1="403.60" x2="122.60" y2="410.80" stroke="#2b2b2b" stroke-width="1.05" stroke-linecap="round"/>
<line x1="122.60" y1="410.80" x2="109.30" y2="403.60" stroke="#2b2b2b" stroke-width="1.05" stroke-linecap="round"/>
<line x1="109.30" y1="403.60" x2="109.30" y2="397.35" stroke="#2b2b2b" stroke-width="1.05" stroke-linecap="round"/>
<line x1="109.30" y1="397.35" x2="109.30" y2="391.10" stroke="#3f51b5" stroke-width="1.05" stroke-linecap="round"/>
<text x="109.3" y="390.3" font-size="5.6" text-anchor="middle" fill="#3f51b5">N</text>
<line x1="206.80" y1="335.40" x2="193.40" y2="328.40" stroke="#2b2b2b" stroke-width="1.05" stroke-linecap="round"/>
<line x1="203.36" y1="336.43" x2="194.52" y2="331.81" stroke="#2b2b2b" stroke-width="1.05" stroke-linecap="round"/>
<line x1="193.40" y1="328.40" x2="180.00" y2="336.40" stroke="#2b2b2b" stroke-width="1.05" stroke-linecap="round"/>
<line x1="180.00" y1="336.40" x2="180.00" y2="352.20" stroke="#2b2b2b" stroke-width="1.05" stroke-linecap="round"/>
<line x1="182.50" y1="339.09" x2="182.50" y2="349.51" stroke="#2b2b2b" stroke-width="1.05" stroke-linecap="round"/>
<line x1="180.00" y1="352.20" x2="193.40" y2="359.60" stroke="#2b2b2b" stroke-width="1.05" stroke-linecap="round"/>
<line x1="193.40" y1="359.60" x2="206.80" y2="351.80" stroke="#2b2b2b" stroke-width="1.05" stroke-linecap="round"/>
<line x1="194.42" y1="356.11" x2="203.26" y2="350.97" stroke="#2b2b2b" stroke-width="1.05" stroke-linecap="round"/>
<line x1="206.80" y1="351.80" x2="206.80" y2="335.40" stroke="#2b2b2b" stroke-width="1.05" stroke-linecap="round"/>
<line x1="206.80" y1="335.40" x2="219.90" y2="328.00" stroke="#2b2b2b" stroke-width="1.05" stroke-linecap="round"/>
<line x1="219.90" y1="328.00" x2="219.78" y2="321.60" stroke="#2b2b2b" stroke-width="1.05" stroke-linecap="round"/>
<line x1="219.78" y1="321.60" x2="219.66" y2="315.20" stroke="#e8302c" stroke-width="1.05" stroke-linecap="round"/>
<text x="219.6" y="314.2" font-size="5.6" text-anchor="middle" fill="#e8302c">O<tspan font-size="4.6" dy="-2.4">-</tspan></text>
<line x1="220.45" y1="326.93" x2="225.47" y2="329.50" stroke="#2b2b2b" stroke-width="1.05" stroke-linecap="round"/>
<line x1="225.47" y1="329.50" x2="230.50" y2="332.07" stroke="#e8302c" stroke-width="1.05" stroke-linecap="round"/>
<line x1="219.35" y1="329.07" x2="224.38" y2="331.64" stroke="#2b2b2b" stroke-width="1.05" stroke-linecap="round"/>
<line x1="224.38" y1="331.64" x2="229.40" y2="334.21" stroke="#e8302c" stroke-width="1.05" stroke-linecap="round"/>
<text x="232.8" y="336.6" font-size="5.6" text-anchor="middle" fill="#e8302c">O</text>
<line x1="206.80" y1="351.80" x2="221.20" y2="358.80" stroke="#2b2b2b" stroke-width="1.05" stroke-linecap="round"/>
<line x1="221.20" y1="358.80" x2="226.50" y2="355.75" stroke="#2b2b2b" stroke-width="1.05" stroke-linecap="round"/>
<line x1="226.50" y1="355.75" x2="231.80" y2="352.70" stroke="#e8302c" stroke-width="1.05" stroke-linecap="round"/>
<text x="234.4" y="353.2" font-size="5.6" text-anchor="middle" fill="#e8302c">O</text>
<line x1="237.27" y1="352.07" x2="242.79" y2="353.73" stroke="#e8302c" stroke-width="1.05" stroke-linecap="round"/>
<line x1="242.79" y1="353.73" x2="248.30" y2="355.40" stroke="#2b2b2b" stroke-width="1.05" stroke-linecap="round"/>
<line x1="248.30" y1="355.40" x2="262.00" y2="347.40" stroke="#2b2b2b" stroke-width="1.05" stroke-linecap="round"/>
<line x1="262.00" y1="347.40" x2="267.24" y2="350.66" stroke="#2b2b2b" stroke-width="1.05" stroke-linecap="round"/>
<line x1="267.24" y1="350.66" x2="272.48" y2="353.91" stroke="#3f51b5" stroke-width="1.05" stroke-linecap="round"/>
<line x1="275.20" y1="358.80" x2="275.20" y2="364.50" stroke="#3f51b5" stroke-width="1.05" stroke-linecap="round"/>
<line x1="275.20" y1="364.50" x2="275.20" y2="370.20" stroke="#2b2b2b" stroke-width="1.05" stroke-linecap="round"/>
<line x1="275.20" y1="370.20" x2="262.00" y2="379.00" stroke="#2b2b2b" stroke-width="1.05" stroke-linecap="round"/>
<line x1="271.57" y1="369.62" x2="262.86" y2="375.42" stroke="#2b2b2b" stroke-width="1.05" stroke-linecap="round"/>
<line x1="262.00" y1="379.00" x2="248.30" y2="370.20" stroke="#2b2b2b" stroke-width="1.05" stroke-linecap="round"/>
<line x1="248.30" y1="370.20" x2="248.30" y2="355.40" stroke="#2b2b2b" stroke-width="1.05" stroke-linecap="round"/>
<line x1="250.80" y1="367.68" x2="250.80" y2="357.92" stroke="#2b2b2b" stroke-width="1.05" stroke-linecap="round"/>
<text x="276.5" y="357.6" font-size="5.6" text-anchor="middle" fill="#3f51b5">NH</text>
<line x1="262.00" y1="347.40" x2="262.00" y2="340.10" stroke="#2b2b2b" stroke-width="1.05" stroke-linecap="round"/>
<line x1="262.00" y1="340.10" x2="262.00" y2="332.80" stroke="#333" stroke-width="1.05" stroke-linecap="round"/>
<text x="262.0" y="331.6" font-size="5.6" text-anchor="middle" fill="#333">R</text>
<line x1="275.20" y1="370.20" x2="289.60" y2="379.20" stroke="#2b2b2b" stroke-width="1.05" stroke-linecap="round"/>
<line x1="289.60" y1="379.20" x2="304.00" y2="371.40" stroke="#2b2b2b" stroke-width="1.05" stroke-linecap="round"/>
<line x1="304.00" y1="371.40" x2="309.26" y2="374.03" stroke="#2b2b2b" stroke-width="1.05" stroke-linecap="round"/>
<line x1="309.26" y1="374.03" x2="314.52" y2="376.66" stroke="#e8302c" stroke-width="1.05" stroke-linecap="round"/>
<text x="317.2" y="380.0" font-size="5.6" text-anchor="middle" fill="#e8302c">O</text>
<line x1="319.78" y1="376.47" x2="325.09" y2="373.34" stroke="#e8302c" stroke-width="1.05" stroke-linecap="round"/>
<line x1="325.09" y1="373.34" x2="330.40" y2="370.20" stroke="#2b2b2b" stroke-width="1.05" stroke-linecap="round"/>
<line x1="330.40" y1="370.20" x2="335.25" y2="373.21" stroke="#2b2b2b" stroke-width="1.05" stroke-linecap="round"/>
<line x1="335.25" y1="373.21" x2="340.11" y2="376.21" stroke="#333" stroke-width="1.05" stroke-linecap="round"/>
<text x="341.2" y="380.0" font-size="5.6" fill="#333">CH<tspan font-size="3.8" dy="1">3</tspan></text>
<line x1="395.00" y1="375.50" x2="405.80" y2="365.20" stroke="#2b2b2b" stroke-width="1.05" stroke-linecap="round"/>
<line x1="405.80" y1="365.20" x2="419.00" y2="369.90" stroke="#2b2b2b" stroke-width="1.05" stroke-linecap="round"/>
<line x1="419.00" y1="369.90" x2="417.40" y2="386.00" stroke="#2b2b2b" stroke-width="1.05" stroke-linecap="round"/>
<line x1="417.40" y1="386.00" x2="402.90" y2="388.40" stroke="#2b2b2b" stroke-width="1.05" stroke-linecap="round"/>
<line x1="402.90" y1="388.40" x2="395.00" y2="375.50" stroke="#2b2b2b" stroke-width="1.05" stroke-linecap="round"/>
<path d="M395.00 375.50L384.23 373.41L384.17 377.21Z" fill="#2a3590"/>
<text x="378.2" y="377.2" font-size="5.6" text-anchor="middle" fill="#3f51b5">H<tspan font-size="3.8" dy="1">3</tspan><tspan dy="-1">N</tspan><tspan font-size="4.6" dy="-2.4">+</tspan></text>
<line x1="420.44" y1="368.48" x2="421.01" y2="369.72" stroke="#2b2b2b" stroke-width="0.7" stroke-linecap="round"/>
<line x1="422.04" y1="367.43" x2="422.85" y2="369.18" stroke="#2b2b2b" stroke-width="0.7" stroke-linecap="round"/>
<line x1="423.64" y1="366.37" x2="424.69" y2="368.64" stroke="#2b2b2b" stroke-width="0.7" stroke-linecap="round"/>
<line x1="425.24" y1="365.32" x2="426.53" y2="368.10" stroke="#2b2b2b" stroke-width="0.7" stroke-linecap="round"/>
<line x1="426.85" y1="364.26" x2="428.38" y2="367.56" stroke="#2b2b2b" stroke-width="0.7" stroke-linecap="round"/>
<line x1="428.45" y1="363.21" x2="430.22" y2="367.02" stroke="#2b2b2b" stroke-width="0.7" stroke-linecap="round"/>
<text x="432.6" y="365.6" font-size="5.6" text-anchor="middle" fill="#3f51b5">N</text>
<text x="432.6" y="359.6" font-size="5.6" text-anchor="middle" fill="#3f51b5">H</text>
<line x1="435.31" y1="364.88" x2="440.66" y2="367.39" stroke="#3f51b5" stroke-width="1.05" stroke-linecap="round"/>
<line x1="440.66" y1="367.39" x2="446.00" y2="369.90" stroke="#2b2b2b" stroke-width="1.05" stroke-linecap="round"/>
<line x1="446.00" y1="369.90" x2="451.08" y2="366.99" stroke="#2b2b2b" stroke-width="1.05" stroke-linecap="round"/>
<line x1="451.08" y1="366.99" x2="456.17" y2="364.09" stroke="#3f51b5" stroke-width="1.05" stroke-linecap="round"/>
<line x1="461.05" y1="364.06" x2="466.32" y2="366.98" stroke="#3f51b5" stroke-width="1.05" stroke-linecap="round"/>
<line x1="466.32" y1="366.98" x2="471.60" y2="369.90" stroke="#2b2b2b" stroke-width="1.05" stroke-linecap="round"/>
<line x1="461.63" y1="367.24" x2="465.11" y2="369.17" stroke="#3f51b5" stroke-width="1.05" stroke-linecap="round"/>
<line x1="465.11" y1="369.17" x2="468.60" y2="371.09" stroke="#2b2b2b" stroke-width="1.05" stroke-linecap="round"/>
<line x1="471.60" y1="369.90" x2="471.60" y2="376.15" stroke="#2b2b2b" stroke-width="1.05" stroke-linecap="round"/>
<line x1="471.60" y1="376.15" x2="471.60" y2="382.40" stroke="#3f51b5" stroke-width="1.05" stroke-linecap="round"/>
<line x1="469.17" y1="386.59" x2="464.08" y2="389.49" stroke="#3f51b5" stroke-width="1.05" stroke-linecap="round"/>
<line x1="464.08" y1="389.49" x2="459.00" y2="392.40" stroke="#2b2b2b" stroke-width="1.05" stroke-linecap="round"/>
<line x1="466.20" y1="385.41" x2="462.84" y2="387.32" stroke="#3f51b5" stroke-width="1.05" stroke-linecap="round"/>
<line x1="462.84" y1="387.32" x2="459.49" y2="389.24" stroke="#2b2b2b" stroke-width="1.05" stroke-linecap="round"/>
<line x1="459.00" y1="392.40" x2="453.72" y2="389.48" stroke="#2b2b2b" stroke-width="1.05" stroke-linecap="round"/>
<line x1="453.72" y1="389.48" x2="448.45" y2="386.56" stroke="#3f51b5" stroke-width="1.05" stroke-linecap="round"/>
<line x1="446.00" y1="382.40" x2="446.00" y2="376.15" stroke="#3f51b5" stroke-width="1.05" stroke-linecap="round"/>
<line x1="446.00" y1="376.15" x2="446.00" y2="369.90" stroke="#2b2b2b" stroke-width="1.05" stroke-linecap="round"/>
<line x1="448.50" y1="380.27" x2="448.50" y2="376.15" stroke="#3f51b5" stroke-width="1.05" stroke-linecap="round"/>
<line x1="448.50" y1="376.15" x2="448.50" y2="372.02" stroke="#2b2b2b" stroke-width="1.05" stroke-linecap="round"/>
<text x="458.6" y="364.7" font-size="5.6" text-anchor="middle" fill="#3f51b5">N</text>
<text x="471.6" y="387.2" font-size="5.6" text-anchor="middle" fill="#3f51b5">N</text>
<text x="446.0" y="387.2" font-size="5.6" text-anchor="middle" fill="#3f51b5">N</text>
<line x1="471.60" y1="369.90" x2="484.80" y2="362.20" stroke="#2b2b2b" stroke-width="1.05" stroke-linecap="round"/>
<line x1="498.00" y1="338.80" x2="484.80" y2="346.20" stroke="#2b2b2b" stroke-width="1.05" stroke-linecap="round"/>
<line x1="484.80" y1="346.20" x2="484.80" y2="362.20" stroke="#2b2b2b" stroke-width="1.05" stroke-linecap="round"/>
<line x1="487.30" y1="348.92" x2="487.30" y2="359.48" stroke="#2b2b2b" stroke-width="1.05" stroke-linecap="round"/>
<line x1="484.80" y1="362.20" x2="498.00" y2="369.50" stroke="#2b2b2b" stroke-width="1.05" stroke-linecap="round"/>
<line x1="498.00" y1="369.50" x2="511.10" y2="362.20" stroke="#2b2b2b" stroke-width="1.05" stroke-linecap="round"/>
<line x1="499.01" y1="366.08" x2="507.66" y2="361.26" stroke="#2b2b2b" stroke-width="1.05" stroke-linecap="round"/>
<line x1="511.10" y1="362.20" x2="511.10" y2="346.20" stroke="#2b2b2b" stroke-width="1.05" stroke-linecap="round"/>
<line x1="511.10" y1="346.20" x2="498.00" y2="338.80" stroke="#2b2b2b" stroke-width="1.05" stroke-linecap="round"/>
<line x1="507.64" y1="347.12" x2="499.00" y2="342.23" stroke="#2b2b2b" stroke-width="1.05" stroke-linecap="round"/>
<line x1="498.00" y1="338.80" x2="497.92" y2="333.00" stroke="#2b2b2b" stroke-width="1.05" stroke-linecap="round"/>
<line x1="497.92" y1="333.00" x2="497.84" y2="327.20" stroke="#b39562" stroke-width="1.05" stroke-linecap="round"/>
<text x="497.8" y="326.4" font-size="5.6" text-anchor="middle" fill="#b39562">F</text>
<line x1="511.10" y1="346.20" x2="524.20" y2="338.20" stroke="#2b2b2b" stroke-width="1.05" stroke-linecap="round"/>
<line x1="524.20" y1="338.20" x2="524.20" y2="323.60" stroke="#2b2b2b" stroke-width="1.05" stroke-linecap="round"/>
<line x1="524.20" y1="323.60" x2="519.12" y2="321.46" stroke="#2b2b2b" stroke-width="1.05" stroke-linecap="round"/>
<line x1="519.12" y1="321.46" x2="514.03" y2="319.33" stroke="#3f51b5" stroke-width="1.05" stroke-linecap="round"/>
<text x="508.5" y="319.0" font-size="5.6" text-anchor="middle" fill="#3f51b5">H<tspan font-size="3.8" dy="1">3</tspan><tspan dy="-1">N</tspan><tspan font-size="4.6" dy="-2.4">+</tspan></text>
<line x1="524.20" y1="323.60" x2="536.60" y2="316.80" stroke="#2b2b2b" stroke-width="1.05" stroke-linecap="round"/>
<line x1="536.60" y1="316.80" x2="536.60" y2="310.70" stroke="#2b2b2b" stroke-width="1.05" stroke-linecap="round"/>
<line x1="536.60" y1="310.70" x2="536.60" y2="304.60" stroke="#333" stroke-width="1.05" stroke-linecap="round"/>
<text x="539.5" y="303.0" font-size="5.6" text-anchor="middle" fill="#333">CH<tspan font-size="3.8" dy="1">3</tspan></text>
<line x1="402.20" y1="519.50" x2="413.00" y2="509.20" stroke="#2b2b2b" stroke-width="1.05" stroke-linecap="round"/>
<line x1="413.00" y1="509.20" x2="426.20" y2="513.90" stroke="#2b2b2b" stroke-width="1.05" stroke-linecap="round"/>
<line x1="426.20" y1="513.90" x2="424.60" y2="530.00" stroke="#2b2b2b" stroke-width="1.05" stroke-linecap="round"/>
<line x1="424.60" y1="530.00" x2="410.10" y2="532.40" stroke="#2b2b2b" stroke-width="1.05" stroke-linecap="round"/>
<line x1="410.10" y1="532.40" x2="402.20" y2="519.50" stroke="#2b2b2b" stroke-width="1.05" stroke-linecap="round"/>
<line x1="400.48" y1="520.15" x2="400.50" y2="518.79" stroke="#3f51b5" stroke-width="0.7" stroke-linecap="round"/>
<line x1="398.76" y1="520.41" x2="398.80" y2="518.47" stroke="#3f51b5" stroke-width="0.7" stroke-linecap="round"/>
<line x1="397.05" y1="520.66" x2="397.09" y2="518.16" stroke="#3f51b5" stroke-width="0.7" stroke-linecap="round"/>
<line x1="395.33" y1="520.91" x2="395.39" y2="517.84" stroke="#3f51b5" stroke-width="0.7" stroke-linecap="round"/>
<line x1="393.62" y1="521.16" x2="393.68" y2="517.53" stroke="#3f51b5" stroke-width="0.7" stroke-linecap="round"/>
<line x1="391.90" y1="521.42" x2="391.98" y2="517.22" stroke="#3f51b5" stroke-width="0.7" stroke-linecap="round"/>
<text x="385.4" y="521.2" font-size="5.6" text-anchor="middle" fill="#3f51b5">H<tspan font-size="3.8" dy="1">3</tspan><tspan dy="-1">N</tspan><tspan font-size="4.6" dy="-2.4">+</tspan></text>
<line x1="427.64" y1="512.48" x2="428.21" y2="513.72" stroke="#2b2b2b" stroke-width="0.7" stroke-linecap="round"/>
<line x1="429.24" y1="511.43" x2="430.05" y2="513.18" stroke="#2b2b2b" stroke-width="0.7" stroke-linecap="round"/>
<line x1="430.84" y1="510.37" x2="431.89" y2="512.64" stroke="#2b2b2b" stroke-width="0.7" stroke-linecap="round"/>
<line x1="432.44" y1="509.32" x2="433.73" y2="512.10" stroke="#2b2b2b" stroke-width="0.7" stroke-linecap="round"/>
<line x1="434.05" y1="508.26" x2="435.58" y2="511.56" stroke="#2b2b2b" stroke-width="0.7" stroke-linecap="round"/>
<line x1="435.65" y1="507.21" x2="437.42" y2="511.02" stroke="#2b2b2b" stroke-width="0.7" stroke-linecap="round"/>
<text x="439.8" y="509.6" font-size="5.6" text-anchor="middle" fill="#3f51b5">N</text>
<text x="439.8" y="503.6" font-size="5.6" text-anchor="middle" fill="#3f51b5">H</text>
<line x1="442.51" y1="508.88" x2="447.86" y2="511.39" stroke="#3f51b5" stroke-width="1.05" stroke-linecap="round"/>
<line x1="447.86" y1="511.39" x2="453.20" y2="513.90" stroke="#2b2b2b" stroke-width="1.05" stroke-linecap="round"/>
<line x1="453.20" y1="513.90" x2="458.28" y2="510.99" stroke="#2b2b2b" stroke-width="1.05" stroke-linecap="round"/>
<line x1="458.28" y1="510.99" x2="463.37" y2="508.09" stroke="#3f51b5" stroke-width="1.05" stroke-linecap="round"/>
<line x1="468.25" y1="508.06" x2="473.52" y2="510.98" stroke="#3f51b5" stroke-width="1.05" stroke-linecap="round"/>
<line x1="473.52" y1="510.98" x2="478.80" y2="513.90" stroke="#2b2b2b" stroke-width="1.05" stroke-linecap="round"/>
<line x1="468.83" y1="511.24" x2="472.31" y2="513.17" stroke="#3f51b5" stroke-width="1.05" stroke-linecap="round"/>
<line x1="472.31" y1="513.17" x2="475.80" y2="515.09" stroke="#2b2b2b" stroke-width="1.05" stroke-linecap="round"/>
<line x1="478.80" y1="513.90" x2="478.80" y2="520.15" stroke="#2b2b2b" stroke-width="1.05" stroke-linecap="round"/>
<line x1="478.80" y1="520.15" x2="478.80" y2="526.40" stroke="#3f51b5" stroke-width="1.05" stroke-linecap="round"/>
<line x1="476.37" y1="530.59" x2="471.28" y2="533.49" stroke="#3f51b5" stroke-width="1.05" stroke-linecap="round"/>
<line x1="471.28" y1="533.49" x2="466.20" y2="536.40" stroke="#2b2b2b" stroke-width="1.05" stroke-linecap="round"/>
<line x1="473.40" y1="529.41" x2="470.04" y2="531.32" stroke="#3f51b5" stroke-width="1.05" stroke-linecap="round"/>
<line x1="470.04" y1="531.32" x2="466.69" y2="533.24" stroke="#2b2b2b" stroke-width="1.05" stroke-linecap="round"/>
<line x1="466.20" y1="536.40" x2="460.92" y2="533.48" stroke="#2b2b2b" stroke-width="1.05" stroke-linecap="round"/>
<line x1="460.92" y1="533.48" x2="455.65" y2="530.56" stroke="#3f51b5" stroke-width="1.05" stroke-linecap="round"/>
<line x1="453.20" y1="526.40" x2="453.20" y2="520.15" stroke="#3f51b5" stroke-width="1.05" stroke-linecap="round"/>
<line x1="453.20" y1="520.15" x2="453.20" y2="513.90" stroke="#2b2b2b" stroke-width="1.05" stroke-linecap="round"/>
<line x1="455.70" y1="524.28" x2="455.70" y2="520.15" stroke="#3f51b5" stroke-width="1.05" stroke-linecap="round"/>
<line x1="455.70" y1="520.15" x2="455.70" y2="516.02" stroke="#2b2b2b" stroke-width="1.05" stroke-linecap="round"/>
<text x="465.8" y="508.7" font-size="5.6" text-anchor="middle" fill="#3f51b5">N</text>
<text x="478.8" y="531.2" font-size="5.6" text-anchor="middle" fill="#3f51b5">N</text>
<text x="453.2" y="531.2" font-size="5.6" text-anchor="middle" fill="#3f51b5">N</text>
<line x1="478.80" y1="513.90" x2="492.00" y2="506.20" stroke="#2b2b2b" stroke-width="1.05" stroke-linecap="round"/>
<line x1="505.20" y1="482.80" x2="492.00" y2="490.20" stroke="#2b2b2b" stroke-width="1.05" stroke-linecap="round"/>
<line x1="492.00" y1="490.20" x2="492.00" y2="506.20" stroke="#2b2b2b" stroke-width="1.05" stroke-linecap="round"/>
<line x1="494.50" y1="492.92" x2="494.50" y2="503.48" stroke="#2b2b2b" stroke-width="1.05" stroke-linecap="round"/>
<line x1="492.00" y1="506.20" x2="505.20" y2="513.50" stroke="#2b2b2b" stroke-width="1.05" stroke-linecap="round"/>
<line x1="505.20" y1="513.50" x2="518.30" y2="506.20" stroke="#2b2b2b" stroke-width="1.05" stroke-linecap="round"/>
<line x1="506.21" y1="510.08" x2="514.86" y2="505.26" stroke="#2b2b2b" stroke-width="1.05" stroke-linecap="round"/>
<line x1="518.30" y1="506.20" x2="518.30" y2="490.20" stroke="#2b2b2b" stroke-width="1.05" stroke-linecap="round"/>
<line x1="518.30" y1="490.20" x2="505.20" y2="482.80" stroke="#2b2b2b" stroke-width="1.05" stroke-linecap="round"/>
<line x1="514.84" y1="491.12" x2="506.20" y2="486.23" stroke="#2b2b2b" stroke-width="1.05" stroke-linecap="round"/>
<line x1="505.20" y1="482.80" x2="505.12" y2="477.00" stroke="#2b2b2b" stroke-width="1.05" stroke-linecap="round"/>
<line x1="505.12" y1="477.00" x2="505.04" y2="471.20" stroke="#b39562" stroke-width="1.05" stroke-linecap="round"/>
<text x="505.0" y="470.4" font-size="5.6" text-anchor="middle" fill="#b39562">F</text>
<line x1="518.30" y1="490.20" x2="531.40" y2="482.20" stroke="#2b2b2b" stroke-width="1.05" stroke-linecap="round"/>
<line x1="531.40" y1="482.20" x2="531.40" y2="467.60" stroke="#2b2b2b" stroke-width="1.05" stroke-linecap="round"/>
<line x1="531.40" y1="467.60" x2="526.32" y2="465.46" stroke="#2b2b2b" stroke-width="1.05" stroke-linecap="round"/>
<line x1="526.32" y1="465.46" x2="521.23" y2="463.33" stroke="#3f51b5" stroke-width="1.05" stroke-linecap="round"/>
<text x="515.7" y="463.0" font-size="5.6" text-anchor="middle" fill="#3f51b5">H<tspan font-size="3.8" dy="1">3</tspan><tspan dy="-1">N</tspan><tspan font-size="4.6" dy="-2.4">+</tspan></text>
<line x1="531.40" y1="467.60" x2="543.80" y2="460.80" stroke="#2b2b2b" stroke-width="1.05" stroke-linecap="round"/>
<line x1="543.80" y1="460.80" x2="543.80" y2="454.70" stroke="#2b2b2b" stroke-width="1.05" stroke-linecap="round"/>
<line x1="543.80" y1="454.70" x2="543.80" y2="448.60" stroke="#333" stroke-width="1.05" stroke-linecap="round"/>
<text x="546.7" y="447.0" font-size="5.6" text-anchor="middle" fill="#333">CH<tspan font-size="3.8" dy="1">3</tspan></text>
<text x="664.6" y="342.8" font-size="5.6" text-anchor="middle" fill="#333">CH<tspan font-size="3.8" dy="1">3</tspan></text>
<line x1="662.30" y1="344.80" x2="662.30" y2="350.35" stroke="#333" stroke-width="1.05" stroke-linecap="round"/>
<line x1="662.30" y1="350.35" x2="662.30" y2="355.90" stroke="#2b2b2b" stroke-width="1.05" stroke-linecap="round"/>
<line x1="662.30" y1="355.90" x2="648.20" y2="363.70" stroke="#2b2b2b" stroke-width="1.05" stroke-linecap="round"/>
<line x1="648.20" y1="363.70" x2="645.08" y2="358.93" stroke="#2b2b2b" stroke-width="1.05" stroke-linecap="round"/>
<line x1="645.08" y1="358.93" x2="641.96" y2="354.17" stroke="#333" stroke-width="1.05" stroke-linecap="round"/>
<text x="637.2" y="352.4" font-size="5.6" text-anchor="middle" fill="#333">H<tspan font-size="3.8" dy="1">3</tspan><tspan dy="-1">C</tspan></text>
<line x1="648.20" y1="363.70" x2="651.38" y2="369.40" stroke="#2b2b2b" stroke-width="1.05" stroke-linecap="round"/>
<line x1="651.38" y1="369.40" x2="654.55" y2="375.11" stroke="#333" stroke-width="1.05" stroke-linecap="round"/>
<text x="658.4" y="380.6" font-size="5.6" text-anchor="middle" fill="#333">CH<tspan font-size="3.8" dy="1">3</tspan></text>
<line x1="648.20" y1="363.70" x2="634.90" y2="371.50" stroke="#2b2b2b" stroke-width="1.05" stroke-linecap="round"/>
<line x1="634.90" y1="371.50" x2="634.10" y2="388.00" stroke="#2b2b2b" stroke-width="1.05" stroke-linecap="round"/>
<line x1="634.68" y1="386.95" x2="640.42" y2="390.12" stroke="#2b2b2b" stroke-width="1.05" stroke-linecap="round"/>
<line x1="640.42" y1="390.12" x2="646.16" y2="393.30" stroke="#e8302c" stroke-width="1.05" stroke-linecap="round"/>
<line x1="633.52" y1="389.05" x2="639.26" y2="392.22" stroke="#2b2b2b" stroke-width="1.05" stroke-linecap="round"/>
<line x1="639.26" y1="392.22" x2="644.99" y2="395.40" stroke="#e8302c" stroke-width="1.05" stroke-linecap="round"/>
<text x="648.2" y="397.8" font-size="5.6" text-anchor="middle" fill="#e8302c">O</text>
<line x1="634.10" y1="388.00" x2="628.91" y2="391.33" stroke="#2b2b2b" stroke-width="1.05" stroke-linecap="round"/>
<line x1="628.91" y1="391.33" x2="623.73" y2="394.66" stroke="#3f51b5" stroke-width="1.05" stroke-linecap="round"/>
<text x="620.7" y="398.6" font-size="5.6" text-anchor="middle" fill="#3f51b5">HN</text>
<line x1="620.70" y1="400.20" x2="620.70" y2="406.25" stroke="#3f51b5" stroke-width="1.05" stroke-linecap="round"/>
<line x1="620.70" y1="406.25" x2="620.70" y2="412.30" stroke="#2b2b2b" stroke-width="1.05" stroke-linecap="round"/>
<line x1="620.70" y1="412.30" x2="625.80" y2="416.10" stroke="#2b2b2b" stroke-width="1.05" stroke-linecap="round"/>
<line x1="625.80" y1="416.10" x2="630.90" y2="419.91" stroke="#3f51b5" stroke-width="1.05" stroke-linecap="round"/>
<line x1="620.94" y1="415.60" x2="624.30" y2="418.11" stroke="#2b2b2b" stroke-width="1.05" stroke-linecap="round"/>
<line x1="624.30" y1="418.11" x2="627.67" y2="420.62" stroke="#3f51b5" stroke-width="1.05" stroke-linecap="round"/>
<line x1="632.67" y1="424.63" x2="630.73" y2="433.67" stroke="#3f51b5" stroke-width="1.05" stroke-linecap="round"/>
<line x1="627.10" y1="436.62" x2="620.80" y2="436.66" stroke="#3f51b5" stroke-width="1.05" stroke-linecap="round"/>
<line x1="620.80" y1="436.66" x2="614.50" y2="436.70" stroke="#2b2b2b" stroke-width="1.05" stroke-linecap="round"/>
<line x1="614.50" y1="436.70" x2="611.59" y2="430.56" stroke="#2b2b2b" stroke-width="1.05" stroke-linecap="round"/>
<line x1="611.59" y1="430.56" x2="608.68" y2="424.41" stroke="#3f51b5" stroke-width="1.05" stroke-linecap="round"/>
<line x1="615.77" y1="433.54" x2="613.85" y2="429.49" stroke="#2b2b2b" stroke-width="1.05" stroke-linecap="round"/>
<line x1="613.85" y1="429.49" x2="611.93" y2="425.43" stroke="#3f51b5" stroke-width="1.05" stroke-linecap="round"/>
<line x1="609.85" y1="419.97" x2="615.27" y2="416.13" stroke="#3f51b5" stroke-width="1.05" stroke-linecap="round"/>
<line x1="615.27" y1="416.13" x2="620.70" y2="412.30" stroke="#2b2b2b" stroke-width="1.05" stroke-linecap="round"/>
<text x="633.3" y="423.7" font-size="5.6" text-anchor="middle" fill="#3f51b5">N</text>
<text x="607.4" y="423.7" font-size="5.6" text-anchor="middle" fill="#3f51b5">N</text>
<text x="632.0" y="438.7" font-size="5.6" text-anchor="middle" fill="#3f51b5">NH</text>
<line x1="614.50" y1="436.70" x2="609.43" y2="442.09" stroke="#2b2b2b" stroke-width="1.05" stroke-linecap="round"/>
<line x1="609.43" y1="442.09" x2="604.37" y2="447.48" stroke="#3f51b5" stroke-width="1.05" stroke-linecap="round"/>
<text x="601.9" y="452.1" font-size="5.6" text-anchor="middle" fill="#3f51b5">HN</text>
<line x1="603.49" y1="453.33" x2="606.45" y2="459.31" stroke="#3f51b5" stroke-width="1.05" stroke-linecap="round"/>
<line x1="606.45" y1="459.31" x2="609.40" y2="465.30" stroke="#2b2b2b" stroke-width="1.05" stroke-linecap="round"/>
<line x1="609.40" y1="465.30" x2="624.60" y2="466.10" stroke="#2b2b2b" stroke-width="1.05" stroke-linecap="round"/>
<line x1="611.85" y1="467.93" x2="621.88" y2="468.46" stroke="#2b2b2b" stroke-width="1.05" stroke-linecap="round"/>
<line x1="624.60" y1="466.10" x2="631.30" y2="480.40" stroke="#2b2b2b" stroke-width="1.05" stroke-linecap="round"/>
<line x1="631.30" y1="480.40" x2="622.90" y2="493.80" stroke="#2b2b2b" stroke-width="1.05" stroke-linecap="round"/>
<line x1="627.75" y1="481.35" x2="622.21" y2="490.19" stroke="#2b2b2b" stroke-width="1.05" stroke-linecap="round"/>
<line x1="622.90" y1="493.80" x2="606.10" y2="493.00" stroke="#2b2b2b" stroke-width="1.05" stroke-linecap="round"/>
<line x1="606.10" y1="493.00" x2="600.20" y2="477.80" stroke="#2b2b2b" stroke-width="1.05" stroke-linecap="round"/>
<line x1="607.43" y1="489.51" x2="603.53" y2="479.48" stroke="#2b2b2b" stroke-width="1.05" stroke-linecap="round"/>
<line x1="600.20" y1="477.80" x2="609.40" y2="465.30" stroke="#2b2b2b" stroke-width="1.05" stroke-linecap="round"/>
<line x1="606.10" y1="493.00" x2="596.90" y2="505.50" stroke="#2b2b2b" stroke-width="1.05" stroke-linecap="round"/>
<line x1="596.90" y1="505.50" x2="591.28" y2="504.68" stroke="#2b2b2b" stroke-width="1.05" stroke-linecap="round"/>
<line x1="591.28" y1="504.68" x2="585.67" y2="503.86" stroke="#e8302c" stroke-width="1.05" stroke-linecap="round"/>
<text x="581.8" y="505.4" font-size="5.6" text-anchor="middle" fill="#e8302c">O<tspan font-size="4.6" dy="-2.4">-</tspan></text>
<line x1="597.99" y1="504.99" x2="600.66" y2="510.69" stroke="#2b2b2b" stroke-width="1.05" stroke-linecap="round"/>
<line x1="600.66" y1="510.69" x2="603.33" y2="516.39" stroke="#e8302c" stroke-width="1.05" stroke-linecap="round"/>
<line x1="595.81" y1="506.01" x2="598.48" y2="511.71" stroke="#2b2b2b" stroke-width="1.05" stroke-linecap="round"/>
<line x1="598.48" y1="511.71" x2="601.16" y2="517.41" stroke="#e8302c" stroke-width="1.05" stroke-linecap="round"/>
<text x="603.6" y="521.8" font-size="5.6" text-anchor="middle" fill="#e8302c">O</text>
<line x1="28.00" y1="484.00" x2="37.40" y2="473.60" stroke="#2b2b2b" stroke-width="1.05" stroke-linecap="round"/>
<line x1="31.45" y1="483.91" x2="37.66" y2="477.04" stroke="#2b2b2b" stroke-width="1.05" stroke-linecap="round"/>
<line x1="37.40" y1="473.60" x2="51.60" y2="475.60" stroke="#2b2b2b" stroke-width="1.05" stroke-linecap="round"/>
<line x1="51.60" y1="475.60" x2="56.90" y2="490.00" stroke="#2b2b2b" stroke-width="1.05" stroke-linecap="round"/>
<line x1="50.15" y1="478.91" x2="53.65" y2="488.42" stroke="#2b2b2b" stroke-width="1.05" stroke-linecap="round"/>
<line x1="56.90" y1="490.00" x2="47.20" y2="500.20" stroke="#2b2b2b" stroke-width="1.05" stroke-linecap="round"/>
<line x1="47.20" y1="500.20" x2="32.80" y2="497.80" stroke="#2b2b2b" stroke-width="1.05" stroke-linecap="round"/>
<line x1="45.16" y1="497.33" x2="35.66" y2="495.74" stroke="#2b2b2b" stroke-width="1.05" stroke-linecap="round"/>
<line x1="32.80" y1="497.80" x2="28.00" y2="484.00" stroke="#2b2b2b" stroke-width="1.05" stroke-linecap="round"/>
<line x1="28.00" y1="484.00" x2="22.18" y2="483.11" stroke="#2b2b2b" stroke-width="1.05" stroke-linecap="round"/>
<line x1="22.18" y1="483.11" x2="16.37" y2="482.22" stroke="#b39562" stroke-width="1.05" stroke-linecap="round"/>
<text x="13.6" y="483.8" font-size="5.6" text-anchor="middle" fill="#b39562">F</text>
<line x1="56.90" y1="490.00" x2="69.40" y2="495.20" stroke="#2b2b2b" stroke-width="1.05" stroke-linecap="round"/>
<line x1="69.40" y1="495.20" x2="68.92" y2="501.00" stroke="#2b2b2b" stroke-width="1.05" stroke-linecap="round"/>
<line x1="68.92" y1="501.00" x2="68.43" y2="506.81" stroke="#3f51b5" stroke-width="1.05" stroke-linecap="round"/>
<line x1="66.74" y1="496.97" x2="66.42" y2="500.80" stroke="#2b2b2b" stroke-width="1.05" stroke-linecap="round"/>
<line x1="66.42" y1="500.80" x2="66.11" y2="504.63" stroke="#3f51b5" stroke-width="1.05" stroke-linecap="round"/>
<line x1="65.47" y1="510.21" x2="56.32" y2="512.26" stroke="#3f51b5" stroke-width="1.05" stroke-linecap="round"/>
<line x1="51.60" y1="509.90" x2="49.40" y2="505.05" stroke="#3f51b5" stroke-width="1.05" stroke-linecap="round"/>
<line x1="49.40" y1="505.05" x2="47.20" y2="500.20" stroke="#2b2b2b" stroke-width="1.05" stroke-linecap="round"/>
<text x="68.2" y="511.6" font-size="5.6" text-anchor="middle" fill="#3f51b5">N</text>
<text x="52.5" y="515.0" font-size="5.6" text-anchor="middle" fill="#3f51b5">HN</text>
<line x1="69.40" y1="495.20" x2="74.10" y2="492.33" stroke="#2b2b2b" stroke-width="1.05" stroke-linecap="round"/>
<line x1="74.10" y1="492.33" x2="78.81" y2="489.46" stroke="#3f51b5" stroke-width="1.05" stroke-linecap="round"/>
<text x="81.2" y="490.0" font-size="5.6" text-anchor="middle" fill="#3f51b5">N</text>
<text x="81.2" y="484.1" font-size="5.6" text-anchor="middle" fill="#3f51b5">H</text>
<line x1="83.73" y1="489.21" x2="89.16" y2="491.80" stroke="#3f51b5" stroke-width="1.05" stroke-linecap="round"/>
<line x1="89.16" y1="491.80" x2="94.60" y2="494.40" stroke="#2b2b2b" stroke-width="1.05" stroke-linecap="round"/>
<line x1="94.60" y1="494.40" x2="99.38" y2="491.69" stroke="#2b2b2b" stroke-width="1.05" stroke-linecap="round"/>
<line x1="99.38" y1="491.69" x2="104.16" y2="488.98" stroke="#3f51b5" stroke-width="1.05" stroke-linecap="round"/>
<line x1="109.08" y1="488.91" x2="114.29" y2="491.65" stroke="#3f51b5" stroke-width="1.05" stroke-linecap="round"/>
<line x1="114.29" y1="491.65" x2="119.50" y2="494.40" stroke="#2b2b2b" stroke-width="1.05" stroke-linecap="round"/>
<line x1="109.68" y1="492.05" x2="113.12" y2="493.86" stroke="#3f51b5" stroke-width="1.05" stroke-linecap="round"/>
<line x1="113.12" y1="493.86" x2="116.56" y2="495.68" stroke="#2b2b2b" stroke-width="1.05" stroke-linecap="round"/>
<line x1="119.50" y1="494.40" x2="119.50" y2="509.00" stroke="#2b2b2b" stroke-width="1.05" stroke-linecap="round"/>
<line x1="119.50" y1="509.00" x2="106.60" y2="516.20" stroke="#2b2b2b" stroke-width="1.05" stroke-linecap="round"/>
<line x1="116.09" y1="508.04" x2="107.57" y2="512.79" stroke="#2b2b2b" stroke-width="1.05" stroke-linecap="round"/>
<line x1="106.60" y1="516.20" x2="94.60" y2="509.00" stroke="#2b2b2b" stroke-width="1.05" stroke-linecap="round"/>
<line x1="94.60" y1="509.00" x2="94.60" y2="494.40" stroke="#2b2b2b" stroke-width="1.05" stroke-linecap="round"/>
<line x1="97.10" y1="506.52" x2="97.10" y2="496.88" stroke="#2b2b2b" stroke-width="1.05" stroke-linecap="round"/>
<text x="106.6" y="489.6" font-size="5.6" text-anchor="middle" fill="#3f51b5">N</text>
<line x1="119.50" y1="494.40" x2="124.76" y2="491.77" stroke="#2b2b2b" stroke-width="1.05" stroke-linecap="round"/>
<line x1="124.76" y1="491.77" x2="130.02" y2="489.14" stroke="#e8302c" stroke-width="1.05" stroke-linecap="round"/>
<text x="132.7" y="489.8" font-size="5.6" text-anchor="middle" fill="#e8302c">O</text>
<line x1="135.32" y1="489.26" x2="139.96" y2="491.83" stroke="#e8302c" stroke-width="1.05" stroke-linecap="round"/>
<line x1="139.96" y1="491.83" x2="144.60" y2="494.40" stroke="#2b2b2b" stroke-width="1.05" stroke-linecap="round"/>
<line x1="144.60" y1="494.40" x2="157.60" y2="487.00" stroke="#2b2b2b" stroke-width="1.05" stroke-linecap="round"/>
<line x1="157.60" y1="487.00" x2="161.62" y2="489.58" stroke="#2b2b2b" stroke-width="1.05" stroke-linecap="round"/>
<line x1="161.62" y1="489.58" x2="165.64" y2="492.16" stroke="#333" stroke-width="1.05" stroke-linecap="round"/>
<text x="167.8" y="496.4" font-size="5.6" fill="#333">CH<tspan font-size="3.8" dy="1">3</tspan></text>
<text x="287.8" y="449.9" font-size="5.6" text-anchor="middle" fill="#333">R</text>
<line x1="287.80" y1="450.90" x2="287.80" y2="456.70" stroke="#333" stroke-width="1.05" stroke-linecap="round"/>
<line x1="287.80" y1="456.70" x2="287.80" y2="462.50" stroke="#3f51b5" stroke-width="1.05" stroke-linecap="round"/>
<line x1="290.24" y1="466.68" x2="298.76" y2="471.52" stroke="#3f51b5" stroke-width="1.05" stroke-linecap="round"/>
<line x1="300.70" y1="475.66" x2="299.60" y2="481.78" stroke="#3f51b5" stroke-width="1.05" stroke-linecap="round"/>
<line x1="299.60" y1="481.78" x2="298.50" y2="487.90" stroke="#2b2b2b" stroke-width="1.05" stroke-linecap="round"/>
<line x1="297.87" y1="477.29" x2="297.14" y2="481.33" stroke="#3f51b5" stroke-width="1.05" stroke-linecap="round"/>
<line x1="297.14" y1="481.33" x2="296.41" y2="485.38" stroke="#2b2b2b" stroke-width="1.05" stroke-linecap="round"/>
<line x1="298.50" y1="487.90" x2="283.70" y2="489.60" stroke="#2b2b2b" stroke-width="1.05" stroke-linecap="round"/>
<line x1="283.70" y1="489.60" x2="277.50" y2="475.90" stroke="#2b2b2b" stroke-width="1.05" stroke-linecap="round"/>
<line x1="284.92" y1="486.24" x2="280.83" y2="477.20" stroke="#2b2b2b" stroke-width="1.05" stroke-linecap="round"/>
<line x1="277.50" y1="475.90" x2="281.67" y2="471.60" stroke="#2b2b2b" stroke-width="1.05" stroke-linecap="round"/>
<line x1="281.67" y1="471.60" x2="285.85" y2="467.31" stroke="#3f51b5" stroke-width="1.05" stroke-linecap="round"/>
<text x="287.8" y="467.3" font-size="5.6" text-anchor="middle" fill="#3f51b5">N</text>
<text x="301.2" y="474.9" font-size="5.6" text-anchor="middle" fill="#3f51b5">N</text>
<line x1="298.50" y1="487.90" x2="309.70" y2="498.90" stroke="#2b2b2b" stroke-width="1.05" stroke-linecap="round"/>
<line x1="309.70" y1="498.90" x2="324.80" y2="494.80" stroke="#2b2b2b" stroke-width="1.05" stroke-linecap="round"/>
<line x1="312.92" y1="500.62" x2="322.89" y2="497.91" stroke="#2b2b2b" stroke-width="1.05" stroke-linecap="round"/>
<line x1="324.80" y1="494.80" x2="334.40" y2="507.10" stroke="#2b2b2b" stroke-width="1.05" stroke-linecap="round"/>
<line x1="334.40" y1="507.10" x2="330.30" y2="520.80" stroke="#2b2b2b" stroke-width="1.05" stroke-linecap="round"/>
<line x1="331.31" y1="508.71" x2="328.60" y2="517.75" stroke="#2b2b2b" stroke-width="1.05" stroke-linecap="round"/>
<line x1="330.30" y1="520.80" x2="315.90" y2="523.80" stroke="#2b2b2b" stroke-width="1.05" stroke-linecap="round"/>
<line x1="315.90" y1="523.80" x2="305.90" y2="511.20" stroke="#2b2b2b" stroke-width="1.05" stroke-linecap="round"/>
<line x1="316.16" y1="520.10" x2="309.56" y2="511.79" stroke="#2b2b2b" stroke-width="1.05" stroke-linecap="round"/>
<line x1="305.90" y1="511.20" x2="309.70" y2="498.90" stroke="#2b2b2b" stroke-width="1.05" stroke-linecap="round"/>
<line x1="330.30" y1="520.80" x2="341.00" y2="531.50" stroke="#2b2b2b" stroke-width="1.05" stroke-linecap="round"/>
<line x1="340.71" y1="530.34" x2="346.16" y2="528.97" stroke="#2b2b2b" stroke-width="1.05" stroke-linecap="round"/>
<line x1="346.16" y1="528.97" x2="351.60" y2="527.61" stroke="#e8302c" stroke-width="1.05" stroke-linecap="round"/>
<line x1="341.29" y1="532.66" x2="346.74" y2="531.30" stroke="#2b2b2b" stroke-width="1.05" stroke-linecap="round"/>
<line x1="346.74" y1="531.30" x2="352.19" y2="529.94" stroke="#e8302c" stroke-width="1.05" stroke-linecap="round"/>
<text x="355.2" y="530.0" font-size="5.6" text-anchor="middle" fill="#e8302c">O</text>
<line x1="341.00" y1="531.50" x2="339.91" y2="534.73" stroke="#2b2b2b" stroke-width="1.05" stroke-linecap="round"/>
<line x1="339.91" y1="534.73" x2="338.82" y2="537.97" stroke="#e8302c" stroke-width="1.05" stroke-linecap="round"/>
<text x="337.8" y="543.4" font-size="5.6" text-anchor="middle" fill="#e8302c">O<tspan font-size="4.6" dy="-2.4">-</tspan></text>
<line x1="283.70" y1="489.60" x2="281.54" y2="494.75" stroke="#2b2b2b" stroke-width="1.05" stroke-linecap="round"/>
<line x1="281.54" y1="494.75" x2="279.37" y2="499.90" stroke="#3f51b5" stroke-width="1.05" stroke-linecap="round"/>
<text x="277.9" y="505.4" font-size="5.6" text-anchor="middle" fill="#3f51b5">NH</text>
<line x1="274.10" y1="503.45" x2="267.95" y2="503.52" stroke="#3f51b5" stroke-width="1.05" stroke-linecap="round"/>
<line x1="267.95" y1="503.52" x2="261.80" y2="503.60" stroke="#2b2b2b" stroke-width="1.05" stroke-linecap="round"/>
<line x1="260.81" y1="504.27" x2="257.45" y2="499.31" stroke="#2b2b2b" stroke-width="1.05" stroke-linecap="round"/>
<line x1="257.45" y1="499.31" x2="254.09" y2="494.36" stroke="#e8302c" stroke-width="1.05" stroke-linecap="round"/>
<line x1="262.79" y1="502.93" x2="259.43" y2="497.97" stroke="#2b2b2b" stroke-width="1.05" stroke-linecap="round"/>
<line x1="259.43" y1="497.97" x2="256.08" y2="493.01" stroke="#e8302c" stroke-width="1.05" stroke-linecap="round"/>
<text x="253.4" y="493.2" font-size="5.6" text-anchor="middle" fill="#e8302c">O</text>
<line x1="261.80" y1="503.60" x2="254.70" y2="517.40" stroke="#2b2b2b" stroke-width="1.05" stroke-linecap="round"/>
<line x1="254.70" y1="517.40" x2="239.20" y2="517.80" stroke="#2b2b2b" stroke-width="1.05" stroke-linecap="round"/>
<line x1="239.20" y1="517.80" x2="239.20" y2="512.30" stroke="#2b2b2b" stroke-width="1.05" stroke-linecap="round"/>
<line x1="239.20" y1="512.30" x2="239.20" y2="506.80" stroke="#333" stroke-width="1.05" stroke-linecap="round"/>
<text x="241.1" y="505.4" font-size="5.6" text-anchor="middle" fill="#333">CH<tspan font-size="3.8" dy="1">3</tspan></text>
<line x1="239.20" y1="517.80" x2="239.20" y2="523.80" stroke="#2b2b2b" stroke-width="1.05" stroke-linecap="round"/>
<line x1="239.20" y1="523.80" x2="239.20" y2="529.80" stroke="#333" stroke-width="1.05" stroke-linecap="round"/>
<text x="241.8" y="535.2" font-size="5.6" text-anchor="middle" fill="#333">CH<tspan font-size="3.8" dy="1">3</tspan></text>
<line x1="239.20" y1="517.80" x2="224.10" y2="518.10" stroke="#2b2b2b" stroke-width="1.05" stroke-linecap="round"/>
<line x1="224.10" y1="518.10" x2="220.79" y2="513.05" stroke="#2b2b2b" stroke-width="1.05" stroke-linecap="round"/>
<line x1="220.79" y1="513.05" x2="217.48" y2="508.01" stroke="#333" stroke-width="1.05" stroke-linecap="round"/>
<text x="212.9" y="507.0" font-size="5.6" text-anchor="middle" fill="#333">H<tspan font-size="3.8" dy="1">3</tspan><tspan dy="-1">C</tspan></text>
<g class="tb">
<text x="54.3" y="428.7" font-size="10.6" fill="#231f20" textLength="49.1" lengthAdjust="spacingAndGlyphs">outer1_28</text>
<text x="210.5" y="423.4" font-size="10.6" fill="#231f20" textLength="79.7" lengthAdjust="spacingAndGlyphs">R = O: outer5_28</text>
<text x="210.5" y="436.9" font-size="10.6" fill="#231f20" textLength="91.5" lengthAdjust="spacingAndGlyphs">R = Cl: A-outer5_28</text>
<text x="437.2" y="429.0" font-size="10.6" fill="#231f20" textLength="66.4" lengthAdjust="spacingAndGlyphs">(R)-outer1_15</text>
<text x="58.8" y="564.0" font-size="10.6" fill="#231f20" textLength="58.7" lengthAdjust="spacingAndGlyphs">outer5_105</text>
<text x="208.7" y="562.9" font-size="10.6" fill="#231f20" textLength="85.1" lengthAdjust="spacingAndGlyphs">R = H: outer5_137</text>
<text x="208.7" y="576.0" font-size="10.6" fill="#231f20" textLength="149.4" lengthAdjust="spacingAndGlyphs">R = C<tspan font-size="7">5</tspan>H<tspan font-size="7">10</tspan>O (THP): A-outer5_137</text>
<text x="446.7" y="564.2" font-size="10.6" fill="#231f20" textLength="65.5" lengthAdjust="spacingAndGlyphs">(S)-outer1_15</text>
<text x="590.3" y="547.8" font-size="10.6" fill="#231f20" textLength="55.8" lengthAdjust="spacingAndGlyphs">outer5_193</text>
</g>
<text x="5.0" y="599.4" font-size="16.5" textLength="10.2" lengthAdjust="spacingAndGlyphs">D</text>
<line x1="64.5" y1="677.8" x2="247.5" y2="677.8" stroke="#666" stroke-width="0.8" stroke-dasharray="1.6 1.6"/>
<path d="M81.7 644.9 L86.2 644.9 L92.4 644.9 L99.9 644.9 L108.0 644.9 L116.3 644.8 L124.2 644.9 L131.2 644.9 L136.7 644.9 L140.7 645.0 L143.8 645.0 L146.2 645.1 L148.1 645.2 L149.7 645.3 L151.3 645.4 L152.9 645.5 L155.0 645.7 L157.3 645.9 L159.8 646.2 L162.3 646.4 L164.7 646.7 L167.1 647.0 L169.4 647.4 L171.5 647.8 L173.3 648.2 L174.9 648.6 L176.3 649.1 L177.4 649.6 L178.5 650.1 L179.5 650.7 L180.4 651.4 L181.4 652.2 L182.5 653.1 L183.6 654.2 L184.8 655.4 L185.9 656.8 L187.1 658.2 L188.2 659.7 L189.4 661.3 L190.5 662.9 L191.6 664.6 L192.8 666.4 L193.9 668.3 L195.1 670.2 L196.2 672.3 L197.4 674.3 L198.5 676.3 L199.7 678.3 L200.8 680.2 L202.0 682.1 L203.3 684.1 L204.7 686.2 L206.0 688.2 L207.2 690.0 L208.3 691.7 L209.3 693.1 L210.0 694.2" fill="none" stroke="#b5de8e" stroke-width="1.3"/>
<path d="M81.7 643.3 L86.2 643.3 L92.4 643.4 L99.9 643.5 L108.0 643.6 L116.3 643.7 L124.2 643.9 L131.2 644.0 L136.7 644.1 L140.7 644.2 L143.8 644.3 L146.2 644.3 L148.1 644.4 L149.7 644.5 L151.3 644.6 L152.9 644.7 L155.0 644.9 L157.3 645.1 L159.8 645.4 L162.3 645.6 L164.7 645.9 L167.1 646.3 L169.4 646.6 L171.5 647.0 L173.3 647.4 L174.9 647.8 L176.3 648.1 L177.4 648.5 L178.5 648.9 L179.5 649.3 L180.4 649.9 L181.4 650.6 L182.5 651.5 L183.6 652.5 L184.8 653.8 L185.9 655.1 L187.1 656.6 L188.2 658.1 L189.4 659.7 L190.5 661.3 L191.6 663.0 L192.8 664.7 L193.9 666.4 L195.1 668.3 L196.2 670.2 L197.4 672.1 L198.5 674.0 L199.7 675.9 L200.8 677.8 L202.0 679.7 L203.3 681.8 L204.7 683.9 L206.0 686.1 L207.2 688.1 L208.3 689.9 L209.3 691.4 L210.0 692.5" fill="none" stroke="#c2e4a0" stroke-width="1.3"/>
<path d="M81.7 640.8 L86.2 641.0 L92.4 641.2 L99.9 641.5 L108.0 641.8 L116.3 642.2 L124.2 642.5 L131.2 642.9 L136.7 643.3 L140.7 643.6 L143.8 644.0 L146.2 644.3 L148.1 644.7 L149.7 645.0 L151.3 645.5 L152.9 646.0 L155.0 646.6 L157.3 647.2 L159.8 647.9 L162.3 648.7 L164.7 649.5 L167.1 650.4 L169.4 651.3 L171.5 652.2 L173.3 653.1 L174.9 654.0 L176.3 654.9 L177.4 655.8 L178.5 656.7 L179.5 657.7 L180.4 658.8 L181.4 660.0 L182.5 661.3 L183.6 662.8 L184.8 664.4 L185.9 666.1 L187.1 667.9 L188.2 669.8 L189.4 671.8 L190.5 673.9 L191.6 676.1 L192.9 678.6 L194.2 681.5 L195.5 684.6 L196.8 687.7 L198.0 690.7 L199.2 693.5 L200.1 695.8 L200.8 697.5" fill="none" stroke="#a894d8" stroke-width="1.3"/>
<path d="M81.7 638.3 L86.2 638.3 L92.4 638.2 L99.9 638.1 L108.0 638.0 L116.3 637.9 L124.2 637.7 L131.2 637.6 L136.7 637.5 L140.7 637.4 L143.8 637.3 L146.2 637.2 L148.1 637.1 L149.7 636.9 L151.3 636.8 L152.9 636.8 L155.0 636.7 L157.3 636.6 L159.8 636.5 L162.3 636.5 L164.7 636.4 L167.1 636.4 L169.4 636.4 L171.5 636.5 L173.3 636.7 L174.9 637.0 L176.3 637.4 L177.4 637.8 L178.5 638.3 L179.5 638.9 L180.4 639.5 L181.4 640.1 L182.5 640.8 L183.6 641.5 L184.8 642.3 L185.9 643.1 L187.1 643.9 L188.2 644.8 L189.4 645.7 L190.5 646.5 L191.6 647.4 L192.8 648.2 L193.9 649.0 L195.1 649.8 L196.2 650.7 L197.4 651.5 L198.5 652.3 L199.7 653.1 L200.8 653.9 L202.0 654.8 L203.3 655.7 L204.7 656.7 L206.0 657.6 L207.2 658.5 L208.3 659.3 L209.3 660.0 L210.0 660.5" fill="none" stroke="#dda2d8" stroke-width="1.3"/>
<path d="M81.7 636.7 L86.0 636.7 L92.0 636.7 L99.1 636.7 L106.9 636.6 L115.0 636.6 L122.9 636.6 L130.3 636.7 L136.7 636.7 L142.3 636.7 L147.8 636.8 L153.0 636.8 L157.9 636.9 L162.4 637.0 L166.5 637.1 L170.2 637.3 L173.3 637.5 L175.8 637.7 L177.7 637.9 L179.0 638.0 L179.9 638.2 L180.6 638.5 L181.2 639.0 L181.7 639.7 L182.5 640.8 L183.3 642.1 L184.0 643.6 L184.5 645.3 L185.1 647.2 L185.6 649.3 L186.0 651.7 L186.5 654.3 L187.1 657.2 L187.6 660.5 L188.1 664.0 L188.6 667.9 L189.1 672.0 L189.6 676.2 L190.2 680.7 L190.9 685.3 L191.6 690.1 L192.6 695.3 L193.8 701.2 L195.2 707.5 L196.5 713.9 L197.8 720.0 L199.1 725.5 L200.1 730.1 L200.8 733.6" fill="none" stroke="#d99fdc" stroke-width="1.3"/>
<path d="M81.7 633.8 L86.2 634.1 L92.4 634.5 L99.9 635.0 L108.0 635.5 L116.3 636.0 L124.2 636.5 L131.2 637.1 L136.7 637.5 L140.7 637.9 L143.8 638.3 L146.2 638.6 L148.1 639.0 L149.7 639.4 L151.3 639.8 L152.9 640.2 L155.0 640.8 L157.3 641.5 L159.8 642.2 L162.3 643.0 L164.7 643.8 L167.1 644.7 L169.4 645.6 L171.5 646.5 L173.3 647.4 L174.9 648.2 L176.3 649.0 L177.4 649.8 L178.5 650.6 L179.5 651.4 L180.4 652.4 L181.4 653.5 L182.5 654.8 L183.6 656.2 L184.8 657.8 L185.9 659.5 L187.1 661.4 L188.2 663.3 L189.4 665.3 L190.5 667.4 L191.6 669.5 L192.8 671.8 L193.9 674.1 L195.1 676.5 L196.2 679.0 L197.4 681.6 L198.5 684.1 L199.7 686.7 L200.8 689.2 L202.0 691.9 L203.3 694.8 L204.7 697.8 L206.0 700.7 L207.2 703.5 L208.3 706.1 L209.3 708.2 L210.0 709.8" fill="none" stroke="#4ea6ba" stroke-width="1.3"/>
<path d="M81.7 632.6 L86.2 632.8 L92.4 633.2 L99.9 633.6 L108.0 634.0 L116.3 634.5 L124.2 635.0 L131.2 635.4 L136.7 635.9 L140.7 636.3 L143.8 636.6 L146.2 636.9 L148.1 637.3 L149.7 637.6 L151.3 638.1 L152.9 638.6 L155.0 639.2 L157.3 639.9 L159.8 640.7 L162.3 641.7 L164.7 642.7 L167.1 643.7 L169.4 644.7 L171.5 645.6 L173.3 646.6 L174.9 647.4 L176.3 648.1 L177.4 648.8 L178.5 649.4 L179.5 650.2 L180.4 651.0 L181.4 652.0 L182.5 653.1 L183.6 654.5 L184.8 655.9 L185.9 657.5 L187.1 659.2 L188.2 661.0 L189.4 663.0 L190.5 665.0 L191.6 667.1 L192.8 669.3 L193.9 671.7 L195.1 674.3 L196.2 676.9 L197.4 679.6 L198.5 682.3 L199.7 685.0 L200.8 687.6 L202.0 690.4 L203.3 693.4 L204.7 696.5 L206.0 699.6 L207.2 702.5 L208.3 705.1 L209.3 707.3 L210.0 708.9" fill="none" stroke="#3f9fba" stroke-width="1.3"/>
<path d="M81.7 630.5 L84.6 630.8 L88.7 631.1 L93.5 631.4 L98.9 631.8 L104.3 632.2 L109.6 632.6 L114.4 633.0 L118.3 633.4 L121.5 633.8 L124.2 634.1 L126.5 634.4 L128.6 634.8 L130.6 635.1 L132.5 635.5 L134.5 635.9 L136.7 636.3 L139.0 636.8 L141.2 637.3 L143.5 637.8 L145.8 638.3 L148.1 638.9 L150.4 639.5 L152.7 640.1 L155.0 640.8 L157.3 641.5 L159.8 642.3 L162.3 643.2 L164.7 644.0 L167.1 644.9 L169.4 645.7 L171.5 646.6 L173.3 647.4 L174.9 648.1 L176.3 648.8 L177.4 649.5 L178.5 650.1 L179.5 650.8 L180.4 651.5 L181.4 652.3 L182.5 653.1 L183.6 654.0 L184.8 654.9 L185.9 655.9 L187.1 656.9 L188.2 657.9 L189.4 659.0 L190.5 660.1 L191.6 661.3 L192.9 662.7 L194.2 664.2 L195.5 665.9 L196.8 667.6 L198.0 669.2 L199.2 670.7 L200.1 671.9 L200.8 672.8" fill="none" stroke="#5c4da0" stroke-width="1.3"/>
<path d="M81.7 635.9 L83.1 635.9 L85.0 635.9 L87.2 635.9 L89.7 636.0 L92.3 636.0 L95.0 636.1 L97.6 636.2 L100.0 636.3 L102.3 636.4 L104.8 636.6 L107.2 636.8 L109.6 637.0 L112.0 637.2 L114.3 637.4 L116.4 637.7 L118.3 637.9 L120.1 638.2 L121.6 638.5 L123.0 638.7 L124.3 639.0 L125.6 639.3 L126.8 639.7 L128.0 640.2 L129.3 640.8 L130.7 641.5 L132.0 642.2 L133.3 643.0 L134.7 643.9 L135.9 644.9 L137.2 645.9 L138.3 647.0 L139.4 648.2 L140.4 649.4 L141.2 650.6 L142.0 651.9 L142.7 653.2 L143.4 654.7 L144.1 656.4 L144.9 658.3 L145.8 660.5 L146.8 663.1 L147.9 666.1 L149.1 669.4 L150.2 672.8 L151.4 676.3 L152.6 679.7 L153.8 683.0 L155.0 686.0 L156.1 688.8 L157.3 691.5 L158.4 694.2 L159.6 696.8 L160.7 699.2 L161.9 701.4 L163.0 703.5 L164.2 705.3 L165.3 706.7 L166.4 707.9 L167.6 708.9 L168.7 709.6 L169.9 710.3 L171.0 710.9 L172.2 711.5 L173.3 712.2 L174.5 713.0 L175.6 713.7 L176.8 714.4 L177.9 715.0 L179.0 715.7 L180.2 716.2 L181.3 716.7 L182.5 717.2 L183.6 717.5 L184.8 717.7 L185.9 717.9 L187.1 718.0 L188.2 718.1 L189.4 718.2 L190.5 718.3 L191.6 718.6 L192.9 718.8 L194.2 719.2 L195.5 719.5 L196.8 719.9 L198.0 720.3 L199.2 720.6 L200.1 720.9 L200.8 721.1" fill="none" stroke="#e27474" stroke-width="1.3"/>
<path d="M81.7 636.3 L82.4 636.9 L83.3 637.6 L84.4 638.5 L85.7 639.5 L87.0 640.6 L88.3 641.8 L89.6 642.9 L90.8 644.1 L92.0 645.2 L93.1 646.3 L94.3 647.5 L95.4 648.7 L96.6 649.9 L97.7 651.3 L98.9 652.7 L100.0 654.4 L101.1 656.1 L102.3 658.1 L103.4 660.1 L104.6 662.3 L105.7 664.5 L106.9 666.7 L108.0 669.0 L109.2 671.2 L110.3 673.4 L111.5 675.7 L112.6 678.0 L113.7 680.3 L114.9 682.7 L116.0 684.9 L117.2 687.1 L118.3 689.2 L119.5 691.3 L120.6 693.3 L121.8 695.3 L122.9 697.2 L124.1 699.0 L125.2 700.8 L126.3 702.5 L127.5 704.0 L128.6 705.5 L129.8 706.8 L130.9 708.1 L132.1 709.2 L133.2 710.3 L134.4 711.3 L135.5 712.2 L136.7 713.1 L137.8 713.8 L139.0 714.5 L140.1 715.0 L141.2 715.5 L142.4 715.9 L143.5 716.3 L144.7 716.7 L145.8 717.0 L146.9 717.3 L147.9 717.5 L148.9 717.7 L149.8 717.9 L150.9 718.0 L152.1 718.1 L153.4 718.2 L155.0 718.3 L157.0 718.4 L159.4 718.5 L162.0 718.6 L164.7 718.6 L167.4 718.7 L169.8 718.7 L171.8 718.8 L173.3 718.8" fill="none" stroke="#6b6b6b" stroke-width="1.3"/>
<path d="M145.8 626.0V645.7M143.2 626.0h5.2M143.2 645.7h5.2" stroke="#5c4da0" stroke-width="0.9" fill="none"/>
<circle cx="145.8" cy="635.9" r="2.8" fill="#5c4da0"/>
<circle cx="173.3" cy="642.4" r="2.8" fill="#5c4da0"/>
<circle cx="182.5" cy="653.1" r="2.8" fill="#5c4da0"/>
<circle cx="191.6" cy="661.3" r="2.8" fill="#5c4da0"/>
<circle cx="200.8" cy="672.8" r="2.8" fill="#5c4da0"/>
<circle cx="155.0" cy="648.2" r="2.8" fill="#3f9fba"/>
<circle cx="173.3" cy="644.9" r="2.8" fill="#3f9fba"/>
<circle cx="182.5" cy="651.5" r="2.8" fill="#3f9fba"/>
<circle cx="191.6" cy="666.3" r="2.8" fill="#3f9fba"/>
<circle cx="200.8" cy="686.0" r="2.8" fill="#3f9fba"/>
<circle cx="136.7" cy="638.1" r="2.8" fill="#3f9fba"/>
<circle cx="145.8" cy="633.5" r="2.8" fill="#3f9fba"/>
<circle cx="164.2" cy="643.1" r="2.8" fill="#3f9fba"/>
<circle cx="210.0" cy="706.2" r="2.8" fill="#3f9fba"/>
<path d="M81.7 614.5V647.4M79.1 614.5h5.2M79.1 647.4h5.2" stroke="#4ea6ba" stroke-width="0.9" fill="none"/>
<circle cx="81.7" cy="631.0" r="2.8" fill="#4ea6ba"/>
<path d="M136.7 627.7V635.9M134.1 627.7h5.2M134.1 635.9h5.2" stroke="#4ea6ba" stroke-width="0.9" fill="none"/>
<circle cx="136.7" cy="631.8" r="2.8" fill="#4ea6ba"/>
<circle cx="145.8" cy="646.6" r="2.8" fill="#4ea6ba"/>
<circle cx="155.0" cy="644.9" r="2.8" fill="#4ea6ba"/>
<circle cx="173.3" cy="643.3" r="2.8" fill="#4ea6ba"/>
<circle cx="182.5" cy="653.1" r="2.8" fill="#4ea6ba"/>
<circle cx="191.6" cy="670.4" r="2.8" fill="#4ea6ba"/>
<circle cx="200.8" cy="689.2" r="2.8" fill="#4ea6ba"/>
<circle cx="210.0" cy="709.8" r="2.8" fill="#4ea6ba"/>
<circle cx="164.2" cy="646.1" r="2.8" fill="#4ea6ba"/>
<path d="M145.8 656.4V666.3M143.2 656.4h5.2M143.2 666.3h5.2" stroke="#e27474" stroke-width="0.9" fill="none"/>
<circle cx="145.8" cy="661.3" r="2.8" fill="#e27474"/>
<path d="M155.0 682.7V689.2M152.4 682.7h5.2M152.4 689.2h5.2" stroke="#e27474" stroke-width="0.9" fill="none"/>
<circle cx="155.0" cy="686.0" r="2.8" fill="#e27474"/>
<path d="M164.2 702.0V708.5M161.6 702.0h5.2M161.6 708.5h5.2" stroke="#e27474" stroke-width="0.9" fill="none"/>
<circle cx="164.2" cy="705.3" r="2.8" fill="#e27474"/>
<circle cx="173.3" cy="711.8" r="2.8" fill="#e27474"/>
<circle cx="182.5" cy="717.3" r="2.8" fill="#e27474"/>
<circle cx="191.6" cy="718.6" r="2.8" fill="#e27474"/>
<circle cx="200.8" cy="721.1" r="2.8" fill="#e27474"/>
<circle cx="81.7" cy="636.3" r="2.8" fill="#6b6b6b"/>
<path d="M96.9 650.9V659.1M94.3 650.9h5.2M94.3 659.1h5.2" stroke="#6b6b6b" stroke-width="0.9" fill="none"/>
<circle cx="96.9" cy="655.0" r="2.8" fill="#6b6b6b"/>
<circle cx="109.7" cy="674.0" r="2.8" fill="#6b6b6b"/>
<circle cx="122.4" cy="695.8" r="2.8" fill="#6b6b6b"/>
<circle cx="135.2" cy="714.5" r="2.8" fill="#6b6b6b"/>
<circle cx="147.5" cy="717.5" r="2.8" fill="#6b6b6b"/>
<circle cx="160.3" cy="718.8" r="2.8" fill="#6b6b6b"/>
<circle cx="173.7" cy="718.8" r="2.8" fill="#6b6b6b"/>
<circle cx="155.0" cy="642.4" r="2.8" fill="#c2e4a0"/>
<circle cx="173.3" cy="640.0" r="2.8" fill="#c2e4a0"/>
<circle cx="182.5" cy="649.8" r="2.8" fill="#c2e4a0"/>
<circle cx="191.6" cy="659.7" r="2.8" fill="#c2e4a0"/>
<circle cx="200.8" cy="673.6" r="2.8" fill="#c2e4a0"/>
<circle cx="136.7" cy="643.7" r="2.8" fill="#c2e4a0"/>
<circle cx="145.8" cy="645.6" r="2.8" fill="#c2e4a0"/>
<circle cx="164.2" cy="645.3" r="2.8" fill="#c2e4a0"/>
<circle cx="210.0" cy="691.5" r="2.8" fill="#c2e4a0"/>
<path d="M81.7 640.8V647.4M79.1 640.8h5.2M79.1 647.4h5.2" stroke="#b5de8e" stroke-width="0.9" fill="none"/>
<circle cx="81.7" cy="644.1" r="2.8" fill="#b5de8e"/>
<circle cx="145.8" cy="642.4" r="2.8" fill="#b5de8e"/>
<path d="M155.0 643.3V648.2M152.4 643.3h5.2M152.4 648.2h5.2" stroke="#b5de8e" stroke-width="0.9" fill="none"/>
<circle cx="155.0" cy="645.7" r="2.8" fill="#b5de8e"/>
<circle cx="164.2" cy="644.1" r="2.8" fill="#b5de8e"/>
<path d="M173.3 644.1V649.0M170.7 644.1h5.2M170.7 649.0h5.2" stroke="#b5de8e" stroke-width="0.9" fill="none"/>
<circle cx="173.3" cy="646.6" r="2.8" fill="#b5de8e"/>
<circle cx="182.5" cy="648.2" r="2.8" fill="#b5de8e"/>
<circle cx="191.6" cy="664.6" r="2.8" fill="#b5de8e"/>
<circle cx="200.8" cy="680.2" r="2.8" fill="#b5de8e"/>
<circle cx="210.0" cy="694.2" r="2.8" fill="#b5de8e"/>
<circle cx="136.7" cy="647.1" r="2.8" fill="#b5de8e"/>
<circle cx="81.7" cy="640.8" r="2.8" fill="#a894d8"/>
<path d="M145.8 644.9V649.8M143.2 644.9h5.2M143.2 649.8h5.2" stroke="#a894d8" stroke-width="0.9" fill="none"/>
<circle cx="145.8" cy="647.4" r="2.8" fill="#a894d8"/>
<path d="M155.0 644.9V651.5M152.4 644.9h5.2M152.4 651.5h5.2" stroke="#a894d8" stroke-width="0.9" fill="none"/>
<circle cx="155.0" cy="648.2" r="2.8" fill="#a894d8"/>
<path d="M164.2 648.2V658.0M161.6 648.2h5.2M161.6 658.0h5.2" stroke="#a894d8" stroke-width="0.9" fill="none"/>
<circle cx="164.2" cy="653.1" r="2.8" fill="#a894d8"/>
<circle cx="173.3" cy="649.8" r="2.8" fill="#a894d8"/>
<circle cx="182.5" cy="659.7" r="2.8" fill="#a894d8"/>
<circle cx="191.6" cy="676.9" r="2.8" fill="#a894d8"/>
<path d="M200.8 694.2V700.7M198.2 694.2h5.2M198.2 700.7h5.2" stroke="#a894d8" stroke-width="0.9" fill="none"/>
<circle cx="200.8" cy="697.5" r="2.8" fill="#a894d8"/>
<circle cx="136.7" cy="646.8" r="2.8" fill="#a894d8"/>
<circle cx="136.7" cy="638.3" r="2.8" fill="#d99fdc"/>
<circle cx="155.0" cy="638.3" r="2.8" fill="#d99fdc"/>
<circle cx="173.3" cy="639.2" r="2.8" fill="#d99fdc"/>
<circle cx="182.5" cy="646.6" r="2.8" fill="#d99fdc"/>
<path d="M191.6 687.6V695.8M189.0 687.6h5.2M189.0 695.8h5.2" stroke="#d99fdc" stroke-width="0.9" fill="none"/>
<circle cx="191.6" cy="691.7" r="2.8" fill="#d99fdc"/>
<circle cx="200.8" cy="733.6" r="2.8" fill="#d99fdc"/>
<circle cx="145.8" cy="640.9" r="2.8" fill="#d99fdc"/>
<circle cx="164.2" cy="634.5" r="2.8" fill="#d99fdc"/>
<path d="M81.7 626.0V647.4M79.1 626.0h5.2M79.1 647.4h5.2" stroke="#dda2d8" stroke-width="0.9" fill="none"/>
<circle cx="81.7" cy="636.7" r="2.8" fill="#dda2d8"/>
<circle cx="136.7" cy="636.7" r="2.8" fill="#dda2d8"/>
<circle cx="145.8" cy="639.2" r="2.8" fill="#dda2d8"/>
<circle cx="155.0" cy="635.9" r="2.8" fill="#dda2d8"/>
<circle cx="164.2" cy="635.9" r="2.8" fill="#dda2d8"/>
<path d="M173.3 630.1V638.3M170.7 630.1h5.2M170.7 638.3h5.2" stroke="#dda2d8" stroke-width="0.9" fill="none"/>
<circle cx="173.3" cy="634.2" r="2.8" fill="#dda2d8"/>
<circle cx="182.5" cy="640.8" r="2.8" fill="#dda2d8"/>
<circle cx="191.6" cy="648.2" r="2.8" fill="#dda2d8"/>
<path d="M200.8 650.7V657.2M198.2 650.7h5.2M198.2 657.2h5.2" stroke="#dda2d8" stroke-width="0.9" fill="none"/>
<circle cx="200.8" cy="653.9" r="2.8" fill="#dda2d8"/>
<circle cx="210.0" cy="660.5" r="2.8" fill="#dda2d8"/>
<circle cx="81.7" cy="630.6" r="2.8" fill="#4ea6ba"/>
<circle cx="81.7" cy="636.3" r="2.8" fill="#6b6b6b"/>
<path d="M63.2 594.1V760.4M57.6 595.4H63.2M57.6 636.6H63.2M57.6 677.7H63.2M57.6 718.9H63.2M57.6 759.6H63.2" stroke="#000" stroke-width="2" fill="none"/>
<path d="M62.2 718.9H248.6" stroke="#000" stroke-width="2" fill="none"/>
<line x1="100.0" y1="718.8" x2="100.0" y2="725.0" stroke="#000" stroke-width="1.8"/>
<text x="100.0" y="734.9" font-size="9.0" text-anchor="middle" font-weight="bold" fill="#111" textLength="12.5" lengthAdjust="spacingAndGlyphs">-10</text>
<line x1="136.7" y1="718.8" x2="136.7" y2="725.0" stroke="#000" stroke-width="1.8"/>
<text x="136.7" y="734.9" font-size="9.0" text-anchor="middle" font-weight="bold" fill="#111" textLength="8.5" lengthAdjust="spacingAndGlyphs">-8</text>
<line x1="173.3" y1="718.8" x2="173.3" y2="725.0" stroke="#000" stroke-width="1.8"/>
<text x="173.3" y="734.9" font-size="9.0" text-anchor="middle" font-weight="bold" fill="#111" textLength="8.5" lengthAdjust="spacingAndGlyphs">-6</text>
<line x1="210.0" y1="718.8" x2="210.0" y2="725.0" stroke="#000" stroke-width="1.8"/>
<text x="210.0" y="734.9" font-size="9.0" text-anchor="middle" font-weight="bold" fill="#111" textLength="8.5" lengthAdjust="spacingAndGlyphs">-4</text>
<line x1="246.6" y1="718.8" x2="246.6" y2="725.0" stroke="#000" stroke-width="1.8"/>
<text x="246.6" y="734.9" font-size="9.0" text-anchor="middle" font-weight="bold" fill="#111" textLength="8.5" lengthAdjust="spacingAndGlyphs">-2</text>
<text x="56.0" y="598.8" font-size="9.0" text-anchor="end" font-weight="bold" fill="#111" textLength="14.6" lengthAdjust="spacingAndGlyphs">150</text>
<text x="56.0" y="639.8" font-size="9.0" text-anchor="end" font-weight="bold" fill="#111" textLength="14.6" lengthAdjust="spacingAndGlyphs">100</text>
<text x="56.0" y="680.9" font-size="9.0" text-anchor="end" font-weight="bold" fill="#111" textLength="9.0" lengthAdjust="spacingAndGlyphs">50</text>
<text x="56.0" y="721.9" font-size="9.0" text-anchor="end" font-weight="bold" fill="#111" textLength="4.5" lengthAdjust="spacingAndGlyphs">0</text>
<text x="56.0" y="762.9" font-size="9.0" text-anchor="end" font-weight="bold" fill="#111" textLength="12.2" lengthAdjust="spacingAndGlyphs">-50</text>
<text x="108.9" y="748.6" font-size="9.6" font-weight="bold" fill="#111" textLength="93.0" lengthAdjust="spacingAndGlyphs">Log [Compound] [M]</text>
<circle cx="38.2" cy="656.9" r="0.6" fill="#444"/>
<line x1="273.3" y1="603.8" x2="286.6" y2="603.8" stroke="#6b6b6b" stroke-width="1.8"/>
<circle cx="280" cy="603.8" r="2.9" fill="#6b6b6b"/>
<text x="291.1" y="607.6" font-size="10.6" fill="#111" textLength="56.5" lengthAdjust="spacingAndGlyphs">JNJ7706621</text>
<line x1="273.3" y1="619.5" x2="286.6" y2="619.5" stroke="#a894d8" stroke-width="1.8"/>
<circle cx="280" cy="619.5" r="2.9" fill="#a894d8"/>
<text x="291.1" y="623.3" font-size="10.6" fill="#111" textLength="59.4" lengthAdjust="spacingAndGlyphs">A-outer5_28</text>
<line x1="273.3" y1="636.6" x2="286.6" y2="636.6" stroke="#dda2d8" stroke-width="1.8"/>
<circle cx="280" cy="636.6" r="2.9" fill="#dda2d8"/>
<text x="291.1" y="640.4" font-size="10.6" fill="#111" textLength="48.8" lengthAdjust="spacingAndGlyphs">outer1_28</text>
<line x1="273.3" y1="652.1" x2="286.6" y2="652.1" stroke="#b5de8e" stroke-width="1.8"/>
<circle cx="280" cy="652.1" r="2.9" fill="#b5de8e"/>
<text x="291.1" y="655.9" font-size="10.6" fill="#111" textLength="48.8" lengthAdjust="spacingAndGlyphs">outer5_28</text>
<line x1="273.3" y1="668.7" x2="286.6" y2="668.7" stroke="#4ea6ba" stroke-width="1.8"/>
<circle cx="280" cy="668.7" r="2.9" fill="#4ea6ba"/>
<text x="291.1" y="672.5" font-size="10.6" fill="#111" textLength="65.4" lengthAdjust="spacingAndGlyphs">A-outer5_137</text>
<line x1="273.3" y1="685.8" x2="286.6" y2="685.8" stroke="#5c4da0" stroke-width="1.8"/>
<circle cx="280" cy="685.8" r="2.9" fill="#5c4da0"/>
<text x="292.8" y="689.6" font-size="10.6" fill="#111" textLength="53.7" lengthAdjust="spacingAndGlyphs">outer5_137</text>
<line x1="273.3" y1="700.9" x2="286.6" y2="700.9" stroke="#e27474" stroke-width="1.8"/>
<circle cx="280" cy="700.9" r="2.9" fill="#e27474"/>
<text x="292.8" y="704.7" font-size="10.6" fill="#111" textLength="53.7" lengthAdjust="spacingAndGlyphs">outer5_105</text>
<line x1="273.3" y1="717.6" x2="286.6" y2="717.6" stroke="#d99fdc" stroke-width="1.8"/>
<circle cx="280" cy="717.6" r="2.9" fill="#d99fdc"/>
<text x="292.8" y="721.4" font-size="10.6" fill="#111" textLength="53.7" lengthAdjust="spacingAndGlyphs">outer5_193</text>
<line x1="273.3" y1="734.2" x2="286.6" y2="734.2" stroke="#c2e4a0" stroke-width="1.8"/>
<circle cx="280" cy="734.2" r="2.9" fill="#c2e4a0"/>
<text x="293.3" y="738.0" font-size="10.6" fill="#111" textLength="64.3" lengthAdjust="spacingAndGlyphs">(S)-outer1_15</text>
<line x1="273.3" y1="750.8" x2="286.6" y2="750.8" stroke="#3f9fba" stroke-width="1.8"/>
<circle cx="280" cy="750.8" r="2.9" fill="#3f9fba"/>
<text x="294.4" y="754.6" font-size="10.6" fill="#111" textLength="64.3" lengthAdjust="spacingAndGlyphs">(R)-outer1_15</text>
<g class="tb"><rect x="393.8" y="599.5" width="219" height="20.3" fill="#bcbfbd"/>
<text x="425.3" y="614.6" font-size="13" fill="#231f20" textLength="12.3" lengthAdjust="spacingAndGlyphs">ID</text>
<text x="470.8" y="612.4" font-size="6.6" fill="#231f20" textLength="64.9" lengthAdjust="spacingAndGlyphs" style="stroke:none">Log[compound][M]</text>
<text x="550.4" y="614.6" font-size="13" fill="#231f20" textLength="49" lengthAdjust="spacingAndGlyphs">IC<tspan font-size="8.5">50</tspan> (μM)</text>
<text x="403.2" y="631.7" font-size="11.4" fill="#231f20" textLength="49.1" lengthAdjust="spacingAndGlyphs">outer1_28</text>
<text x="502.0" y="631.7" font-size="11.4" text-anchor="middle" fill="#231f20" textLength="23.8" lengthAdjust="spacingAndGlyphs">-5.15</text>
<text x="576.5" y="631.7" font-size="11.4" text-anchor="middle" fill="#231f20" textLength="5.8" lengthAdjust="spacingAndGlyphs">7</text>
<text x="403.2" y="648.6" font-size="11.4" fill="#231f20" textLength="54.7" lengthAdjust="spacingAndGlyphs">outer5_105</text>
<text x="502.0" y="648.6" font-size="11.4" text-anchor="middle" fill="#231f20" textLength="23.8" lengthAdjust="spacingAndGlyphs">-7.15</text>
<text x="576.5" y="648.6" font-size="11.4" text-anchor="middle" fill="#231f20" textLength="26.2" lengthAdjust="spacingAndGlyphs">0.071</text>
<text x="403.2" y="664.7" font-size="11.4" fill="#231f20" textLength="49.1" lengthAdjust="spacingAndGlyphs">outer5_28</text>
<text x="502.0" y="664.7" font-size="11.4" text-anchor="middle" fill="#231f20" textLength="23.8" lengthAdjust="spacingAndGlyphs">-4.52</text>
<text x="576.5" y="664.7" font-size="11.4" text-anchor="middle" fill="#231f20" textLength="11.6" lengthAdjust="spacingAndGlyphs">30</text>
<text x="403.2" y="681.2" font-size="11.4" fill="#231f20" textLength="60.6" lengthAdjust="spacingAndGlyphs">A-outer5_28</text>
<text x="502.0" y="682.2" font-size="11.4" text-anchor="middle" fill="#231f20" textLength="23.8" lengthAdjust="spacingAndGlyphs">-5.00</text>
<text x="576.5" y="681.2" font-size="11.4" text-anchor="middle" fill="#231f20" textLength="11.6" lengthAdjust="spacingAndGlyphs">10</text>
<text x="403.2" y="697.1" font-size="11.4" fill="#231f20" textLength="55.4" lengthAdjust="spacingAndGlyphs">outer5_137</text>
<text x="502.0" y="697.6" font-size="11.4" text-anchor="middle" fill="#231f20" textLength="23.8" lengthAdjust="spacingAndGlyphs">-4.49</text>
<text x="576.5" y="697.1" font-size="11.4" text-anchor="middle" fill="#231f20" textLength="11.6" lengthAdjust="spacingAndGlyphs">32</text>
<text x="403.2" y="713.7" font-size="9.9" fill="#231f20" textLength="59.6" lengthAdjust="spacingAndGlyphs">A-outer5_137</text>
<text x="502.0" y="713.7" font-size="11.4" text-anchor="middle" fill="#231f20" textLength="23.8" lengthAdjust="spacingAndGlyphs">-5.15</text>
<text x="576.5" y="713.7" font-size="11.4" text-anchor="middle" fill="#231f20" textLength="5.8" lengthAdjust="spacingAndGlyphs">7</text>
<text x="402.5" y="730.2" font-size="9.6" fill="#231f20" textLength="60.3" lengthAdjust="spacingAndGlyphs">(R)-outer1_15</text>
<text x="502.0" y="730.9" font-size="11.4" text-anchor="middle" fill="#231f20" textLength="23.8" lengthAdjust="spacingAndGlyphs">-5.00</text>
<text x="576.5" y="730.2" font-size="11.4" text-anchor="middle" fill="#231f20" textLength="11.6" lengthAdjust="spacingAndGlyphs">10</text>
<text x="402.5" y="748.8" font-size="9.6" fill="#231f20" textLength="60.3" lengthAdjust="spacingAndGlyphs">(S)-outer1_15</text>
<text x="502.0" y="747.7" font-size="11.4" text-anchor="middle" fill="#231f20" textLength="23.8" lengthAdjust="spacingAndGlyphs">-4.52</text>
<text x="576.5" y="748.8" font-size="11.4" text-anchor="middle" fill="#231f20" textLength="11.6" lengthAdjust="spacingAndGlyphs">30</text>
<text x="403.2" y="763.5" font-size="11.4" fill="#231f20" textLength="55.4" lengthAdjust="spacingAndGlyphs">outer5_193</text>
<text x="502.0" y="763.5" font-size="11.4" text-anchor="middle" fill="#231f20" textLength="23.8" lengthAdjust="spacingAndGlyphs">-5.15</text>
<text x="576.5" y="763.5" font-size="11.4" text-anchor="middle" fill="#231f20" textLength="24.5" lengthAdjust="spacingAndGlyphs">&gt;100</text></g>
</svg>
</body></html>
